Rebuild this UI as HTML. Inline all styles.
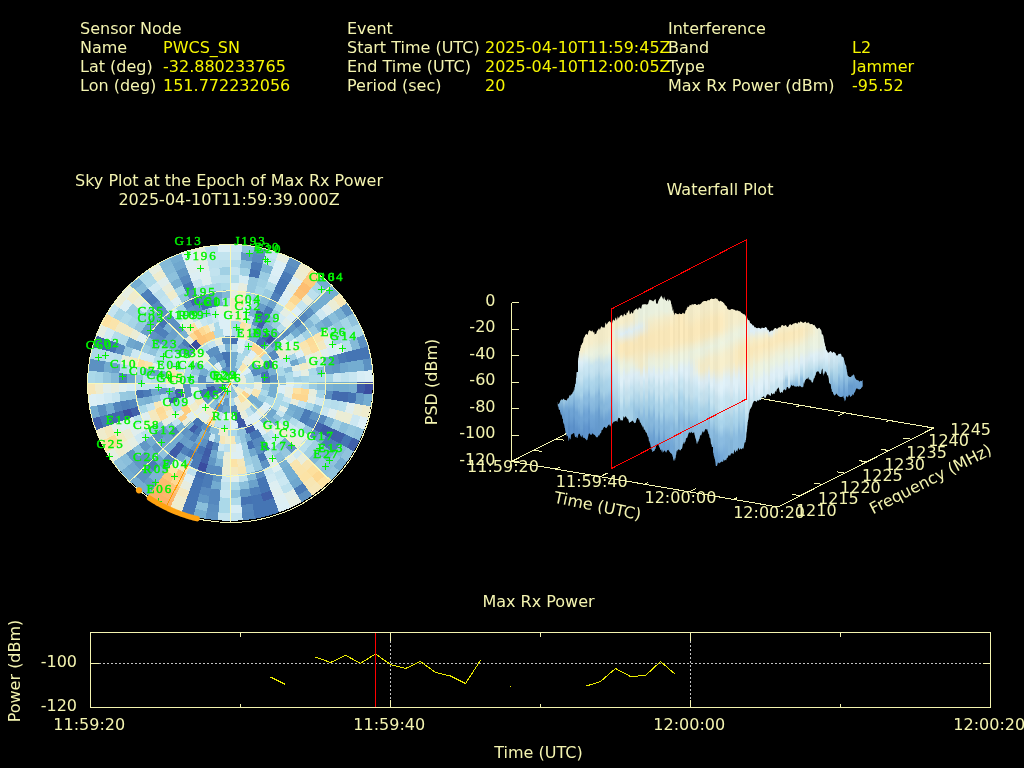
<!DOCTYPE html>
<html lang="en"><head><meta charset="utf-8"><title>Interference Event Report</title>
<style>
html,body{margin:0;padding:0;background:#000;width:1024px;height:768px;overflow:hidden}
svg{display:block;font-family:"DejaVu Sans","Liberation Sans",sans-serif}
</style></head><body>
<svg width="1024" height="768" viewBox="0 0 1024 768">
<rect width="1024" height="768" fill="#000"/>
<g shape-rendering="crispEdges" stroke="none">
<path d="M229.7 244.2L236.2 244.4L242.7 244.8L242.0 253.2L235.8 252.8L229.7 252.7Z" fill="#cde8f2"/>
<path d="M242.1 244.7L248.6 245.4L255.1 246.4L253.5 254.7L247.5 253.8L241.4 253.2Z" fill="#90c3dd"/>
<path d="M254.5 246.3L260.9 247.5L267.2 249.0L265.0 257.2L259.0 255.8L253.0 254.6Z" fill="#5d91c2"/>
<path d="M266.7 248.9L272.9 250.6L279.1 252.7L276.1 260.6L270.3 258.7L264.4 257.1Z" fill="#c4e4f0"/>
<path d="M278.6 252.5L284.6 254.7L290.6 257.3L286.9 265.0L281.3 262.6L275.6 260.5Z" fill="#e6eee2"/>
<path d="M290.1 257.1L295.9 259.8L301.7 262.9L297.2 270.2L291.9 267.4L286.4 264.8Z" fill="#5d91c2"/>
<path d="M301.1 262.6L306.7 265.9L312.1 269.4L307.1 276.3L302.0 273.0L296.8 270.0Z" fill="#efeccd"/>
<path d="M311.7 269.1L316.9 272.8L322.0 276.8L316.4 283.3L311.6 279.5L306.6 276.0Z" fill="#fdcb7d"/>
<path d="M321.6 276.4L326.5 280.6L331.2 284.9L325.0 290.9L320.5 286.8L315.9 282.9Z" fill="#74add1"/>
<path d="M330.8 284.5L335.3 289.1L339.6 293.8L332.8 299.3L328.8 294.8L324.6 290.5Z" fill="#74add1"/>
<path d="M339.2 293.4L343.3 298.3L347.1 303.4L339.9 308.3L336.3 303.5L332.5 298.9Z" fill="#f6e7b8"/>
<path d="M346.8 303.0L350.4 308.2L353.8 313.6L346.2 317.8L343.0 312.8L339.6 307.8Z" fill="#5c91c2"/>
<path d="M353.5 313.1L356.7 318.7L359.5 324.3L351.6 327.9L348.9 322.6L345.9 317.4Z" fill="#90c3dd"/>
<path d="M359.3 323.8L361.9 329.6L364.3 335.5L356.0 338.4L353.8 332.8L351.3 327.4Z" fill="#abd9e9"/>
<path d="M364.1 334.9L366.2 340.9L368.0 347.0L359.5 349.2L357.8 343.5L355.8 337.9Z" fill="#5c91c2"/>
<path d="M367.8 346.4L369.4 352.6L370.7 358.8L362.0 360.2L360.8 354.4L359.4 348.6Z" fill="#4575b4"/>
<path d="M370.6 358.2L371.6 364.5L372.3 370.7L363.5 371.5L362.9 365.6L361.9 359.7Z" fill="#5c91c2"/>
<path d="M372.2 370.2L372.6 376.5L372.8 382.8L364.0 382.8L363.9 376.8L363.5 370.9Z" fill="#dceff6"/>
<path d="M372.8 382.2L372.6 388.5L372.2 394.8L363.5 394.1L363.9 388.2L364.0 382.2Z" fill="#3a4ca0"/>
<path d="M372.3 394.3L371.6 400.5L370.6 406.8L361.9 405.3L362.9 399.4L363.5 393.5Z" fill="#74add1"/>
<path d="M370.7 406.2L369.4 412.4L367.8 418.6L359.4 416.4L360.8 410.6L362.0 404.8Z" fill="#efeccd"/>
<path d="M368.0 418.0L366.2 424.1L364.1 430.1L355.8 427.1L357.8 421.5L359.5 415.8Z" fill="#dceff6"/>
<path d="M364.3 429.5L361.9 435.4L359.3 441.2L351.3 437.6L353.8 432.2L356.0 426.6Z" fill="#90c3dd"/>
<path d="M359.5 440.7L356.7 446.3L353.5 451.9L345.9 447.6L348.9 442.4L351.6 437.1Z" fill="#4060aa"/>
<path d="M353.8 451.4L350.4 456.8L346.8 462.0L339.6 457.2L343.0 452.2L346.2 447.2Z" fill="#90c3dd"/>
<path d="M347.1 461.6L343.3 466.7L339.2 471.6L332.5 466.1L336.3 461.5L339.9 456.7Z" fill="#74add1"/>
<path d="M339.6 471.2L335.3 475.9L330.8 480.5L324.6 474.5L328.8 470.2L332.8 465.7Z" fill="#90c3dd"/>
<path d="M331.2 480.1L326.5 484.4L321.6 488.6L315.9 482.1L320.5 478.2L325.0 474.1Z" fill="#fde2a2"/>
<path d="M322.0 488.2L316.9 492.2L311.7 495.9L306.6 489.0L311.6 485.5L316.4 481.7Z" fill="#f6e7b8"/>
<path d="M312.1 495.6L306.7 499.1L301.1 502.4L296.8 495.0L302.0 492.0L307.1 488.7Z" fill="#5d91c2"/>
<path d="M301.7 502.1L295.9 505.2L290.1 507.9L286.4 500.2L291.9 497.6L297.2 494.8Z" fill="#e6eee2"/>
<path d="M290.6 507.7L284.6 510.3L278.6 512.5L275.6 504.5L281.3 502.4L286.9 500.0Z" fill="#dceff6"/>
<path d="M279.1 512.3L272.9 514.4L266.7 516.1L264.4 507.9L270.3 506.3L276.1 504.4Z" fill="#4575b4"/>
<path d="M267.2 516.0L260.9 517.5L254.5 518.7L253.0 510.4L259.0 509.2L265.0 507.8Z" fill="#4575b4"/>
<path d="M255.1 518.6L248.6 519.6L242.1 520.3L241.4 511.8L247.5 511.2L253.5 510.3Z" fill="#5386bd"/>
<path d="M242.7 520.2L236.2 520.6L229.7 520.8L229.7 512.3L235.8 512.2L242.0 511.8Z" fill="#c4e4f0"/>
<path d="M230.3 520.8L223.8 520.6L217.3 520.2L218.0 511.8L224.2 512.2L230.3 512.3Z" fill="#c4e4f0"/>
<path d="M217.9 520.3L211.4 519.6L204.9 518.6L206.5 510.3L212.5 511.2L218.6 511.8Z" fill="#5d91c2"/>
<path d="M205.5 518.7L199.1 517.5L192.8 516.0L195.0 507.8L201.0 509.2L207.0 510.4Z" fill="#74add1"/>
<path d="M193.3 516.1L187.1 514.4L180.9 512.3L183.9 504.4L189.7 506.3L195.6 507.9Z" fill="#4575b4"/>
<path d="M181.4 512.5L175.4 510.3L169.4 507.7L173.1 500.0L178.7 502.4L184.4 504.5Z" fill="#efeccd"/>
<path d="M169.9 507.9L164.1 505.2L158.3 502.1L162.8 494.8L168.1 497.6L173.6 500.2Z" fill="#fdb268"/>
<path d="M158.9 502.4L153.3 499.1L147.9 495.6L152.9 488.7L158.0 492.0L163.2 495.0Z" fill="#fdb268"/>
<path d="M148.3 495.9L143.1 492.2L138.0 488.2L143.6 481.7L148.4 485.5L153.4 489.0Z" fill="#74add1"/>
<path d="M138.4 488.6L133.5 484.4L128.8 480.1L135.0 474.1L139.5 478.2L144.1 482.1Z" fill="#74add1"/>
<path d="M129.2 480.5L124.7 475.9L120.4 471.2L127.2 465.7L131.2 470.2L135.4 474.5Z" fill="#74add1"/>
<path d="M120.8 471.6L116.7 466.7L112.9 461.6L120.1 456.7L123.7 461.5L127.5 466.1Z" fill="#90c3dd"/>
<path d="M113.2 462.0L109.6 456.8L106.2 451.4L113.8 447.2L117.0 452.2L120.4 457.2Z" fill="#e6eee2"/>
<path d="M106.5 451.9L103.3 446.3L100.5 440.7L108.4 437.1L111.1 442.4L114.1 447.6Z" fill="#fde2a2"/>
<path d="M100.7 441.2L98.1 435.4L95.7 429.5L104.0 426.6L106.2 432.2L108.7 437.6Z" fill="#efeccd"/>
<path d="M95.9 430.1L93.8 424.1L92.0 418.0L100.5 415.8L102.2 421.5L104.2 427.1Z" fill="#4060aa"/>
<path d="M92.2 418.6L90.6 412.4L89.3 406.2L98.0 404.8L99.2 410.6L100.6 416.4Z" fill="#74add1"/>
<path d="M89.4 406.8L88.4 400.5L87.7 394.3L96.5 393.5L97.1 399.4L98.1 405.3Z" fill="#dceff6"/>
<path d="M87.8 394.8L87.4 388.5L87.2 382.2L96.0 382.2L96.1 388.2L96.5 394.1Z" fill="#f6e7b8"/>
<path d="M87.2 382.8L87.4 376.5L87.8 370.2L96.5 370.9L96.1 376.8L96.0 382.8Z" fill="#abd9e9"/>
<path d="M87.7 370.7L88.4 364.5L89.4 358.2L98.1 359.7L97.1 365.6L96.5 371.5Z" fill="#5c91c2"/>
<path d="M89.3 358.8L90.6 352.6L92.2 346.4L100.6 348.6L99.2 354.4L98.0 360.2Z" fill="#abd9e9"/>
<path d="M92.0 347.0L93.8 340.9L95.9 334.9L104.2 337.9L102.2 343.5L100.5 349.2Z" fill="#4060aa"/>
<path d="M95.7 335.5L98.1 329.6L100.7 323.8L108.7 327.4L106.2 332.8L104.0 338.4Z" fill="#e6eee2"/>
<path d="M100.5 324.3L103.3 318.7L106.5 313.1L114.1 317.4L111.1 322.6L108.4 327.9Z" fill="#fde2a2"/>
<path d="M106.2 313.6L109.6 308.2L113.2 303.0L120.4 307.8L117.0 312.8L113.8 317.8Z" fill="#c4e4f0"/>
<path d="M112.9 303.4L116.7 298.3L120.8 293.4L127.5 298.9L123.7 303.5L120.1 308.3Z" fill="#ebedd5"/>
<path d="M120.4 293.8L124.7 289.1L129.2 284.5L135.4 290.5L131.2 294.8L127.2 299.3Z" fill="#e6eee2"/>
<path d="M128.8 284.9L133.5 280.6L138.4 276.4L144.1 282.9L139.5 286.8L135.0 290.9Z" fill="#74add1"/>
<path d="M138.0 276.8L143.1 272.8L148.3 269.1L153.4 276.0L148.4 279.5L143.6 283.3Z" fill="#abd9e9"/>
<path d="M147.9 269.4L153.3 265.9L158.9 262.6L163.2 270.0L158.0 273.0L152.9 276.3Z" fill="#e6eee2"/>
<path d="M158.3 262.9L164.1 259.8L169.9 257.1L173.6 264.8L168.1 267.4L162.8 270.2Z" fill="#84bad8"/>
<path d="M169.4 257.3L175.4 254.7L181.4 252.5L184.4 260.5L178.7 262.6L173.1 265.0Z" fill="#74add1"/>
<path d="M180.9 252.7L187.1 250.6L193.3 248.9L195.6 257.1L189.7 258.7L183.9 260.6Z" fill="#dceff6"/>
<path d="M192.8 249.0L199.1 247.5L205.5 246.3L207.0 254.6L201.0 255.8L195.0 257.2Z" fill="#e6eee2"/>
<path d="M204.9 246.4L211.4 245.4L217.9 244.7L218.6 253.2L212.5 253.8L206.5 254.7Z" fill="#bae0ed"/>
<path d="M217.3 244.8L223.8 244.4L230.3 244.2L230.3 252.7L224.2 252.8L218.0 253.2Z" fill="#dceff6"/>
<path d="M229.7 251.9L235.9 252.0L242.0 252.4L241.3 260.9L235.5 260.5L229.7 260.4Z" fill="#c6e5f0"/>
<path d="M241.5 252.4L247.6 253.0L253.7 253.9L252.2 262.3L246.5 261.4L240.7 260.8Z" fill="#6197c5"/>
<path d="M253.1 253.8L259.2 255.0L265.2 256.4L262.9 264.6L257.3 263.3L251.6 262.2Z" fill="#588bc0"/>
<path d="M264.6 256.3L270.6 257.9L276.4 259.9L273.4 267.8L267.9 266.0L262.4 264.5Z" fill="#bae0ed"/>
<path d="M275.9 259.7L281.6 261.8L287.3 264.2L283.5 271.9L278.3 269.7L272.9 267.7Z" fill="#dceff6"/>
<path d="M286.7 264.0L292.3 266.6L297.7 269.5L293.3 276.9L288.2 274.2L283.1 271.7Z" fill="#588bc0"/>
<path d="M297.2 269.3L302.5 272.3L307.6 275.7L302.5 282.6L297.8 279.5L292.8 276.6Z" fill="#edecd1"/>
<path d="M307.1 275.4L312.1 278.9L316.9 282.6L311.3 289.1L306.8 285.6L302.1 282.3Z" fill="#fdcb7d"/>
<path d="M316.5 282.3L321.1 286.2L325.6 290.3L319.4 296.3L315.2 292.5L310.9 288.8Z" fill="#a9d7e8"/>
<path d="M325.2 290.0L329.4 294.3L333.5 298.8L326.8 304.2L323.0 300.0L319.0 296.0Z" fill="#74add1"/>
<path d="M333.1 298.3L337.0 303.0L340.6 307.8L333.4 312.7L330.0 308.2L326.4 303.8Z" fill="#ebedd5"/>
<path d="M340.3 307.4L343.7 312.3L346.9 317.4L339.3 321.7L336.3 316.9L333.1 312.2Z" fill="#7ab1d3"/>
<path d="M346.7 317.0L349.6 322.2L352.4 327.6L344.4 331.1L341.8 326.1L339.1 321.2Z" fill="#a6d5e7"/>
<path d="M352.1 327.1L354.6 332.5L356.8 338.1L348.6 341.0L346.5 335.8L344.2 330.7Z" fill="#abd9e9"/>
<path d="M356.6 337.6L358.6 343.2L360.3 349.0L351.9 351.1L350.3 345.8L348.4 340.5Z" fill="#84bad8"/>
<path d="M360.2 348.4L361.7 354.2L362.9 360.1L354.2 361.5L353.1 356.1L351.7 350.6Z" fill="#4575b4"/>
<path d="M362.8 359.6L363.7 365.5L364.4 371.4L355.6 372.1L355.0 366.6L354.1 361.0Z" fill="#74add1"/>
<path d="M364.3 370.8L364.7 376.8L364.9 382.8L356.1 382.8L356.0 377.2L355.6 371.6Z" fill="#d7edf5"/>
<path d="M364.9 382.2L364.7 388.2L364.3 394.2L355.6 393.4L356.0 387.8L356.1 382.2Z" fill="#3e5ca8"/>
<path d="M364.4 393.6L363.7 399.5L362.8 405.4L354.1 404.0L355.0 398.4L355.6 392.9Z" fill="#689ec9"/>
<path d="M362.9 404.9L361.7 410.8L360.2 416.6L351.7 414.4L353.1 408.9L354.2 403.5Z" fill="#ebedd5"/>
<path d="M360.3 416.0L358.6 421.8L356.6 427.4L348.4 424.5L350.3 419.2L351.9 413.9Z" fill="#cde8f2"/>
<path d="M356.8 426.9L354.6 432.5L352.1 437.9L344.2 434.3L346.5 429.2L348.6 424.0Z" fill="#95c7df"/>
<path d="M352.4 437.4L349.6 442.8L346.7 448.0L339.1 443.8L341.8 438.9L344.4 433.9Z" fill="#4575b4"/>
<path d="M346.9 447.6L343.7 452.7L340.3 457.6L333.1 452.8L336.3 448.1L339.3 443.3Z" fill="#84bad8"/>
<path d="M340.6 457.2L337.0 462.0L333.1 466.7L326.4 461.2L330.0 456.8L333.4 452.3Z" fill="#90c3dd"/>
<path d="M333.5 466.2L329.4 470.7L325.2 475.0L319.0 469.0L323.0 465.0L326.8 460.8Z" fill="#8abfdb"/>
<path d="M325.6 474.7L321.1 478.8L316.5 482.7L310.9 476.2L315.2 472.5L319.4 468.7Z" fill="#fdd993"/>
<path d="M316.9 482.4L312.1 486.1L307.1 489.6L302.1 482.7L306.8 479.4L311.3 475.9Z" fill="#f7e6b3"/>
<path d="M307.6 489.3L302.5 492.7L297.2 495.7L292.8 488.4L297.8 485.5L302.5 482.4Z" fill="#4a7bb7"/>
<path d="M297.7 495.5L292.3 498.4L286.7 501.0L283.1 493.3L288.2 490.8L293.3 488.1Z" fill="#e2eee8"/>
<path d="M287.3 500.8L281.6 503.2L275.9 505.3L272.9 497.3L278.3 495.3L283.5 493.1Z" fill="#ddeff4"/>
<path d="M276.4 505.1L270.6 507.1L264.6 508.7L262.4 500.5L267.9 499.0L273.4 497.2Z" fill="#4575b4"/>
<path d="M265.2 508.6L259.2 510.0L253.1 511.2L251.6 502.8L257.3 501.7L262.9 500.4Z" fill="#4575b4"/>
<path d="M253.7 511.1L247.6 512.0L241.5 512.6L240.7 504.2L246.5 503.6L252.2 502.7Z" fill="#5588be"/>
<path d="M242.0 512.6L235.9 513.0L229.7 513.1L229.7 504.6L235.5 504.5L241.3 504.1Z" fill="#d7edf5"/>
<path d="M230.3 513.1L224.1 513.0L218.0 512.6L218.7 504.1L224.5 504.5L230.3 504.6Z" fill="#abd9e9"/>
<path d="M218.5 512.6L212.4 512.0L206.3 511.1L207.8 502.7L213.5 503.6L219.3 504.2Z" fill="#5b8fc1"/>
<path d="M206.9 511.2L200.8 510.0L194.8 508.6L197.1 500.4L202.7 501.7L208.4 502.8Z" fill="#8abfdb"/>
<path d="M195.4 508.7L189.4 507.1L183.6 505.1L186.6 497.2L192.1 499.0L197.6 500.5Z" fill="#4575b4"/>
<path d="M184.1 505.3L178.4 503.2L172.7 500.8L176.5 493.1L181.7 495.3L187.1 497.3Z" fill="#eeeccf"/>
<path d="M173.3 501.0L167.7 498.4L162.3 495.5L166.7 488.1L171.8 490.8L176.9 493.3Z" fill="#fdb76c"/>
<path d="M162.8 495.7L157.5 492.7L152.4 489.3L157.5 482.4L162.2 485.5L167.2 488.4Z" fill="#fdb46a"/>
<path d="M152.9 489.6L147.9 486.1L143.1 482.4L148.7 475.9L153.2 479.4L157.9 482.7Z" fill="#649ac7"/>
<path d="M143.5 482.7L138.9 478.8L134.4 474.7L140.6 468.7L144.8 472.5L149.1 476.2Z" fill="#5d91c2"/>
<path d="M134.8 475.0L130.6 470.7L126.5 466.2L133.2 460.8L137.0 465.0L141.0 469.0Z" fill="#6fa7ce"/>
<path d="M126.9 466.7L123.0 462.0L119.4 457.2L126.6 452.3L130.0 456.8L133.6 461.2Z" fill="#8abfdb"/>
<path d="M119.7 457.6L116.3 452.7L113.1 447.6L120.7 443.3L123.7 448.1L126.9 452.8Z" fill="#eeeccf"/>
<path d="M113.3 448.0L110.4 442.8L107.6 437.4L115.6 433.9L118.2 438.9L120.9 443.8Z" fill="#fddb97"/>
<path d="M107.9 437.9L105.4 432.5L103.2 426.9L111.4 424.0L113.5 429.2L115.8 434.3Z" fill="#f4e8be"/>
<path d="M103.4 427.4L101.4 421.8L99.7 416.0L108.1 413.9L109.7 419.2L111.6 424.5Z" fill="#4777b5"/>
<path d="M99.8 416.6L98.3 410.8L97.1 404.9L105.8 403.5L106.9 408.9L108.3 414.4Z" fill="#5c91c2"/>
<path d="M97.2 405.4L96.3 399.5L95.6 393.6L104.4 392.9L105.0 398.4L105.9 404.0Z" fill="#d9eef5"/>
<path d="M95.7 394.2L95.3 388.2L95.1 382.2L103.9 382.2L104.0 387.8L104.4 393.4Z" fill="#eeeccf"/>
<path d="M95.1 382.8L95.3 376.8L95.7 370.8L104.4 371.6L104.0 377.2L103.9 382.8Z" fill="#a6d5e7"/>
<path d="M95.6 371.4L96.3 365.5L97.2 359.6L105.9 361.0L105.0 366.6L104.4 372.1Z" fill="#5c91c2"/>
<path d="M97.1 360.1L98.3 354.2L99.8 348.4L108.3 350.6L106.9 356.1L105.8 361.5Z" fill="#b0dbea"/>
<path d="M99.7 349.0L101.4 343.2L103.4 337.6L111.6 340.5L109.7 345.8L108.1 351.1Z" fill="#4165ac"/>
<path d="M103.2 338.1L105.4 332.5L107.9 327.1L115.8 330.7L113.5 335.8L111.4 341.0Z" fill="#d2ebf3"/>
<path d="M107.6 327.6L110.4 322.2L113.3 317.0L120.9 321.2L118.2 326.1L115.6 331.1Z" fill="#fae4ab"/>
<path d="M113.1 317.4L116.3 312.3L119.7 307.4L126.9 312.2L123.7 316.9L120.7 321.7Z" fill="#a6d5e7"/>
<path d="M119.4 307.8L123.0 303.0L126.9 298.3L133.6 303.8L130.0 308.2L126.6 312.7Z" fill="#ddeff4"/>
<path d="M126.5 298.8L130.6 294.3L134.8 290.0L141.0 296.0L137.0 300.0L133.2 304.2Z" fill="#f0eccb"/>
<path d="M134.4 290.3L138.9 286.2L143.5 282.3L149.1 288.8L144.8 292.5L140.6 296.3Z" fill="#84bad8"/>
<path d="M143.1 282.6L147.9 278.9L152.9 275.4L157.9 282.3L153.2 285.6L148.7 289.1Z" fill="#aedaea"/>
<path d="M152.4 275.7L157.5 272.3L162.8 269.3L167.2 276.6L162.2 279.5L157.5 282.6Z" fill="#eeeccf"/>
<path d="M162.3 269.5L167.7 266.6L173.3 264.0L176.9 271.7L171.8 274.2L166.7 276.9Z" fill="#87bcd9"/>
<path d="M172.7 264.2L178.4 261.8L184.1 259.7L187.1 267.7L181.7 269.7L176.5 271.9Z" fill="#6fa7ce"/>
<path d="M183.6 259.9L189.4 257.9L195.4 256.3L197.6 264.5L192.1 266.0L186.6 267.8Z" fill="#ddeff4"/>
<path d="M194.8 256.4L200.8 255.0L206.9 253.8L208.4 262.2L202.7 263.3L197.1 264.6Z" fill="#e5eee3"/>
<path d="M206.3 253.9L212.4 253.0L218.5 252.4L219.3 260.8L213.5 261.4L207.8 262.3Z" fill="#c1e3ef"/>
<path d="M218.0 252.4L224.1 252.0L230.3 251.9L230.3 260.4L224.5 260.5L218.7 260.9Z" fill="#c2e3ef"/>
<path d="M229.7 259.6L235.5 259.7L241.3 260.0L240.5 268.5L235.2 268.2L229.8 268.1Z" fill="#b2dceb"/>
<path d="M240.8 260.0L246.6 260.6L252.3 261.5L250.8 269.8L245.4 269.0L240.1 268.5Z" fill="#8abfdb"/>
<path d="M251.8 261.4L257.5 262.5L263.1 263.8L260.8 272.0L255.6 270.8L250.3 269.7Z" fill="#4a7bb7"/>
<path d="M262.6 263.7L268.2 265.2L273.7 267.1L270.7 275.0L265.5 273.3L260.3 271.9Z" fill="#7fb6d6"/>
<path d="M273.2 266.9L278.6 268.9L283.9 271.2L280.2 278.9L275.2 276.8L270.2 274.9Z" fill="#dceff6"/>
<path d="M283.4 271.0L288.6 273.4L293.7 276.2L289.3 283.5L284.6 281.0L279.7 278.7Z" fill="#4a7bb7"/>
<path d="M293.2 275.9L298.2 278.8L303.0 281.9L298.0 288.9L293.5 286.0L288.9 283.3Z" fill="#deeff2"/>
<path d="M302.6 281.6L307.3 285.0L311.8 288.5L306.2 295.0L301.9 291.7L297.6 288.6Z" fill="#fdbe72"/>
<path d="M311.4 288.2L315.8 291.9L320.0 295.7L313.7 301.7L309.8 298.1L305.8 294.7Z" fill="#bce0ed"/>
<path d="M319.6 295.4L323.6 299.4L327.4 303.7L320.7 309.1L317.1 305.2L313.4 301.4Z" fill="#74add1"/>
<path d="M327.1 303.3L330.7 307.7L334.1 312.2L326.9 317.1L323.8 312.8L320.4 308.8Z" fill="#e0eeee"/>
<path d="M333.8 311.8L337.1 316.4L340.1 321.3L332.5 325.5L329.7 321.0L326.7 316.7Z" fill="#8abfdb"/>
<path d="M339.8 320.8L342.6 325.7L345.2 330.8L337.2 334.3L334.8 329.7L332.2 325.1Z" fill="#95c7df"/>
<path d="M344.9 330.3L347.3 335.5L349.4 340.7L341.1 343.6L339.2 338.7L337.0 333.9Z" fill="#abd9e9"/>
<path d="M349.2 340.2L351.1 345.5L352.7 350.9L344.2 353.1L342.7 348.1L341.0 343.1Z" fill="#b5ddec"/>
<path d="M352.6 350.4L353.9 355.9L355.1 361.4L346.4 362.9L345.4 357.7L344.1 352.6Z" fill="#4575b4"/>
<path d="M355.0 360.9L355.9 366.5L356.5 372.0L347.8 372.8L347.2 367.6L346.3 362.4Z" fill="#74add1"/>
<path d="M356.4 371.5L356.8 377.1L357.0 382.8L348.2 382.7L348.1 377.5L347.7 372.3Z" fill="#c8e6f1"/>
<path d="M357.0 382.2L356.8 387.9L356.4 393.5L347.7 392.7L348.1 387.5L348.2 382.3Z" fill="#7ab1d3"/>
<path d="M356.5 393.0L355.9 398.5L355.0 404.1L346.3 402.6L347.2 397.4L347.8 392.2Z" fill="#4573b3"/>
<path d="M355.1 403.6L353.9 409.1L352.6 414.6L344.1 412.4L345.4 407.3L346.4 402.1Z" fill="#e0eeee"/>
<path d="M352.7 414.1L351.1 419.5L349.2 424.8L341.0 421.9L342.7 416.9L344.2 411.9Z" fill="#ebedd5"/>
<path d="M349.4 424.3L347.3 429.5L344.9 434.7L337.0 431.1L339.2 426.3L341.1 421.4Z" fill="#8abfdb"/>
<path d="M345.2 434.2L342.6 439.3L339.8 444.2L332.2 439.9L334.8 435.3L337.2 430.7Z" fill="#4060aa"/>
<path d="M340.1 443.7L337.1 448.6L333.8 453.2L326.7 448.3L329.7 444.0L332.5 439.5Z" fill="#4e80ba"/>
<path d="M334.1 452.8L330.7 457.3L327.1 461.7L320.4 456.2L323.8 452.2L326.9 447.9Z" fill="#74add1"/>
<path d="M327.4 461.3L323.6 465.6L319.6 469.6L313.4 463.6L317.1 459.8L320.7 455.9Z" fill="#95c7df"/>
<path d="M320.0 469.3L315.8 473.1L311.4 476.8L305.8 470.3L309.8 466.9L313.7 463.3Z" fill="#fde09e"/>
<path d="M311.8 476.5L307.3 480.0L302.6 483.4L297.6 476.4L301.9 473.3L306.2 470.0Z" fill="#fce3a6"/>
<path d="M303.0 483.1L298.2 486.2L293.2 489.1L288.9 481.7L293.5 479.0L298.0 476.1Z" fill="#6fa7ce"/>
<path d="M293.7 488.8L288.6 491.6L283.4 494.0L279.7 486.3L284.6 484.0L289.3 481.5Z" fill="#bde1ee"/>
<path d="M283.9 493.8L278.6 496.1L273.2 498.1L270.2 490.1L275.2 488.2L280.2 486.1Z" fill="#dfefef"/>
<path d="M273.7 497.9L268.2 499.8L262.6 501.3L260.3 493.1L265.5 491.7L270.7 490.0Z" fill="#4060aa"/>
<path d="M263.1 501.2L257.5 502.5L251.8 503.6L250.3 495.3L255.6 494.2L260.8 493.0Z" fill="#4575b4"/>
<path d="M252.3 503.5L246.6 504.4L240.8 505.0L240.1 496.5L245.4 496.0L250.8 495.2Z" fill="#4573b3"/>
<path d="M241.3 505.0L235.5 505.3L229.7 505.4L229.8 496.9L235.2 496.8L240.5 496.5Z" fill="#b0dbea"/>
<path d="M230.3 505.4L224.5 505.3L218.7 505.0L219.5 496.5L224.8 496.8L230.2 496.9Z" fill="#abd9e9"/>
<path d="M219.2 505.0L213.4 504.4L207.7 503.5L209.2 495.2L214.6 496.0L219.9 496.5Z" fill="#5588be"/>
<path d="M208.2 503.6L202.5 502.5L196.9 501.2L199.2 493.0L204.4 494.2L209.7 495.3Z" fill="#6197c5"/>
<path d="M197.4 501.3L191.8 499.8L186.3 497.9L189.3 490.0L194.5 491.7L199.7 493.1Z" fill="#4575b4"/>
<path d="M186.8 498.1L181.4 496.1L176.1 493.8L179.8 486.1L184.8 488.2L189.8 490.1Z" fill="#f3e9c2"/>
<path d="M176.6 494.0L171.4 491.6L166.3 488.8L170.7 481.5L175.4 484.0L180.3 486.3Z" fill="#fdc679"/>
<path d="M166.8 489.1L161.8 486.2L157.0 483.1L162.0 476.1L166.5 479.0L171.1 481.7Z" fill="#fdbc70"/>
<path d="M157.4 483.4L152.7 480.0L148.2 476.5L153.8 470.0L158.1 473.3L162.4 476.4Z" fill="#7cb3d4"/>
<path d="M148.6 476.8L144.2 473.1L140.0 469.3L146.3 463.3L150.2 466.9L154.2 470.3Z" fill="#5d91c2"/>
<path d="M140.4 469.6L136.4 465.6L132.6 461.3L139.3 455.9L142.9 459.8L146.6 463.6Z" fill="#6197c5"/>
<path d="M132.9 461.7L129.3 457.3L125.9 452.8L133.1 447.9L136.2 452.2L139.6 456.2Z" fill="#6197c5"/>
<path d="M126.2 453.2L122.9 448.6L119.9 443.7L127.5 439.5L130.3 444.0L133.3 448.3Z" fill="#eaedd7"/>
<path d="M120.2 444.2L117.4 439.3L114.8 434.2L122.8 430.7L125.2 435.3L127.8 439.9Z" fill="#f2eac4"/>
<path d="M115.1 434.7L112.7 429.5L110.6 424.3L118.9 421.4L120.8 426.3L123.0 431.1Z" fill="#e4eee4"/>
<path d="M110.8 424.8L108.9 419.5L107.3 414.1L115.8 411.9L117.3 416.9L119.0 421.9Z" fill="#4167ad"/>
<path d="M107.4 414.6L106.1 409.1L104.9 403.6L113.6 402.1L114.6 407.3L115.9 412.4Z" fill="#74add1"/>
<path d="M105.0 404.1L104.1 398.5L103.5 393.0L112.2 392.2L112.8 397.4L113.7 402.6Z" fill="#d0eaf3"/>
<path d="M103.6 393.5L103.2 387.9L103.0 382.2L111.8 382.3L111.9 387.5L112.3 392.7Z" fill="#e1eeeb"/>
<path d="M103.0 382.8L103.2 377.1L103.6 371.5L112.3 372.3L111.9 377.5L111.8 382.7Z" fill="#95c7df"/>
<path d="M103.5 372.0L104.1 366.5L105.0 360.9L113.7 362.4L112.8 367.6L112.2 372.8Z" fill="#74add1"/>
<path d="M104.9 361.4L106.1 355.9L107.4 350.4L115.9 352.6L114.6 357.7L113.6 362.9Z" fill="#bfe2ee"/>
<path d="M107.3 350.9L108.9 345.5L110.8 340.2L119.0 343.1L117.3 348.1L115.8 353.1Z" fill="#4471b2"/>
<path d="M110.6 340.7L112.7 335.5L115.1 330.3L123.0 333.9L120.8 338.7L118.9 343.6Z" fill="#b5ddec"/>
<path d="M114.8 330.8L117.4 325.7L120.2 320.8L127.8 325.1L125.2 329.7L122.8 334.3Z" fill="#f2eac4"/>
<path d="M119.9 321.3L122.9 316.4L126.2 311.8L133.3 316.7L130.3 321.0L127.5 325.5Z" fill="#b0dbea"/>
<path d="M125.9 312.2L129.3 307.7L132.9 303.3L139.6 308.8L136.2 312.8L133.1 317.1Z" fill="#9ecee3"/>
<path d="M132.6 303.7L136.4 299.4L140.4 295.4L146.6 301.4L142.9 305.2L139.3 309.1Z" fill="#e9eddb"/>
<path d="M140.0 295.7L144.2 291.9L148.6 288.2L154.2 294.7L150.2 298.1L146.3 301.7Z" fill="#4e80ba"/>
<path d="M148.2 288.5L152.7 285.0L157.4 281.6L162.4 288.6L158.1 291.7L153.8 295.0Z" fill="#cfe9f3"/>
<path d="M157.0 281.9L161.8 278.8L166.8 275.9L171.1 283.3L166.5 286.0L162.0 288.9Z" fill="#e1eeeb"/>
<path d="M166.3 276.2L171.4 273.4L176.6 271.0L180.3 278.7L175.4 281.0L170.7 283.5Z" fill="#8dc1dc"/>
<path d="M176.1 271.2L181.4 268.9L186.8 266.9L189.8 274.9L184.8 276.8L179.8 278.9Z" fill="#6197c5"/>
<path d="M186.3 267.1L191.8 265.2L197.4 263.7L199.7 271.9L194.5 273.3L189.3 275.0Z" fill="#dfefef"/>
<path d="M196.9 263.8L202.5 262.5L208.2 261.4L209.7 269.7L204.4 270.8L199.2 272.0Z" fill="#e2eee8"/>
<path d="M207.7 261.5L213.4 260.6L219.2 260.0L219.9 268.5L214.6 269.0L209.2 269.8Z" fill="#bde1ee"/>
<path d="M218.7 260.0L224.5 259.7L230.3 259.6L230.2 268.1L224.8 268.2L219.5 268.5Z" fill="#bce0ed"/>
<path d="M229.8 267.2L235.2 267.3L240.6 267.7L239.8 276.1L234.8 275.8L229.8 275.7Z" fill="#c5e5f0"/>
<path d="M240.1 267.6L245.5 268.2L250.9 269.0L249.4 277.4L244.4 276.6L239.4 276.1Z" fill="#a2d2e5"/>
<path d="M250.4 268.9L255.8 270.0L261.0 271.2L258.8 279.4L253.9 278.2L248.9 277.3Z" fill="#4471b2"/>
<path d="M260.6 271.1L265.8 272.6L270.9 274.3L267.9 282.2L263.2 280.7L258.3 279.3Z" fill="#9acce2"/>
<path d="M270.5 274.1L275.6 276.0L280.5 278.1L276.8 285.8L272.2 283.8L267.5 282.1Z" fill="#d7edf5"/>
<path d="M280.1 277.9L285.0 280.2L289.7 282.8L285.3 290.1L280.9 287.8L276.4 285.6Z" fill="#4575b4"/>
<path d="M289.3 282.5L294.0 285.3L298.5 288.2L293.4 295.2L289.2 292.4L284.9 289.9Z" fill="#e4eee6"/>
<path d="M298.1 287.9L302.5 291.0L306.7 294.3L301.1 300.8L297.1 297.8L293.1 294.9Z" fill="#fdc275"/>
<path d="M306.3 294.0L310.4 297.5L314.3 301.2L308.1 307.2L304.5 303.8L300.7 300.6Z" fill="#eaedd8"/>
<path d="M314.0 300.8L317.8 304.6L321.3 308.6L314.6 314.0L311.3 310.4L307.8 306.8Z" fill="#74add1"/>
<path d="M321.0 308.2L324.4 312.3L327.7 316.6L320.5 321.4L317.5 317.5L314.3 313.7Z" fill="#cde8f2"/>
<path d="M327.4 316.2L330.4 320.6L333.2 325.1L325.6 329.3L323.0 325.1L320.2 321.1Z" fill="#6fa7ce"/>
<path d="M333.0 324.7L335.6 329.3L338.0 334.0L330.0 337.6L327.8 333.2L325.4 328.9Z" fill="#abd9e9"/>
<path d="M337.8 333.6L340.0 338.4L341.9 343.3L333.7 346.2L331.9 341.6L329.8 337.2Z" fill="#a0d0e4"/>
<path d="M341.8 342.8L343.5 347.8L345.0 352.9L336.6 355.1L335.2 350.4L333.5 345.8Z" fill="#deeff2"/>
<path d="M344.9 352.4L346.2 357.5L347.3 362.7L338.6 364.2L337.6 359.4L336.4 354.6Z" fill="#4a7bb7"/>
<path d="M347.2 362.2L348.0 367.5L348.6 372.7L339.9 373.4L339.3 368.6L338.5 363.7Z" fill="#6fa7ce"/>
<path d="M348.6 372.2L348.9 377.5L349.0 382.7L340.3 382.7L340.2 377.8L339.8 373.0Z" fill="#bfe2ee"/>
<path d="M349.0 382.3L348.9 387.5L348.6 392.8L339.8 392.0L340.2 387.2L340.3 382.3Z" fill="#74add1"/>
<path d="M348.6 392.3L348.0 397.5L347.2 402.8L338.5 401.3L339.3 396.4L339.9 391.6Z" fill="#426aae"/>
<path d="M347.3 402.3L346.2 407.5L344.9 412.6L336.4 410.4L337.6 405.6L338.6 400.8Z" fill="#bae0ed"/>
<path d="M345.0 412.1L343.5 417.2L341.8 422.2L333.5 419.2L335.2 414.6L336.6 409.9Z" fill="#ebedd5"/>
<path d="M341.9 421.7L340.0 426.6L337.8 431.4L329.8 427.8L331.9 423.4L333.7 418.8Z" fill="#a0d0e4"/>
<path d="M338.0 431.0L335.6 435.7L333.0 440.3L325.4 436.1L327.8 431.8L330.0 427.4Z" fill="#3f5fa9"/>
<path d="M333.2 439.9L330.4 444.4L327.4 448.8L320.2 443.9L323.0 439.9L325.6 435.7Z" fill="#4a7bb7"/>
<path d="M327.7 448.4L324.4 452.7L321.0 456.8L314.3 451.3L317.5 447.5L320.5 443.6Z" fill="#7fb6d6"/>
<path d="M321.3 456.4L317.8 460.4L314.0 464.2L307.8 458.2L311.3 454.6L314.6 451.0Z" fill="#7fb6d6"/>
<path d="M314.3 463.8L310.4 467.5L306.3 471.0L300.7 464.4L304.5 461.2L308.1 457.8Z" fill="#f8e5b1"/>
<path d="M306.7 470.7L302.5 474.0L298.1 477.1L293.1 470.1L297.1 467.2L301.1 464.2Z" fill="#fae4ab"/>
<path d="M298.5 476.8L294.0 479.7L289.3 482.5L284.9 475.1L289.2 472.6L293.4 469.8Z" fill="#74add1"/>
<path d="M289.7 482.2L285.0 484.8L280.1 487.1L276.4 479.4L280.9 477.2L285.3 474.9Z" fill="#cbe8f2"/>
<path d="M280.5 486.9L275.6 489.0L270.5 490.9L267.5 482.9L272.2 481.2L276.8 479.2Z" fill="#deeff2"/>
<path d="M270.9 490.7L265.8 492.4L260.6 493.9L258.3 485.7L263.2 484.3L267.9 482.8Z" fill="#4575b4"/>
<path d="M261.0 493.8L255.8 495.0L250.4 496.1L248.9 487.7L253.9 486.8L258.8 485.6Z" fill="#4e80ba"/>
<path d="M250.9 496.0L245.5 496.8L240.1 497.4L239.4 488.9L244.4 488.4L249.4 487.6Z" fill="#6197c5"/>
<path d="M240.6 497.3L235.2 497.7L229.8 497.8L229.8 489.3L234.8 489.2L239.8 488.9Z" fill="#90c3dd"/>
<path d="M230.2 497.8L224.8 497.7L219.4 497.3L220.2 488.9L225.2 489.2L230.2 489.3Z" fill="#c8e6f1"/>
<path d="M219.9 497.4L214.5 496.8L209.1 496.0L210.6 487.6L215.6 488.4L220.6 488.9Z" fill="#5588be"/>
<path d="M209.6 496.1L204.2 495.0L199.0 493.8L201.2 485.6L206.1 486.8L211.1 487.7Z" fill="#588bc0"/>
<path d="M199.4 493.9L194.2 492.4L189.1 490.7L192.1 482.8L196.8 484.3L201.7 485.7Z" fill="#4575b4"/>
<path d="M189.5 490.9L184.4 489.0L179.5 486.9L183.2 479.2L187.8 481.2L192.5 482.9Z" fill="#e7eddf"/>
<path d="M179.9 487.1L175.0 484.8L170.3 482.2L174.7 474.9L179.1 477.2L183.6 479.4Z" fill="#fdd993"/>
<path d="M170.7 482.5L166.0 479.7L161.5 476.8L166.6 469.8L170.8 472.6L175.1 475.1Z" fill="#fdc87b"/>
<path d="M161.9 477.1L157.5 474.0L153.3 470.7L158.9 464.2L162.9 467.2L166.9 470.1Z" fill="#7cb3d4"/>
<path d="M153.7 471.0L149.6 467.5L145.7 463.8L151.9 457.8L155.5 461.2L159.3 464.4Z" fill="#4a7bb7"/>
<path d="M146.0 464.2L142.2 460.4L138.7 456.4L145.4 451.0L148.7 454.6L152.2 458.2Z" fill="#5d91c2"/>
<path d="M139.0 456.8L135.6 452.7L132.3 448.4L139.5 443.6L142.5 447.5L145.7 451.3Z" fill="#8abfdb"/>
<path d="M132.6 448.8L129.6 444.4L126.8 439.9L134.4 435.7L137.0 439.9L139.8 443.9Z" fill="#e5eee3"/>
<path d="M127.0 440.3L124.4 435.7L122.0 431.0L130.0 427.4L132.2 431.8L134.6 436.1Z" fill="#ebedd5"/>
<path d="M122.2 431.4L120.0 426.6L118.1 421.7L126.3 418.8L128.1 423.4L130.2 427.8Z" fill="#dfeff0"/>
<path d="M118.2 422.2L116.5 417.2L115.0 412.1L123.4 409.9L124.8 414.6L126.5 419.2Z" fill="#4167ad"/>
<path d="M115.1 412.6L113.8 407.5L112.7 402.3L121.4 400.8L122.4 405.6L123.6 410.4Z" fill="#5386bd"/>
<path d="M112.8 402.8L112.0 397.5L111.4 392.3L120.1 391.6L120.7 396.4L121.5 401.3Z" fill="#c6e5f0"/>
<path d="M111.4 392.8L111.1 387.5L111.0 382.3L119.7 382.3L119.8 387.2L120.2 392.0Z" fill="#e7eddf"/>
<path d="M111.0 382.7L111.1 377.5L111.4 372.2L120.2 373.0L119.8 377.8L119.7 382.7Z" fill="#84bad8"/>
<path d="M111.4 372.7L112.0 367.5L112.8 362.2L121.5 363.7L120.7 368.6L120.1 373.4Z" fill="#6ba2cb"/>
<path d="M112.7 362.7L113.8 357.5L115.1 352.4L123.6 354.6L122.4 359.4L121.4 364.2Z" fill="#bae0ed"/>
<path d="M115.0 352.9L116.5 347.8L118.2 342.8L126.5 345.8L124.8 350.4L123.4 355.1Z" fill="#588bc0"/>
<path d="M118.1 343.3L120.0 338.4L122.2 333.6L130.2 337.2L128.1 341.6L126.3 346.2Z" fill="#b0dbea"/>
<path d="M122.0 334.0L124.4 329.3L127.0 324.7L134.6 328.9L132.2 333.2L130.0 337.6Z" fill="#f2eac4"/>
<path d="M126.8 325.1L129.6 320.6L132.6 316.2L139.8 321.1L137.0 325.1L134.4 329.3Z" fill="#a6d5e7"/>
<path d="M132.3 316.6L135.6 312.3L139.0 308.2L145.7 313.7L142.5 317.5L139.5 321.4Z" fill="#a0d0e4"/>
<path d="M138.7 308.6L142.2 304.6L146.0 300.8L152.2 306.8L148.7 310.4L145.4 314.0Z" fill="#cbe8f2"/>
<path d="M145.7 301.2L149.6 297.5L153.7 294.0L159.3 300.6L155.5 303.8L151.9 307.2Z" fill="#4a7bb7"/>
<path d="M153.3 294.3L157.5 291.0L161.9 287.9L166.9 294.9L162.9 297.8L158.9 300.8Z" fill="#bce0ed"/>
<path d="M161.5 288.2L166.0 285.3L170.7 282.5L175.1 289.9L170.8 292.4L166.6 295.2Z" fill="#e9eddb"/>
<path d="M170.3 282.8L175.0 280.2L179.9 277.9L183.6 285.6L179.1 287.8L174.7 290.1Z" fill="#7ab1d3"/>
<path d="M179.5 278.1L184.4 276.0L189.5 274.1L192.5 282.1L187.8 283.8L183.2 285.8Z" fill="#588bc0"/>
<path d="M189.1 274.3L194.2 272.6L199.4 271.1L201.7 279.3L196.8 280.7L192.1 282.2Z" fill="#ddeff4"/>
<path d="M199.0 271.2L204.2 270.0L209.6 268.9L211.1 277.3L206.1 278.2L201.2 279.4Z" fill="#dfeff0"/>
<path d="M209.1 269.0L214.5 268.2L219.9 267.6L220.6 276.1L215.6 276.6L210.6 277.4Z" fill="#c2e3ef"/>
<path d="M219.4 267.7L224.8 267.3L230.2 267.2L230.2 275.7L225.2 275.8L220.2 276.1Z" fill="#a0d0e4"/>
<path d="M229.8 274.9L234.8 275.0L239.9 275.3L239.1 283.8L234.5 283.5L229.8 283.4Z" fill="#b3ddeb"/>
<path d="M239.5 275.3L244.5 275.8L249.5 276.6L248.0 284.9L243.4 284.2L238.7 283.7Z" fill="#d5ecf4"/>
<path d="M249.1 276.5L254.1 277.4L259.0 278.6L256.7 286.8L252.2 285.7L247.6 284.9Z" fill="#95c7df"/>
<path d="M258.5 278.5L263.4 279.9L268.2 281.5L265.2 289.4L260.8 288.0L256.3 286.7Z" fill="#a0d0e4"/>
<path d="M267.8 281.3L272.5 283.1L277.2 285.1L273.4 292.8L269.2 290.9L264.8 289.3Z" fill="#b0dbea"/>
<path d="M276.7 284.9L281.3 287.0L285.8 289.4L281.4 296.8L277.3 294.6L273.1 292.6Z" fill="#4575b4"/>
<path d="M285.4 289.2L289.7 291.7L293.9 294.5L288.9 301.4L285.0 298.9L281.0 296.6Z" fill="#deeff2"/>
<path d="M293.5 294.2L297.6 297.1L301.6 300.2L296.0 306.7L292.3 303.9L288.5 301.2Z" fill="#fdd892"/>
<path d="M301.2 299.9L305.1 303.2L308.7 306.6L302.5 312.6L299.1 309.4L295.6 306.4Z" fill="#c6e5f0"/>
<path d="M308.4 306.2L311.9 309.8L315.3 313.5L308.5 318.9L305.5 315.5L302.2 312.3Z" fill="#5c91c2"/>
<path d="M315.0 313.2L318.2 317.0L321.2 321.0L314.0 325.8L311.2 322.2L308.3 318.6Z" fill="#a0d0e4"/>
<path d="M320.9 320.6L323.7 324.7L326.3 328.9L318.7 333.1L316.3 329.2L313.7 325.5Z" fill="#7ab1d3"/>
<path d="M326.1 328.5L328.6 332.8L330.8 337.2L322.8 340.8L320.8 336.7L318.5 332.8Z" fill="#efeccd"/>
<path d="M330.6 336.8L332.7 341.3L334.5 345.9L326.2 348.8L324.6 344.6L322.7 340.4Z" fill="#e0eeee"/>
<path d="M334.3 345.5L336.0 350.1L337.4 354.9L328.9 357.0L327.6 352.7L326.1 348.4Z" fill="#d7edf5"/>
<path d="M337.3 354.4L338.5 359.2L339.5 364.0L330.8 365.5L329.9 361.0L328.8 356.6Z" fill="#588bc0"/>
<path d="M339.4 363.6L340.2 368.5L340.7 373.3L332.0 374.1L331.5 369.6L330.8 365.1Z" fill="#6197c5"/>
<path d="M340.7 372.9L341.0 377.8L341.1 382.7L332.3 382.7L332.2 378.2L331.9 373.7Z" fill="#c8e6f1"/>
<path d="M341.1 382.3L341.0 387.2L340.7 392.1L331.9 391.3L332.2 386.8L332.3 382.3Z" fill="#74add1"/>
<path d="M340.7 391.7L340.2 396.5L339.4 401.4L330.8 399.9L331.5 395.4L332.0 390.9Z" fill="#436cb0"/>
<path d="M339.5 401.0L338.5 405.8L337.3 410.6L328.8 408.4L329.9 404.0L330.8 399.5Z" fill="#b5ddec"/>
<path d="M337.4 410.1L336.0 414.9L334.3 419.5L326.1 416.6L327.6 412.3L328.9 408.0Z" fill="#e0eeee"/>
<path d="M334.5 419.1L332.7 423.7L330.6 428.2L322.7 424.6L324.6 420.4L326.2 416.2Z" fill="#7fb6d6"/>
<path d="M330.8 427.8L328.6 432.2L326.1 436.5L318.5 432.2L320.8 428.3L322.8 424.2Z" fill="#3e5aa7"/>
<path d="M326.3 436.1L323.7 440.3L320.9 444.4L313.7 439.5L316.3 435.8L318.7 431.9Z" fill="#6fa7ce"/>
<path d="M321.2 444.0L318.2 448.0L315.0 451.8L308.3 446.4L311.2 442.8L314.0 439.2Z" fill="#a0d0e4"/>
<path d="M315.3 451.5L311.9 455.2L308.4 458.8L302.2 452.7L305.5 449.5L308.5 446.1Z" fill="#a0d0e4"/>
<path d="M308.7 458.4L305.1 461.8L301.2 465.1L295.6 458.6L299.1 455.6L302.5 452.4Z" fill="#e8eddc"/>
<path d="M301.6 464.8L297.6 467.9L293.5 470.8L288.5 463.8L292.3 461.1L296.0 458.3Z" fill="#f9e5af"/>
<path d="M293.9 470.5L289.7 473.3L285.4 475.8L281.0 468.4L285.0 466.1L288.9 463.6Z" fill="#74add1"/>
<path d="M285.8 475.6L281.3 478.0L276.7 480.1L273.1 472.4L277.3 470.4L281.4 468.2Z" fill="#c5e5f0"/>
<path d="M277.2 479.9L272.5 481.9L267.8 483.7L264.8 475.7L269.2 474.1L273.4 472.2Z" fill="#d2ebf3"/>
<path d="M268.2 483.5L263.4 485.1L258.5 486.5L256.3 478.3L260.8 477.0L265.2 475.6Z" fill="#4575b4"/>
<path d="M259.0 486.4L254.1 487.6L249.1 488.5L247.6 480.1L252.2 479.3L256.7 478.2Z" fill="#6ba2cb"/>
<path d="M249.5 488.4L244.5 489.2L239.5 489.7L238.7 481.3L243.4 480.8L248.0 480.1Z" fill="#8abfdb"/>
<path d="M239.9 489.7L234.8 490.0L229.8 490.1L229.8 481.6L234.5 481.5L239.1 481.2Z" fill="#abd9e9"/>
<path d="M230.2 490.1L225.2 490.0L220.1 489.7L220.9 481.2L225.5 481.5L230.2 481.6Z" fill="#bfe2ee"/>
<path d="M220.5 489.7L215.5 489.2L210.5 488.4L212.0 480.1L216.6 480.8L221.3 481.3Z" fill="#72abd0"/>
<path d="M210.9 488.5L205.9 487.6L201.0 486.4L203.3 478.2L207.8 479.3L212.4 480.1Z" fill="#4a7bb7"/>
<path d="M201.5 486.5L196.6 485.1L191.8 483.5L194.8 475.6L199.2 477.0L203.7 478.3Z" fill="#4575b4"/>
<path d="M192.2 483.7L187.5 481.9L182.8 479.9L186.6 472.2L190.8 474.1L195.2 475.7Z" fill="#dfeff0"/>
<path d="M183.3 480.1L178.7 478.0L174.2 475.6L178.6 468.2L182.7 470.4L186.9 472.4Z" fill="#fdc87b"/>
<path d="M174.6 475.8L170.3 473.3L166.1 470.5L171.1 463.6L175.0 466.1L179.0 468.4Z" fill="#fce3a6"/>
<path d="M166.5 470.8L162.4 467.9L158.4 464.8L164.0 458.3L167.7 461.1L171.5 463.8Z" fill="#649ac7"/>
<path d="M158.8 465.1L154.9 461.8L151.3 458.4L157.5 452.4L160.9 455.6L164.4 458.6Z" fill="#6fa7ce"/>
<path d="M151.6 458.8L148.1 455.2L144.7 451.5L151.5 446.1L154.5 449.5L157.8 452.7Z" fill="#74add1"/>
<path d="M145.0 451.8L141.8 448.0L138.8 444.0L146.0 439.2L148.8 442.8L151.7 446.4Z" fill="#6197c5"/>
<path d="M139.1 444.4L136.3 440.3L133.7 436.1L141.3 431.9L143.7 435.8L146.3 439.5Z" fill="#cfe9f3"/>
<path d="M133.9 436.5L131.4 432.2L129.2 427.8L137.2 424.2L139.2 428.3L141.5 432.2Z" fill="#e0eeee"/>
<path d="M129.4 428.2L127.3 423.7L125.5 419.1L133.8 416.2L135.4 420.4L137.3 424.6Z" fill="#dfefef"/>
<path d="M125.7 419.5L124.0 414.9L122.6 410.1L131.1 408.0L132.4 412.3L133.9 416.6Z" fill="#3a4ea1"/>
<path d="M122.7 410.6L121.5 405.8L120.5 401.0L129.2 399.5L130.1 404.0L131.2 408.4Z" fill="#4e80ba"/>
<path d="M120.6 401.4L119.8 396.5L119.3 391.7L128.0 390.9L128.5 395.4L129.2 399.9Z" fill="#97c9e0"/>
<path d="M119.3 392.1L119.0 387.2L118.9 382.3L127.7 382.3L127.8 386.8L128.1 391.3Z" fill="#dfeff0"/>
<path d="M118.9 382.7L119.0 377.8L119.3 372.9L128.1 373.7L127.8 378.2L127.7 382.7Z" fill="#4e80ba"/>
<path d="M119.3 373.3L119.8 368.5L120.6 363.6L129.2 365.1L128.5 369.6L128.0 374.1Z" fill="#b5ddec"/>
<path d="M120.5 364.0L121.5 359.2L122.7 354.4L131.2 356.6L130.1 361.0L129.2 365.5Z" fill="#e9edd9"/>
<path d="M122.6 354.9L124.0 350.1L125.7 345.5L133.9 348.4L132.4 352.7L131.1 357.0Z" fill="#95c7df"/>
<path d="M125.5 345.9L127.3 341.3L129.4 336.8L137.3 340.4L135.4 344.6L133.8 348.8Z" fill="#6fa7ce"/>
<path d="M129.2 337.2L131.4 332.8L133.9 328.5L141.5 332.8L139.2 336.7L137.2 340.8Z" fill="#ebedd5"/>
<path d="M133.7 328.9L136.3 324.7L139.1 320.6L146.3 325.5L143.7 329.2L141.3 333.1Z" fill="#95c7df"/>
<path d="M138.8 321.0L141.8 317.0L145.0 313.2L151.7 318.6L148.8 322.2L146.0 325.8Z" fill="#9acce2"/>
<path d="M144.7 313.5L148.1 309.8L151.6 306.2L157.8 312.3L154.5 315.5L151.5 318.9Z" fill="#92c5de"/>
<path d="M151.3 306.6L154.9 303.2L158.8 299.9L164.4 306.4L160.9 309.4L157.5 312.6Z" fill="#588bc0"/>
<path d="M158.4 300.2L162.4 297.1L166.5 294.2L171.5 301.2L167.7 303.9L164.0 306.7Z" fill="#c2e3ef"/>
<path d="M166.1 294.5L170.3 291.7L174.6 289.2L179.0 296.6L175.0 298.9L171.1 301.4Z" fill="#f0eccb"/>
<path d="M174.2 289.4L178.7 287.0L183.3 284.9L186.9 292.6L182.7 294.6L178.6 296.8Z" fill="#a6d5e7"/>
<path d="M182.8 285.1L187.5 283.1L192.2 281.3L195.2 289.3L190.8 290.9L186.6 292.8Z" fill="#4a7bb7"/>
<path d="M191.8 281.5L196.6 279.9L201.5 278.5L203.7 286.7L199.2 288.0L194.8 289.4Z" fill="#cae7f1"/>
<path d="M201.0 278.6L205.9 277.4L210.9 276.5L212.4 284.9L207.8 285.7L203.3 286.8Z" fill="#dfefef"/>
<path d="M210.5 276.6L215.5 275.8L220.5 275.3L221.3 283.7L216.6 284.2L212.0 284.9Z" fill="#bce0ed"/>
<path d="M220.1 275.3L225.2 275.0L230.2 274.9L230.2 283.4L225.5 283.5L220.9 283.8Z" fill="#bae0ed"/>
<path d="M229.8 282.6L234.5 282.7L239.2 283.0L238.4 291.4L234.1 291.1L229.8 291.1Z" fill="#dfefef"/>
<path d="M238.8 282.9L243.5 283.4L248.1 284.1L246.6 292.5L242.3 291.8L238.0 291.4Z" fill="#e7eddf"/>
<path d="M247.7 284.0L252.3 284.9L256.9 286.0L254.6 294.2L250.4 293.2L246.2 292.4Z" fill="#95c7df"/>
<path d="M256.5 285.9L261.0 287.2L265.5 288.7L262.5 296.6L258.4 295.3L254.2 294.1Z" fill="#a6d5e7"/>
<path d="M265.1 288.5L269.5 290.2L273.8 292.0L270.1 299.7L266.1 298.0L262.1 296.5Z" fill="#9acce2"/>
<path d="M273.4 291.8L277.7 293.8L281.8 296.1L277.4 303.4L273.6 301.4L269.7 299.5Z" fill="#4e80ba"/>
<path d="M281.4 295.8L285.5 298.2L289.4 300.8L284.3 307.7L280.7 305.4L277.0 303.2Z" fill="#d7edf5"/>
<path d="M289.0 300.5L292.8 303.2L296.5 306.1L290.8 312.6L287.5 309.9L284.0 307.5Z" fill="#fbe4a9"/>
<path d="M296.2 305.8L299.7 308.8L303.1 312.0L296.9 318.0L293.8 315.1L290.5 312.3Z" fill="#dceff6"/>
<path d="M302.8 311.7L306.1 315.0L309.2 318.4L302.5 323.9L299.6 320.7L296.6 317.7Z" fill="#5386bd"/>
<path d="M308.9 318.1L311.9 321.7L314.7 325.3L307.5 330.2L304.9 326.8L302.2 323.6Z" fill="#84bad8"/>
<path d="M314.4 325.0L317.0 328.8L319.5 332.7L311.9 336.9L309.6 333.4L307.2 329.9Z" fill="#9acce2"/>
<path d="M319.3 332.3L321.5 336.4L323.6 340.5L315.7 344.0L313.8 340.3L311.7 336.6Z" fill="#f9e5af"/>
<path d="M323.4 340.1L325.3 344.3L327.1 348.5L318.8 351.4L317.2 347.5L315.5 343.7Z" fill="#f3e9c0"/>
<path d="M326.9 348.1L328.4 352.4L329.7 356.8L321.3 359.0L320.1 355.0L318.7 351.0Z" fill="#e0eeee"/>
<path d="M329.6 356.4L330.8 360.9L331.7 365.4L323.0 366.8L322.2 362.7L321.2 358.6Z" fill="#74add1"/>
<path d="M331.6 364.9L332.3 369.5L332.8 374.0L324.1 374.7L323.6 370.6L323.0 366.4Z" fill="#669cc8"/>
<path d="M332.8 373.6L333.1 378.1L333.2 382.7L324.4 382.7L324.3 378.5L324.1 374.3Z" fill="#a6d5e7"/>
<path d="M333.2 382.3L333.1 386.9L332.8 391.4L324.1 390.7L324.3 386.5L324.4 382.3Z" fill="#7ab1d3"/>
<path d="M332.8 391.0L332.3 395.5L331.6 400.1L323.0 398.6L323.6 394.4L324.1 390.3Z" fill="#5a8ec1"/>
<path d="M331.7 399.6L330.8 404.1L329.6 408.6L321.2 406.4L322.2 402.3L323.0 398.2Z" fill="#bae0ed"/>
<path d="M329.7 408.2L328.4 412.6L326.9 416.9L318.7 414.0L320.1 410.0L321.3 406.0Z" fill="#c8e6f1"/>
<path d="M327.1 416.5L325.3 420.7L323.4 424.9L315.5 421.3L317.2 417.5L318.8 413.6Z" fill="#588bc0"/>
<path d="M323.6 424.5L321.5 428.6L319.3 432.7L311.7 428.4L313.8 424.7L315.7 421.0Z" fill="#4062ab"/>
<path d="M319.5 432.3L317.0 436.2L314.4 440.0L307.2 435.1L309.6 431.6L311.9 428.1Z" fill="#588bc0"/>
<path d="M314.7 439.7L311.9 443.3L308.9 446.9L302.2 441.4L304.9 438.2L307.5 434.8Z" fill="#b5ddec"/>
<path d="M309.2 446.6L306.1 450.0L302.8 453.3L296.6 447.3L299.6 444.3L302.5 441.1Z" fill="#bae0ed"/>
<path d="M303.1 453.0L299.7 456.2L296.2 459.2L290.5 452.7L293.8 449.9L296.9 447.0Z" fill="#cfe9f3"/>
<path d="M296.5 458.9L292.8 461.8L289.0 464.5L284.0 457.5L287.5 455.1L290.8 452.4Z" fill="#e4eee6"/>
<path d="M289.4 464.2L285.5 466.8L281.4 469.2L277.0 461.8L280.7 459.6L284.3 457.3Z" fill="#7ab1d3"/>
<path d="M281.8 468.9L277.7 471.2L273.4 473.2L269.7 465.5L273.6 463.6L277.4 461.6Z" fill="#deeff2"/>
<path d="M273.8 473.0L269.5 474.8L265.1 476.5L262.1 468.5L266.1 467.0L270.1 465.3Z" fill="#cbe8f2"/>
<path d="M265.5 476.3L261.0 477.8L256.5 479.1L254.2 470.9L258.4 469.7L262.5 468.4Z" fill="#588bc0"/>
<path d="M256.9 479.0L252.3 480.1L247.7 481.0L246.2 472.6L250.4 471.8L254.6 470.8Z" fill="#84bad8"/>
<path d="M248.1 480.9L243.5 481.6L238.8 482.1L238.0 473.6L242.3 473.2L246.6 472.5Z" fill="#bfe2ee"/>
<path d="M239.2 482.0L234.5 482.3L229.8 482.4L229.8 473.9L234.1 473.9L238.4 473.6Z" fill="#e0eeee"/>
<path d="M230.2 482.4L225.5 482.3L220.8 482.0L221.6 473.6L225.9 473.9L230.2 473.9Z" fill="#cde8f2"/>
<path d="M221.2 482.1L216.5 481.6L211.9 480.9L213.4 472.5L217.7 473.2L222.0 473.6Z" fill="#6197c5"/>
<path d="M212.3 481.0L207.7 480.1L203.1 479.0L205.4 470.8L209.6 471.8L213.8 472.6Z" fill="#4a7bb7"/>
<path d="M203.5 479.1L199.0 477.8L194.5 476.3L197.5 468.4L201.6 469.7L205.8 470.9Z" fill="#436fb1"/>
<path d="M194.9 476.5L190.5 474.8L186.2 473.0L189.9 465.3L193.9 467.0L197.9 468.5Z" fill="#bfe2ee"/>
<path d="M186.6 473.2L182.3 471.2L178.2 468.9L182.6 461.6L186.4 463.6L190.3 465.5Z" fill="#f6e7b8"/>
<path d="M178.6 469.2L174.5 466.8L170.6 464.2L175.7 457.3L179.3 459.6L183.0 461.8Z" fill="#deeff2"/>
<path d="M171.0 464.5L167.2 461.8L163.5 458.9L169.2 452.4L172.5 455.1L176.0 457.5Z" fill="#5588be"/>
<path d="M163.8 459.2L160.3 456.2L156.9 453.0L163.1 447.0L166.2 449.9L169.5 452.7Z" fill="#90c3dd"/>
<path d="M157.2 453.3L153.9 450.0L150.8 446.6L157.5 441.1L160.4 444.3L163.4 447.3Z" fill="#6197c5"/>
<path d="M151.1 446.9L148.1 443.3L145.3 439.7L152.5 434.8L155.1 438.2L157.8 441.4Z" fill="#74add1"/>
<path d="M145.6 440.0L143.0 436.2L140.5 432.3L148.1 428.1L150.4 431.6L152.8 435.1Z" fill="#bae0ed"/>
<path d="M140.7 432.7L138.5 428.6L136.4 424.5L144.3 421.0L146.2 424.7L148.3 428.4Z" fill="#e0eeee"/>
<path d="M136.6 424.9L134.7 420.7L132.9 416.5L141.2 413.6L142.8 417.5L144.5 421.3Z" fill="#bae0ed"/>
<path d="M133.1 416.9L131.6 412.6L130.3 408.2L138.7 406.0L139.9 410.0L141.3 414.0Z" fill="#4060aa"/>
<path d="M130.4 408.6L129.2 404.1L128.3 399.6L137.0 398.2L137.8 402.3L138.8 406.4Z" fill="#5386bd"/>
<path d="M128.4 400.1L127.7 395.5L127.2 391.0L135.9 390.3L136.4 394.4L137.0 398.6Z" fill="#95c7df"/>
<path d="M127.2 391.4L126.9 386.9L126.8 382.3L135.6 382.3L135.7 386.5L135.9 390.7Z" fill="#d7edf5"/>
<path d="M126.8 382.7L126.9 378.1L127.2 373.6L135.9 374.3L135.7 378.5L135.6 382.7Z" fill="#6fa7ce"/>
<path d="M127.2 374.0L127.7 369.5L128.4 364.9L137.0 366.4L136.4 370.6L135.9 374.7Z" fill="#bfe2ee"/>
<path d="M128.3 365.4L129.2 360.9L130.4 356.4L138.8 358.6L137.8 362.7L137.0 366.8Z" fill="#f3e9c0"/>
<path d="M130.3 356.8L131.6 352.4L133.1 348.1L141.3 351.0L139.9 355.0L138.7 359.0Z" fill="#cde8f2"/>
<path d="M132.9 348.5L134.7 344.3L136.6 340.1L144.5 343.7L142.8 347.5L141.2 351.4Z" fill="#6ba2cb"/>
<path d="M136.4 340.5L138.5 336.4L140.7 332.3L148.3 336.6L146.2 340.3L144.3 344.0Z" fill="#deeff2"/>
<path d="M140.5 332.7L143.0 328.8L145.6 325.0L152.8 329.9L150.4 333.4L148.1 336.9Z" fill="#69a0ca"/>
<path d="M145.3 325.3L148.1 321.7L151.1 318.1L157.8 323.6L155.1 326.8L152.5 330.2Z" fill="#6ba2cb"/>
<path d="M150.8 318.4L153.9 315.0L157.2 311.7L163.4 317.7L160.4 320.7L157.5 323.9Z" fill="#6da5cd"/>
<path d="M156.9 312.0L160.3 308.8L163.8 305.8L169.5 312.3L166.2 315.1L163.1 318.0Z" fill="#5d91c2"/>
<path d="M163.5 306.1L167.2 303.2L171.0 300.5L176.0 307.5L172.5 309.9L169.2 312.6Z" fill="#c8e6f1"/>
<path d="M170.6 300.8L174.5 298.2L178.6 295.8L183.0 303.2L179.3 305.4L175.7 307.7Z" fill="#deeff2"/>
<path d="M178.2 296.1L182.3 293.8L186.6 291.8L190.3 299.5L186.4 301.4L182.6 303.4Z" fill="#95c7df"/>
<path d="M186.2 292.0L190.5 290.2L194.9 288.5L197.9 296.5L193.9 298.0L189.9 299.7Z" fill="#588bc0"/>
<path d="M194.5 288.7L199.0 287.2L203.5 285.9L205.8 294.1L201.6 295.3L197.5 296.6Z" fill="#a8d6e8"/>
<path d="M203.1 286.0L207.7 284.9L212.3 284.0L213.8 292.4L209.6 293.2L205.4 294.2Z" fill="#abd9e9"/>
<path d="M211.9 284.1L216.5 283.4L221.2 282.9L222.0 291.4L217.7 291.8L213.4 292.5Z" fill="#a8d6e8"/>
<path d="M220.8 283.0L225.5 282.7L230.2 282.6L230.2 291.1L225.9 291.1L221.6 291.4Z" fill="#addaea"/>
<path d="M229.8 290.2L234.2 290.3L238.5 290.6L237.7 299.1L233.8 298.8L229.8 298.7Z" fill="#e6ede0"/>
<path d="M238.1 290.6L242.4 291.0L246.7 291.7L245.2 300.0L241.3 299.4L237.4 299.0Z" fill="#f1ebc7"/>
<path d="M246.3 291.6L250.6 292.4L254.9 293.4L252.6 301.6L248.7 300.7L244.8 300.0Z" fill="#a6d5e7"/>
<path d="M254.5 293.3L258.7 294.5L262.8 295.9L259.8 303.8L256.0 302.6L252.2 301.5Z" fill="#95c7df"/>
<path d="M262.4 295.7L266.5 297.2L270.4 299.0L266.7 306.6L263.1 305.1L259.4 303.7Z" fill="#84bad8"/>
<path d="M270.1 298.8L274.0 300.7L277.8 302.7L273.4 310.0L269.9 308.2L266.4 306.5Z" fill="#6ba2cb"/>
<path d="M277.5 302.5L281.2 304.7L284.8 307.0L279.8 314.0L276.5 311.8L273.1 309.9Z" fill="#b0dbea"/>
<path d="M284.5 306.8L288.0 309.3L291.4 311.9L285.7 318.4L282.7 316.0L279.5 313.8Z" fill="#e5eee3"/>
<path d="M291.1 311.7L294.4 314.5L297.5 317.4L291.3 323.4L288.4 320.7L285.5 318.2Z" fill="#dceff6"/>
<path d="M297.2 317.1L300.3 320.2L303.1 323.3L296.4 328.8L293.8 325.9L291.0 323.1Z" fill="#4e80ba"/>
<path d="M302.9 323.0L305.6 326.3L308.2 329.7L301.0 334.6L298.6 331.5L296.2 328.5Z" fill="#669cc8"/>
<path d="M307.9 329.4L310.4 332.9L312.6 336.5L305.0 340.8L303.0 337.5L300.8 334.3Z" fill="#a0d0e4"/>
<path d="M312.4 336.2L314.5 339.9L316.4 343.7L308.5 347.3L306.7 343.8L304.8 340.5Z" fill="#fddb97"/>
<path d="M316.3 343.3L318.0 347.2L319.6 351.1L311.4 354.0L309.9 350.4L308.3 346.9Z" fill="#fddd9b"/>
<path d="M319.5 350.8L320.9 354.8L322.1 358.8L313.6 361.0L312.5 357.3L311.2 353.7Z" fill="#ebedd5"/>
<path d="M322.0 358.4L323.0 362.5L323.9 366.7L315.2 368.1L314.5 364.4L313.5 360.6Z" fill="#c4e4f0"/>
<path d="M323.8 366.3L324.5 370.5L324.9 374.7L316.2 375.4L315.8 371.6L315.2 367.8Z" fill="#84bad8"/>
<path d="M324.9 374.3L325.2 378.5L325.3 382.7L316.5 382.7L316.4 378.8L316.2 375.0Z" fill="#b0dbea"/>
<path d="M325.3 382.3L325.2 386.5L324.9 390.7L316.2 390.0L316.4 386.2L316.5 382.3Z" fill="#8abfdb"/>
<path d="M324.9 390.3L324.5 394.5L323.8 398.7L315.2 397.2L315.8 393.4L316.2 389.6Z" fill="#a3d3e6"/>
<path d="M323.9 398.3L323.0 402.5L322.0 406.6L313.5 404.4L314.5 400.6L315.2 396.9Z" fill="#cde8f2"/>
<path d="M322.1 406.2L320.9 410.2L319.5 414.2L311.2 411.3L312.5 407.7L313.6 404.0Z" fill="#8abfdb"/>
<path d="M319.6 413.9L318.0 417.8L316.3 421.7L308.3 418.1L309.9 414.6L311.4 411.0Z" fill="#6197c5"/>
<path d="M316.4 421.3L314.5 425.1L312.4 428.8L304.8 424.5L306.7 421.2L308.5 417.7Z" fill="#5184bc"/>
<path d="M312.6 428.5L310.4 432.1L307.9 435.6L300.8 430.7L303.0 427.5L305.0 424.2Z" fill="#95c7df"/>
<path d="M308.2 435.3L305.6 438.7L302.9 442.0L296.2 436.5L298.6 433.5L301.0 430.4Z" fill="#e2eeea"/>
<path d="M303.1 441.7L300.3 444.8L297.2 447.9L291.0 441.9L293.8 439.1L296.4 436.2Z" fill="#e9edd9"/>
<path d="M297.5 447.6L294.4 450.5L291.1 453.3L285.5 446.8L288.4 444.3L291.3 441.6Z" fill="#5f94c4"/>
<path d="M291.4 453.1L288.0 455.7L284.5 458.2L279.5 451.2L282.7 449.0L285.7 446.6Z" fill="#95c7df"/>
<path d="M284.8 458.0L281.2 460.3L277.5 462.5L273.1 455.1L276.5 453.2L279.8 451.0Z" fill="#8abfdb"/>
<path d="M277.8 462.3L274.0 464.3L270.1 466.2L266.4 458.5L269.9 456.8L273.4 455.0Z" fill="#e4eee6"/>
<path d="M270.4 466.0L266.5 467.8L262.4 469.3L259.4 461.3L263.1 459.9L266.7 458.4Z" fill="#5e93c4"/>
<path d="M262.8 469.1L258.7 470.5L254.5 471.7L252.2 463.5L256.0 462.4L259.8 461.2Z" fill="#95c7df"/>
<path d="M254.9 471.6L250.6 472.6L246.3 473.4L244.8 465.0L248.7 464.3L252.6 463.4Z" fill="#b5ddec"/>
<path d="M246.7 473.3L242.4 474.0L238.1 474.4L237.4 466.0L241.3 465.6L245.2 465.0Z" fill="#f7e6b3"/>
<path d="M238.5 474.4L234.2 474.7L229.8 474.8L229.8 466.3L233.8 466.2L237.7 465.9Z" fill="#f3e9c0"/>
<path d="M230.2 474.8L225.8 474.7L221.5 474.4L222.3 465.9L226.2 466.2L230.2 466.3Z" fill="#ebedd5"/>
<path d="M221.9 474.4L217.6 474.0L213.3 473.3L214.8 465.0L218.7 465.6L222.6 466.0Z" fill="#588bc0"/>
<path d="M213.7 473.4L209.4 472.6L205.1 471.6L207.4 463.4L211.3 464.3L215.2 465.0Z" fill="#588bc0"/>
<path d="M205.5 471.7L201.3 470.5L197.2 469.1L200.2 461.2L204.0 462.4L207.8 463.5Z" fill="#3a4ca0"/>
<path d="M197.6 469.3L193.5 467.8L189.6 466.0L193.3 458.4L196.9 459.9L200.6 461.3Z" fill="#4a7bb7"/>
<path d="M189.9 466.2L186.0 464.3L182.2 462.3L186.6 455.0L190.1 456.8L193.6 458.5Z" fill="#90c3dd"/>
<path d="M182.5 462.5L178.8 460.3L175.2 458.0L180.2 451.0L183.5 453.2L186.9 455.1Z" fill="#6fa7ce"/>
<path d="M175.5 458.2L172.0 455.7L168.6 453.1L174.3 446.6L177.3 449.0L180.5 451.2Z" fill="#3e5ba7"/>
<path d="M168.9 453.3L165.6 450.5L162.5 447.6L168.7 441.6L171.6 444.3L174.5 446.8Z" fill="#74add1"/>
<path d="M162.8 447.9L159.7 444.8L156.9 441.7L163.6 436.2L166.2 439.1L169.0 441.9Z" fill="#6fa7ce"/>
<path d="M157.1 442.0L154.4 438.7L151.8 435.3L159.0 430.4L161.4 433.5L163.8 436.5Z" fill="#5d91c2"/>
<path d="M152.1 435.6L149.6 432.1L147.4 428.5L155.0 424.2L157.0 427.5L159.2 430.7Z" fill="#9acce2"/>
<path d="M147.6 428.8L145.5 425.1L143.6 421.3L151.5 417.7L153.3 421.2L155.2 424.5Z" fill="#ebedd5"/>
<path d="M143.7 421.7L142.0 417.8L140.4 413.9L148.6 411.0L150.1 414.6L151.7 418.1Z" fill="#e0eeee"/>
<path d="M140.5 414.2L139.1 410.2L137.9 406.2L146.4 404.0L147.5 407.7L148.8 411.3Z" fill="#abd9e9"/>
<path d="M138.0 406.6L137.0 402.5L136.1 398.3L144.8 396.9L145.5 400.6L146.5 404.4Z" fill="#7fb6d6"/>
<path d="M136.2 398.7L135.5 394.5L135.1 390.3L143.8 389.6L144.2 393.4L144.8 397.2Z" fill="#4471b2"/>
<path d="M135.1 390.7L134.8 386.5L134.7 382.3L143.5 382.3L143.6 386.2L143.8 390.0Z" fill="#c8e6f1"/>
<path d="M134.7 382.7L134.8 378.5L135.1 374.3L143.8 375.0L143.6 378.8L143.5 382.7Z" fill="#95c7df"/>
<path d="M135.1 374.7L135.5 370.5L136.2 366.3L144.8 367.8L144.2 371.6L143.8 375.4Z" fill="#b0dbea"/>
<path d="M136.1 366.7L137.0 362.5L138.0 358.4L146.5 360.6L145.5 364.4L144.8 368.1Z" fill="#fddd9b"/>
<path d="M137.9 358.8L139.1 354.8L140.5 350.8L148.8 353.7L147.5 357.3L146.4 361.0Z" fill="#d2ebf3"/>
<path d="M140.4 351.1L142.0 347.2L143.7 343.3L151.7 346.9L150.1 350.4L148.6 354.0Z" fill="#9acce2"/>
<path d="M143.6 343.7L145.5 339.9L147.6 336.2L155.2 340.5L153.3 343.8L151.5 347.3Z" fill="#8abfdb"/>
<path d="M147.4 336.5L149.6 332.9L152.1 329.4L159.2 334.3L157.0 337.5L155.0 340.8Z" fill="#5e93c4"/>
<path d="M151.8 329.7L154.4 326.3L157.1 323.0L163.8 328.5L161.4 331.5L159.0 334.6Z" fill="#4e80ba"/>
<path d="M156.9 323.3L159.7 320.2L162.8 317.1L169.0 323.1L166.2 325.9L163.6 328.8Z" fill="#4473b3"/>
<path d="M162.5 317.4L165.6 314.5L168.9 311.7L174.5 318.2L171.6 320.7L168.7 323.4Z" fill="#5d91c2"/>
<path d="M168.6 311.9L172.0 309.3L175.5 306.8L180.5 313.8L177.3 316.0L174.3 318.4Z" fill="#d7edf5"/>
<path d="M175.2 307.0L178.8 304.7L182.5 302.5L186.9 309.9L183.5 311.8L180.2 314.0Z" fill="#a6d5e7"/>
<path d="M182.2 302.7L186.0 300.7L189.9 298.8L193.6 306.5L190.1 308.2L186.6 310.0Z" fill="#588bc0"/>
<path d="M189.6 299.0L193.5 297.2L197.6 295.7L200.6 303.7L196.9 305.1L193.3 306.6Z" fill="#4165ac"/>
<path d="M197.2 295.9L201.3 294.5L205.5 293.3L207.8 301.5L204.0 302.6L200.2 303.8Z" fill="#5184bc"/>
<path d="M205.1 293.4L209.4 292.4L213.7 291.6L215.2 300.0L211.3 300.7L207.4 301.6Z" fill="#5c91c2"/>
<path d="M213.3 291.7L217.6 291.0L221.9 290.6L222.6 299.0L218.7 299.4L214.8 300.0Z" fill="#6da5cd"/>
<path d="M221.5 290.6L225.8 290.3L230.2 290.2L230.2 298.7L226.2 298.8L222.3 299.1Z" fill="#82b8d7"/>
<path d="M229.8 297.9L233.8 298.0L237.8 298.2L237.0 306.7L233.4 306.5L229.8 306.4Z" fill="#f3e9c0"/>
<path d="M237.4 298.2L241.4 298.6L245.4 299.2L243.8 307.6L240.3 307.0L236.7 306.7Z" fill="#f9e5af"/>
<path d="M245.0 299.1L248.9 299.9L252.8 300.8L250.5 309.0L247.0 308.2L243.5 307.5Z" fill="#deeff2"/>
<path d="M252.4 300.7L256.3 301.8L260.1 303.1L257.0 311.0L253.6 309.9L250.2 308.9Z" fill="#a6d5e7"/>
<path d="M259.7 302.9L263.4 304.3L267.1 305.9L263.4 313.6L260.1 312.2L256.7 310.9Z" fill="#669cc8"/>
<path d="M266.8 305.7L270.3 307.5L273.8 309.3L269.4 316.7L266.3 315.0L263.1 313.4Z" fill="#4a7bb7"/>
<path d="M273.5 309.1L276.9 311.1L280.3 313.3L275.2 320.2L272.2 318.3L269.2 316.5Z" fill="#9acce2"/>
<path d="M280.0 313.1L283.2 315.4L286.3 317.8L280.6 324.3L277.8 322.1L274.9 320.1Z" fill="#d2ebf3"/>
<path d="M286.0 317.6L289.0 320.1L291.9 322.8L285.7 328.8L283.1 326.4L280.4 324.1Z" fill="#e2eeea"/>
<path d="M291.6 322.5L294.4 325.3L297.0 328.3L290.3 333.7L287.9 331.1L285.5 328.6Z" fill="#6197c5"/>
<path d="M296.8 328.0L299.3 331.0L301.7 334.1L294.5 339.0L292.4 336.2L290.1 333.5Z" fill="#74add1"/>
<path d="M301.5 333.8L303.7 337.0L305.8 340.3L298.1 344.6L296.3 341.6L294.3 338.7Z" fill="#bfe2ee"/>
<path d="M305.6 340.0L307.5 343.4L309.3 346.9L301.3 350.5L299.7 347.4L298.0 344.3Z" fill="#f9e5af"/>
<path d="M309.1 346.6L310.7 350.1L312.2 353.7L303.9 356.6L302.6 353.4L301.2 350.2Z" fill="#f6e7b7"/>
<path d="M312.0 353.4L313.3 357.1L314.4 360.8L306.0 363.0L305.0 359.6L303.8 356.3Z" fill="#e4eee6"/>
<path d="M314.3 360.4L315.3 364.2L316.1 368.0L307.4 369.4L306.7 366.0L305.9 362.6Z" fill="#ebedd5"/>
<path d="M316.0 367.6L316.6 371.5L317.1 375.3L308.3 376.0L307.9 372.6L307.4 369.1Z" fill="#abd9e9"/>
<path d="M317.0 374.9L317.3 378.8L317.4 382.7L308.6 382.7L308.5 379.2L308.3 375.7Z" fill="#b0dbea"/>
<path d="M317.4 382.3L317.3 386.2L317.0 390.1L308.3 389.3L308.5 385.8L308.6 382.3Z" fill="#9acce2"/>
<path d="M317.1 389.7L316.6 393.5L316.0 397.4L307.4 395.9L307.9 392.4L308.3 389.0Z" fill="#e7eddd"/>
<path d="M316.1 397.0L315.3 400.8L314.3 404.6L305.9 402.4L306.7 399.0L307.4 395.6Z" fill="#e6eee2"/>
<path d="M314.4 404.2L313.3 407.9L312.0 411.6L303.8 408.7L305.0 405.4L306.0 402.0Z" fill="#abd9e9"/>
<path d="M312.2 411.3L310.7 414.9L309.1 418.4L301.2 414.8L302.6 411.6L303.9 408.4Z" fill="#4a7bb7"/>
<path d="M309.3 418.1L307.5 421.6L305.6 425.0L298.0 420.7L299.7 417.6L301.3 414.5Z" fill="#4a7bb7"/>
<path d="M305.8 424.7L303.7 428.0L301.5 431.2L294.3 426.3L296.3 423.4L298.1 420.4Z" fill="#bfe2ee"/>
<path d="M301.7 430.9L299.3 434.0L296.8 437.0L290.1 431.5L292.4 428.8L294.5 426.0Z" fill="#d2ebf3"/>
<path d="M297.0 436.7L294.4 439.7L291.6 442.5L285.5 436.4L287.9 433.9L290.3 431.3Z" fill="#e7eddd"/>
<path d="M291.9 442.2L289.0 444.9L286.0 447.4L280.4 440.9L283.1 438.6L285.7 436.2Z" fill="#74add1"/>
<path d="M286.3 447.2L283.2 449.6L280.0 451.9L274.9 444.9L277.8 442.9L280.6 440.7Z" fill="#8abfdb"/>
<path d="M280.3 451.7L276.9 453.9L273.5 455.9L269.2 448.5L272.2 446.7L275.2 444.8Z" fill="#a0d0e4"/>
<path d="M273.8 455.7L270.3 457.5L266.8 459.3L263.1 451.6L266.3 450.0L269.4 448.3Z" fill="#bfe2ee"/>
<path d="M267.1 459.1L263.4 460.7L259.7 462.1L256.7 454.1L260.1 452.8L263.4 451.4Z" fill="#4575b4"/>
<path d="M260.1 461.9L256.3 463.2L252.4 464.3L250.2 456.1L253.6 455.1L257.0 454.0Z" fill="#95c7df"/>
<path d="M252.8 464.2L248.9 465.1L245.0 465.9L243.5 457.5L247.0 456.8L250.5 456.0Z" fill="#a0d0e4"/>
<path d="M245.4 465.8L241.4 466.4L237.4 466.8L236.7 458.3L240.3 458.0L243.8 457.4Z" fill="#f5e8bc"/>
<path d="M237.8 466.8L233.8 467.0L229.8 467.1L229.8 458.6L233.4 458.5L237.0 458.3Z" fill="#fce3a6"/>
<path d="M230.2 467.1L226.2 467.0L222.2 466.8L223.0 458.3L226.6 458.5L230.2 458.6Z" fill="#ebedd5"/>
<path d="M222.6 466.8L218.6 466.4L214.6 465.8L216.2 457.4L219.7 458.0L223.3 458.3Z" fill="#7fb6d6"/>
<path d="M215.0 465.9L211.1 465.1L207.2 464.2L209.5 456.0L213.0 456.8L216.5 457.5Z" fill="#6197c5"/>
<path d="M207.6 464.3L203.7 463.2L199.9 461.9L203.0 454.0L206.4 455.1L209.8 456.1Z" fill="#3f5ea9"/>
<path d="M200.3 462.1L196.6 460.7L192.9 459.1L196.6 451.4L199.9 452.8L203.3 454.1Z" fill="#4a7bb7"/>
<path d="M193.2 459.3L189.7 457.5L186.2 455.7L190.6 448.3L193.7 450.0L196.9 451.6Z" fill="#4575b4"/>
<path d="M186.5 455.9L183.1 453.9L179.7 451.7L184.8 444.8L187.8 446.7L190.8 448.5Z" fill="#4e80ba"/>
<path d="M180.0 451.9L176.8 449.6L173.7 447.2L179.4 440.7L182.2 442.9L185.1 444.9Z" fill="#3f5fa9"/>
<path d="M174.0 447.4L171.0 444.9L168.1 442.2L174.3 436.2L176.9 438.6L179.6 440.9Z" fill="#74add1"/>
<path d="M168.4 442.5L165.6 439.7L163.0 436.7L169.7 431.3L172.1 433.9L174.5 436.4Z" fill="#6ba2cb"/>
<path d="M163.2 437.0L160.7 434.0L158.3 430.9L165.5 426.0L167.6 428.8L169.9 431.5Z" fill="#669cc8"/>
<path d="M158.5 431.2L156.3 428.0L154.2 424.7L161.9 420.4L163.7 423.4L165.7 426.3Z" fill="#90c3dd"/>
<path d="M154.4 425.0L152.5 421.6L150.7 418.1L158.7 414.5L160.3 417.6L162.0 420.7Z" fill="#f3e9c0"/>
<path d="M150.9 418.4L149.3 414.9L147.8 411.3L156.1 408.4L157.4 411.6L158.8 414.8Z" fill="#f4e9be"/>
<path d="M148.0 411.6L146.7 407.9L145.6 404.2L154.0 402.0L155.0 405.4L156.2 408.7Z" fill="#c4e4f0"/>
<path d="M145.7 404.6L144.7 400.8L143.9 397.0L152.6 395.6L153.3 399.0L154.1 402.4Z" fill="#7ab1d3"/>
<path d="M144.0 397.4L143.4 393.5L142.9 389.7L151.7 389.0L152.1 392.4L152.6 395.9Z" fill="#4a7bb7"/>
<path d="M143.0 390.1L142.7 386.2L142.6 382.3L151.4 382.3L151.5 385.8L151.7 389.3Z" fill="#c4e4f0"/>
<path d="M142.6 382.7L142.7 378.8L143.0 374.9L151.7 375.7L151.5 379.2L151.4 382.7Z" fill="#bfe2ee"/>
<path d="M142.9 375.3L143.4 371.5L144.0 367.6L152.6 369.1L152.1 372.6L151.7 376.0Z" fill="#7fb6d6"/>
<path d="M143.9 368.0L144.7 364.2L145.7 360.4L154.1 362.6L153.3 366.0L152.6 369.4Z" fill="#fae4ab"/>
<path d="M145.6 360.8L146.7 357.1L148.0 353.4L156.2 356.3L155.0 359.6L154.0 363.0Z" fill="#d2ebf3"/>
<path d="M147.8 353.7L149.3 350.1L150.9 346.6L158.8 350.2L157.4 353.4L156.1 356.6Z" fill="#90c3dd"/>
<path d="M150.7 346.9L152.5 343.4L154.4 340.0L162.0 344.3L160.3 347.4L158.7 350.5Z" fill="#7fb6d6"/>
<path d="M154.2 340.3L156.3 337.0L158.5 333.8L165.7 338.7L163.7 341.6L161.9 344.6Z" fill="#5a8ec1"/>
<path d="M158.3 334.1L160.7 331.0L163.2 328.0L169.9 333.5L167.6 336.2L165.5 339.0Z" fill="#4e80ba"/>
<path d="M163.0 328.3L165.6 325.3L168.4 322.5L174.5 328.6L172.1 331.1L169.7 333.7Z" fill="#76afd2"/>
<path d="M168.1 322.8L171.0 320.1L174.0 317.6L179.6 324.1L176.9 326.4L174.3 328.8Z" fill="#5d91c2"/>
<path d="M173.7 317.8L176.8 315.4L180.0 313.1L185.1 320.1L182.2 322.1L179.4 324.3Z" fill="#c8e6f1"/>
<path d="M179.7 313.3L183.1 311.1L186.5 309.1L190.8 316.5L187.8 318.3L184.8 320.2Z" fill="#abd9e9"/>
<path d="M186.2 309.3L189.7 307.5L193.2 305.7L196.9 313.4L193.7 315.0L190.6 316.7Z" fill="#6197c5"/>
<path d="M192.9 305.9L196.6 304.3L200.3 302.9L203.3 310.9L199.9 312.2L196.6 313.6Z" fill="#5c91c2"/>
<path d="M199.9 303.1L203.7 301.8L207.6 300.7L209.8 308.9L206.4 309.9L203.0 311.0Z" fill="#426baf"/>
<path d="M207.2 300.8L211.1 299.9L215.0 299.1L216.5 307.5L213.0 308.2L209.5 309.0Z" fill="#4a7bb7"/>
<path d="M214.6 299.2L218.6 298.6L222.6 298.2L223.3 306.7L219.7 307.0L216.2 307.6Z" fill="#7ab1d3"/>
<path d="M222.2 298.2L226.2 298.0L230.2 297.9L230.2 306.4L226.6 306.5L223.0 306.7Z" fill="#abd9e9"/>
<path d="M229.8 305.6L233.5 305.6L237.1 305.9L236.3 314.3L233.1 314.1L229.9 314.1Z" fill="#f2eac4"/>
<path d="M236.8 305.8L240.4 306.2L244.0 306.8L242.4 315.1L239.2 314.6L236.0 314.3Z" fill="#ebedd5"/>
<path d="M243.6 306.7L247.2 307.4L250.7 308.2L248.4 316.4L245.3 315.7L242.1 315.1Z" fill="#d7edf5"/>
<path d="M250.4 308.1L253.9 309.1L257.3 310.3L254.3 318.2L251.3 317.2L248.2 316.3Z" fill="#7ab1d3"/>
<path d="M257.0 310.1L260.4 311.4L263.7 312.8L260.0 320.5L257.0 319.3L254.0 318.1Z" fill="#3d58a6"/>
<path d="M263.4 312.7L266.7 314.3L269.9 315.9L265.5 323.3L262.6 321.8L259.7 320.4Z" fill="#4471b2"/>
<path d="M269.6 315.8L272.7 317.6L275.7 319.6L270.7 326.5L268.0 324.8L265.2 323.2Z" fill="#84bad8"/>
<path d="M275.4 319.4L278.4 321.5L281.2 323.7L275.5 330.2L273.0 328.2L270.4 326.3Z" fill="#9acce2"/>
<path d="M280.9 323.5L283.7 325.8L286.3 328.2L280.1 334.2L277.8 332.0L275.3 330.0Z" fill="#b5ddec"/>
<path d="M286.1 328.0L288.6 330.5L291.0 333.2L284.2 338.6L282.1 336.3L279.9 334.0Z" fill="#588bc0"/>
<path d="M290.8 332.9L293.0 335.7L295.2 338.5L288.0 343.4L286.1 340.8L284.0 338.4Z" fill="#abd9e9"/>
<path d="M295.0 338.2L297.0 341.2L298.9 344.2L291.3 348.4L289.6 345.7L287.8 343.1Z" fill="#deeff2"/>
<path d="M298.7 343.9L300.5 347.0L302.1 350.1L294.1 353.7L292.7 350.9L291.1 348.2Z" fill="#ebedd5"/>
<path d="M301.9 349.8L303.4 353.1L304.7 356.3L296.5 359.2L295.3 356.3L294.0 353.4Z" fill="#dceff6"/>
<path d="M304.6 356.0L305.8 359.4L306.8 362.7L298.3 364.9L297.4 361.9L296.4 359.0Z" fill="#95c7df"/>
<path d="M306.7 362.4L307.6 365.8L308.3 369.3L299.6 370.8L299.0 367.7L298.2 364.6Z" fill="#f2eac4"/>
<path d="M308.2 369.0L308.8 372.5L309.2 376.0L300.4 376.7L300.1 373.6L299.6 370.5Z" fill="#e6eee2"/>
<path d="M309.1 375.6L309.4 379.1L309.5 382.7L300.7 382.6L300.6 379.5L300.4 376.4Z" fill="#a6d5e7"/>
<path d="M309.5 382.3L309.4 385.9L309.1 389.4L300.4 388.6L300.6 385.5L300.7 382.4Z" fill="#bae0ed"/>
<path d="M309.2 389.0L308.8 392.5L308.2 396.0L299.6 394.5L300.1 391.4L300.4 388.3Z" fill="#fdd993"/>
<path d="M308.3 395.7L307.6 399.2L306.7 402.6L298.2 400.4L299.0 397.3L299.6 394.2Z" fill="#fdd68f"/>
<path d="M306.8 402.3L305.8 405.6L304.6 409.0L296.4 406.0L297.4 403.1L298.3 400.1Z" fill="#c4e4f0"/>
<path d="M304.7 408.7L303.4 411.9L301.9 415.2L294.0 411.6L295.3 408.7L296.5 405.8Z" fill="#6fa7ce"/>
<path d="M302.1 414.9L300.5 418.0L298.7 421.1L291.1 416.8L292.7 414.1L294.1 411.3Z" fill="#6fa7ce"/>
<path d="M298.9 420.8L297.0 423.8L295.0 426.8L287.8 421.9L289.6 419.3L291.3 416.6Z" fill="#b0dbea"/>
<path d="M295.2 426.5L293.0 429.3L290.8 432.1L284.0 426.6L286.1 424.2L288.0 421.6Z" fill="#cde8f2"/>
<path d="M291.0 431.8L288.6 434.5L286.1 437.0L279.9 431.0L282.1 428.7L284.2 426.4Z" fill="#edecd1"/>
<path d="M286.3 436.8L283.7 439.2L280.9 441.5L275.3 435.0L277.8 433.0L280.1 430.8Z" fill="#c4e4f0"/>
<path d="M281.2 441.3L278.4 443.5L275.4 445.6L270.4 438.7L273.0 436.8L275.5 434.8Z" fill="#c8e6f1"/>
<path d="M275.7 445.4L272.7 447.4L269.6 449.2L265.2 441.8L268.0 440.2L270.7 438.5Z" fill="#cde8f2"/>
<path d="M269.9 449.1L266.7 450.7L263.4 452.3L259.7 444.6L262.6 443.2L265.5 441.7Z" fill="#4a7bb7"/>
<path d="M263.7 452.2L260.4 453.6L257.0 454.9L254.0 446.9L257.0 445.7L260.0 444.5Z" fill="#5c91c2"/>
<path d="M257.3 454.7L253.9 455.9L250.4 456.9L248.2 448.7L251.3 447.8L254.3 446.8Z" fill="#6fa7ce"/>
<path d="M250.7 456.8L247.2 457.6L243.6 458.3L242.1 449.9L245.3 449.3L248.4 448.6Z" fill="#9acce2"/>
<path d="M244.0 458.2L240.4 458.8L236.8 459.2L236.0 450.7L239.2 450.4L242.4 449.9Z" fill="#deeff2"/>
<path d="M237.1 459.1L233.5 459.4L229.8 459.4L229.9 450.9L233.1 450.9L236.3 450.7Z" fill="#deeff2"/>
<path d="M230.2 459.4L226.5 459.4L222.9 459.1L223.7 450.7L226.9 450.9L230.1 450.9Z" fill="#e9edd9"/>
<path d="M223.2 459.2L219.6 458.8L216.0 458.2L217.6 449.9L220.8 450.4L224.0 450.7Z" fill="#a0d0e4"/>
<path d="M216.4 458.3L212.8 457.6L209.3 456.8L211.6 448.6L214.7 449.3L217.9 449.9Z" fill="#6fa7ce"/>
<path d="M209.6 456.9L206.1 455.9L202.7 454.7L205.7 446.8L208.7 447.8L211.8 448.7Z" fill="#3e5ba7"/>
<path d="M203.0 454.9L199.6 453.6L196.3 452.2L200.0 444.5L203.0 445.7L206.0 446.9Z" fill="#4471b2"/>
<path d="M196.6 452.3L193.3 450.7L190.1 449.1L194.5 441.7L197.4 443.2L200.3 444.6Z" fill="#5d91c2"/>
<path d="M190.4 449.2L187.3 447.4L184.3 445.4L189.3 438.5L192.0 440.2L194.8 441.8Z" fill="#6ba2cb"/>
<path d="M184.6 445.6L181.6 443.5L178.8 441.3L184.5 434.8L187.0 436.8L189.6 438.7Z" fill="#689ec9"/>
<path d="M179.1 441.5L176.3 439.2L173.7 436.8L179.9 430.8L182.2 433.0L184.7 435.0Z" fill="#74add1"/>
<path d="M173.9 437.0L171.4 434.5L169.0 431.8L175.8 426.4L177.9 428.7L180.1 431.0Z" fill="#4e80ba"/>
<path d="M169.2 432.1L167.0 429.3L164.8 426.5L172.0 421.6L173.9 424.2L176.0 426.6Z" fill="#84bad8"/>
<path d="M165.0 426.8L163.0 423.8L161.1 420.8L168.7 416.6L170.4 419.3L172.2 421.9Z" fill="#e6eee2"/>
<path d="M161.3 421.1L159.5 418.0L157.9 414.9L165.9 411.3L167.3 414.1L168.9 416.8Z" fill="#fddd9b"/>
<path d="M158.1 415.2L156.6 411.9L155.3 408.7L163.5 405.8L164.7 408.7L166.0 411.6Z" fill="#fdda95"/>
<path d="M155.4 409.0L154.2 405.6L153.2 402.3L161.7 400.1L162.6 403.1L163.6 406.0Z" fill="#f6e7b8"/>
<path d="M153.3 402.6L152.4 399.2L151.7 395.7L160.4 394.2L161.0 397.3L161.8 400.4Z" fill="#8abfdb"/>
<path d="M151.8 396.0L151.2 392.5L150.8 389.0L159.6 388.3L159.9 391.4L160.4 394.5Z" fill="#6fa7ce"/>
<path d="M150.9 389.4L150.6 385.9L150.5 382.3L159.3 382.4L159.4 385.5L159.6 388.6Z" fill="#c4e4f0"/>
<path d="M150.5 382.7L150.6 379.1L150.9 375.6L159.6 376.4L159.4 379.5L159.3 382.6Z" fill="#b0dbea"/>
<path d="M150.8 376.0L151.2 372.5L151.8 369.0L160.4 370.5L159.9 373.6L159.6 376.7Z" fill="#6ba2cb"/>
<path d="M151.7 369.3L152.4 365.8L153.3 362.4L161.8 364.6L161.0 367.7L160.4 370.8Z" fill="#e0eeee"/>
<path d="M153.2 362.7L154.2 359.4L155.4 356.0L163.6 359.0L162.6 361.9L161.7 364.9Z" fill="#b5ddec"/>
<path d="M155.3 356.3L156.6 353.1L158.1 349.8L166.0 353.4L164.7 356.3L163.5 359.2Z" fill="#abd9e9"/>
<path d="M157.9 350.1L159.5 347.0L161.3 343.9L168.9 348.2L167.3 350.9L165.9 353.7Z" fill="#a0d0e4"/>
<path d="M161.1 344.2L163.0 341.2L165.0 338.2L172.2 343.1L170.4 345.7L168.7 348.4Z" fill="#6da5cd"/>
<path d="M164.8 338.5L167.0 335.7L169.2 332.9L176.0 338.4L173.9 340.8L172.0 343.4Z" fill="#6ba2cb"/>
<path d="M169.0 333.2L171.4 330.5L173.9 328.0L180.1 334.0L177.9 336.3L175.8 338.6Z" fill="#69a0ca"/>
<path d="M173.7 328.2L176.3 325.8L179.1 323.5L184.7 330.0L182.2 332.0L179.9 334.2Z" fill="#5d91c2"/>
<path d="M178.8 323.7L181.6 321.5L184.6 319.4L189.6 326.3L187.0 328.2L184.5 330.2Z" fill="#e4eee6"/>
<path d="M184.3 319.6L187.3 317.6L190.4 315.8L194.8 323.2L192.0 324.8L189.3 326.5Z" fill="#e6eee2"/>
<path d="M190.1 315.9L193.3 314.3L196.6 312.7L200.3 320.4L197.4 321.8L194.5 323.3Z" fill="#bfe2ee"/>
<path d="M196.3 312.8L199.6 311.4L203.0 310.1L206.0 318.1L203.0 319.3L200.0 320.5Z" fill="#90c3dd"/>
<path d="M202.7 310.3L206.1 309.1L209.6 308.1L211.8 316.3L208.7 317.2L205.7 318.2Z" fill="#8cc0dc"/>
<path d="M209.3 308.2L212.8 307.4L216.4 306.7L217.9 315.1L214.7 315.7L211.6 316.4Z" fill="#bfe2ee"/>
<path d="M216.0 306.8L219.6 306.2L223.2 305.8L224.0 314.3L220.8 314.6L217.6 315.1Z" fill="#e4eee6"/>
<path d="M222.9 305.9L226.5 305.6L230.2 305.6L230.1 314.1L226.9 314.1L223.7 314.3Z" fill="#e6eee2"/>
<path d="M229.9 313.2L233.1 313.3L236.4 313.5L235.6 322.0L232.7 321.8L229.9 321.7Z" fill="#e7eddf"/>
<path d="M236.1 313.5L239.3 313.8L242.6 314.3L241.0 322.7L238.2 322.2L235.3 321.9Z" fill="#f4e8bd"/>
<path d="M242.3 314.3L245.5 314.9L248.7 315.6L246.4 323.8L243.6 323.2L240.8 322.6Z" fill="#e8eddc"/>
<path d="M248.4 315.5L251.5 316.4L254.6 317.5L251.6 325.4L248.9 324.5L246.1 323.8Z" fill="#bde1ee"/>
<path d="M254.3 317.4L257.4 318.5L260.4 319.8L256.6 327.5L254.0 326.3L251.3 325.3Z" fill="#5c91c2"/>
<path d="M260.1 319.7L263.0 321.1L265.9 322.6L261.5 329.9L259.0 328.6L256.4 327.4Z" fill="#4060aa"/>
<path d="M265.6 322.4L268.4 324.1L271.2 325.8L266.1 332.8L263.7 331.2L261.3 329.8Z" fill="#74add1"/>
<path d="M270.9 325.7L273.5 327.5L276.1 329.5L270.4 336.0L268.2 334.3L265.9 332.6Z" fill="#74add1"/>
<path d="M275.9 329.3L278.3 331.4L280.7 333.6L274.5 339.6L272.4 337.7L270.2 335.9Z" fill="#6fa7ce"/>
<path d="M280.5 333.4L282.7 335.7L284.9 338.1L278.2 343.5L276.3 341.4L274.3 339.4Z" fill="#6297c6"/>
<path d="M284.7 337.9L286.8 340.3L288.7 342.9L281.5 347.7L279.8 345.5L278.0 343.3Z" fill="#e1eeec"/>
<path d="M288.5 342.6L290.3 345.3L292.0 348.0L284.4 352.2L282.9 349.8L281.3 347.5Z" fill="#eaedd7"/>
<path d="M291.9 347.7L293.5 350.5L294.9 353.4L286.9 356.9L285.7 354.4L284.3 352.0Z" fill="#e6eee2"/>
<path d="M294.8 353.1L296.1 356.0L297.3 358.9L289.0 361.8L288.0 359.2L286.8 356.7Z" fill="#a5d4e6"/>
<path d="M297.2 358.7L298.2 361.7L299.1 364.7L290.7 366.9L289.9 364.2L288.9 361.6Z" fill="#6ea6cd"/>
<path d="M299.1 364.4L299.8 367.5L300.5 370.6L291.8 372.1L291.3 369.3L290.6 366.6Z" fill="#e6eee2"/>
<path d="M300.4 370.3L300.9 373.5L301.3 376.6L292.5 377.3L292.2 374.6L291.8 371.8Z" fill="#d0eaf3"/>
<path d="M301.2 376.3L301.5 379.5L301.5 382.6L292.8 382.6L292.7 379.8L292.5 377.1Z" fill="#9ecee3"/>
<path d="M301.5 382.4L301.5 385.5L301.2 388.7L292.5 387.9L292.7 385.2L292.8 382.4Z" fill="#cae7f1"/>
<path d="M301.3 388.4L300.9 391.5L300.4 394.7L291.8 393.2L292.2 390.4L292.5 387.7Z" fill="#fde2a2"/>
<path d="M300.5 394.4L299.8 397.5L299.1 400.6L290.6 398.4L291.3 395.7L291.8 392.9Z" fill="#fdd690"/>
<path d="M299.1 400.3L298.2 403.3L297.2 406.3L288.9 403.4L289.9 400.8L290.7 398.1Z" fill="#e8eddc"/>
<path d="M297.3 406.1L296.1 409.0L294.8 411.9L286.8 408.3L288.0 405.8L289.0 403.2Z" fill="#74add1"/>
<path d="M294.9 411.6L293.5 414.5L291.9 417.3L284.3 413.0L285.7 410.6L286.9 408.1Z" fill="#7bb3d4"/>
<path d="M292.0 417.0L290.3 419.7L288.5 422.4L281.3 417.5L282.9 415.2L284.4 412.8Z" fill="#89beda"/>
<path d="M288.7 422.1L286.8 424.7L284.7 427.1L278.0 421.7L279.8 419.5L281.5 417.3Z" fill="#b8dfec"/>
<path d="M284.9 426.9L282.7 429.3L280.5 431.6L274.3 425.6L276.3 423.6L278.2 421.5Z" fill="#e8eddc"/>
<path d="M280.7 431.4L278.3 433.6L275.9 435.7L270.2 429.1L272.4 427.3L274.5 425.4Z" fill="#e3eee7"/>
<path d="M276.1 435.5L273.5 437.5L270.9 439.3L265.9 432.4L268.2 430.7L270.4 429.0Z" fill="#c4e4f0"/>
<path d="M271.2 439.2L268.4 440.9L265.6 442.6L261.3 435.2L263.7 433.8L266.1 432.2Z" fill="#b8dfec"/>
<path d="M265.9 442.4L263.0 443.9L260.1 445.3L256.4 437.6L259.0 436.4L261.5 435.1Z" fill="#578abf"/>
<path d="M260.4 445.2L257.4 446.5L254.3 447.6L251.3 439.7L254.0 438.7L256.6 437.5Z" fill="#578abf"/>
<path d="M254.6 447.5L251.5 448.6L248.4 449.5L246.1 441.2L248.9 440.5L251.6 439.6Z" fill="#4470b2"/>
<path d="M248.7 449.4L245.5 450.1L242.3 450.7L240.8 442.4L243.6 441.8L246.4 441.2Z" fill="#9dcee3"/>
<path d="M242.6 450.7L239.3 451.2L236.1 451.5L235.3 443.1L238.2 442.8L241.0 442.3Z" fill="#dceff6"/>
<path d="M236.4 451.5L233.1 451.7L229.9 451.8L229.9 443.3L232.7 443.2L235.6 443.0Z" fill="#e3eee7"/>
<path d="M230.1 451.8L226.9 451.7L223.6 451.5L224.4 443.0L227.3 443.2L230.1 443.3Z" fill="#bee1ee"/>
<path d="M223.9 451.5L220.7 451.2L217.4 450.7L219.0 442.3L221.8 442.8L224.7 443.1Z" fill="#cae7f1"/>
<path d="M217.7 450.7L214.5 450.1L211.3 449.4L213.6 441.2L216.4 441.8L219.2 442.4Z" fill="#5183bb"/>
<path d="M211.6 449.5L208.5 448.6L205.4 447.5L208.4 439.6L211.1 440.5L213.9 441.2Z" fill="#4165ac"/>
<path d="M205.7 447.6L202.6 446.5L199.6 445.2L203.4 437.5L206.0 438.7L208.7 439.7Z" fill="#5c91c2"/>
<path d="M199.9 445.3L197.0 443.9L194.1 442.4L198.5 435.1L201.0 436.4L203.6 437.6Z" fill="#6ea5cd"/>
<path d="M194.4 442.6L191.6 440.9L188.8 439.2L193.9 432.2L196.3 433.8L198.7 435.2Z" fill="#5184bc"/>
<path d="M189.1 439.3L186.5 437.5L183.9 435.5L189.6 429.0L191.8 430.7L194.1 432.4Z" fill="#6298c6"/>
<path d="M184.1 435.7L181.7 433.6L179.3 431.4L185.5 425.4L187.6 427.3L189.8 429.1Z" fill="#5f94c4"/>
<path d="M179.5 431.6L177.3 429.3L175.1 426.9L181.8 421.5L183.7 423.6L185.7 425.6Z" fill="#7ab2d4"/>
<path d="M175.3 427.1L173.2 424.7L171.3 422.1L178.5 417.3L180.2 419.5L182.0 421.7Z" fill="#c4e4f0"/>
<path d="M171.5 422.4L169.7 419.7L168.0 417.0L175.6 412.8L177.1 415.2L178.7 417.5Z" fill="#e3eee7"/>
<path d="M168.1 417.3L166.5 414.5L165.1 411.6L173.1 408.1L174.3 410.6L175.7 413.0Z" fill="#efeccd"/>
<path d="M165.2 411.9L163.9 409.0L162.7 406.1L171.0 403.2L172.0 405.8L173.2 408.3Z" fill="#f9e5ae"/>
<path d="M162.8 406.3L161.8 403.3L160.9 400.3L169.3 398.1L170.1 400.8L171.1 403.4Z" fill="#e1eeec"/>
<path d="M160.9 400.6L160.2 397.5L159.5 394.4L168.2 392.9L168.7 395.7L169.4 398.4Z" fill="#b1dceb"/>
<path d="M159.6 394.7L159.1 391.5L158.7 388.4L167.5 387.7L167.8 390.4L168.2 393.2Z" fill="#6298c6"/>
<path d="M158.8 388.7L158.5 385.5L158.5 382.4L167.2 382.4L167.3 385.2L167.5 387.9Z" fill="#c4e4f0"/>
<path d="M158.5 382.6L158.5 379.5L158.8 376.3L167.5 377.1L167.3 379.8L167.2 382.6Z" fill="#b1dceb"/>
<path d="M158.7 376.6L159.1 373.5L159.6 370.3L168.2 371.8L167.8 374.6L167.5 377.3Z" fill="#74add1"/>
<path d="M159.5 370.6L160.2 367.5L160.9 364.4L169.4 366.6L168.7 369.3L168.2 372.1Z" fill="#c6e5f0"/>
<path d="M160.9 364.7L161.8 361.7L162.8 358.7L171.1 361.6L170.1 364.2L169.3 366.9Z" fill="#b2dceb"/>
<path d="M162.7 358.9L163.9 356.0L165.2 353.1L173.2 356.7L172.0 359.2L171.0 361.8Z" fill="#b7deec"/>
<path d="M165.1 353.4L166.5 350.5L168.1 347.7L175.7 352.0L174.3 354.4L173.1 356.9Z" fill="#aad9e9"/>
<path d="M168.0 348.0L169.7 345.3L171.5 342.6L178.7 347.5L177.1 349.8L175.6 352.2Z" fill="#7ab2d4"/>
<path d="M171.3 342.9L173.2 340.3L175.3 337.9L182.0 343.3L180.2 345.5L178.5 347.7Z" fill="#7bb2d4"/>
<path d="M175.1 338.1L177.3 335.7L179.5 333.4L185.7 339.4L183.7 341.4L181.8 343.5Z" fill="#7bb2d4"/>
<path d="M179.3 333.6L181.7 331.4L184.1 329.3L189.8 335.9L187.6 337.7L185.5 339.6Z" fill="#77b0d2"/>
<path d="M183.9 329.5L186.5 327.5L189.1 325.7L194.1 332.6L191.8 334.3L189.6 336.0Z" fill="#f0ebca"/>
<path d="M188.8 325.8L191.6 324.1L194.4 322.4L198.7 329.8L196.3 331.2L193.9 332.8Z" fill="#fde2a2"/>
<path d="M194.1 322.6L197.0 321.1L199.9 319.7L203.6 327.4L201.0 328.6L198.5 329.9Z" fill="#e2eee9"/>
<path d="M199.6 319.8L202.6 318.5L205.7 317.4L208.7 325.3L206.0 326.3L203.4 327.5Z" fill="#c7e6f0"/>
<path d="M205.4 317.5L208.5 316.4L211.6 315.5L213.9 323.8L211.1 324.5L208.4 325.4Z" fill="#bde1ee"/>
<path d="M211.3 315.6L214.5 314.9L217.7 314.3L219.2 322.6L216.4 323.2L213.6 323.8Z" fill="#cae7f1"/>
<path d="M217.4 314.3L220.7 313.8L223.9 313.5L224.7 321.9L221.8 322.2L219.0 322.7Z" fill="#dceff6"/>
<path d="M223.6 313.5L226.9 313.3L230.1 313.2L230.1 321.7L227.3 321.8L224.4 322.0Z" fill="#dceff6"/>
<path d="M229.9 320.9L232.8 320.9L235.7 321.1L234.9 329.6L232.4 329.4L229.9 329.4Z" fill="#abd9e9"/>
<path d="M235.4 321.1L238.3 321.4L241.2 321.8L239.6 330.2L237.2 329.8L234.7 329.6Z" fill="#abd9e9"/>
<path d="M240.9 321.8L243.8 322.4L246.6 323.0L244.3 331.2L241.9 330.6L239.4 330.2Z" fill="#fde2a2"/>
<path d="M246.3 323.0L249.1 323.7L251.9 324.7L248.9 332.6L246.5 331.8L244.1 331.2Z" fill="#f5e8bc"/>
<path d="M251.6 324.6L254.3 325.6L257.0 326.7L253.3 334.4L251.0 333.4L248.7 332.6Z" fill="#90c3dd"/>
<path d="M256.8 326.6L259.4 327.9L261.9 329.2L257.5 336.6L255.3 335.4L253.1 334.3Z" fill="#588bc0"/>
<path d="M261.7 329.1L264.2 330.5L266.6 332.1L261.6 339.1L259.5 337.7L257.3 336.4Z" fill="#5c91c2"/>
<path d="M266.4 332.0L268.7 333.6L271.0 335.4L265.3 341.9L263.4 340.4L261.4 338.9Z" fill="#4060aa"/>
<path d="M270.8 335.2L273.0 337.1L275.1 339.0L268.9 345.0L267.1 343.3L265.2 341.7Z" fill="#3a4ca0"/>
<path d="M274.9 338.8L276.9 340.9L278.8 343.0L272.1 348.4L270.4 346.6L268.7 344.9Z" fill="#5c91c2"/>
<path d="M278.6 342.8L280.5 345.0L282.2 347.3L275.0 352.1L273.5 350.2L271.9 348.3Z" fill="#74add1"/>
<path d="M282.0 347.1L283.7 349.4L285.2 351.8L277.6 356.0L276.3 354.0L274.9 351.9Z" fill="#efeccd"/>
<path d="M285.0 351.6L286.4 354.1L287.7 356.6L279.8 360.2L278.6 358.0L277.4 355.8Z" fill="#edecd1"/>
<path d="M287.6 356.3L288.8 358.9L289.8 361.5L281.6 364.4L280.7 362.2L279.7 360.0Z" fill="#c4e4f0"/>
<path d="M289.7 361.3L290.7 364.0L291.5 366.7L283.0 368.9L282.3 366.5L281.5 364.2Z" fill="#c8e6f1"/>
<path d="M291.4 366.4L292.1 369.2L292.7 371.9L284.0 373.4L283.5 371.0L282.9 368.6Z" fill="#8abfdb"/>
<path d="M292.6 371.7L293.1 374.5L293.4 377.3L284.6 378.0L284.4 375.6L284.0 373.2Z" fill="#abd9e9"/>
<path d="M293.4 377.0L293.6 379.8L293.6 382.6L284.8 382.6L284.8 380.2L284.6 377.8Z" fill="#abd9e9"/>
<path d="M293.6 382.4L293.6 385.2L293.4 388.0L284.6 387.2L284.8 384.8L284.8 382.4Z" fill="#dceff6"/>
<path d="M293.4 387.7L293.1 390.5L292.6 393.3L284.0 391.8L284.4 389.4L284.6 387.0Z" fill="#e6eee2"/>
<path d="M292.7 393.1L292.1 395.8L291.4 398.6L282.9 396.4L283.5 394.0L284.0 391.6Z" fill="#e6eee2"/>
<path d="M291.5 398.3L290.7 401.0L289.7 403.7L281.5 400.8L282.3 398.5L283.0 396.1Z" fill="#c8e6f1"/>
<path d="M289.8 403.5L288.8 406.1L287.6 408.7L279.7 405.0L280.7 402.8L281.6 400.6Z" fill="#abd9e9"/>
<path d="M287.7 408.4L286.4 410.9L285.0 413.4L277.4 409.2L278.6 407.0L279.8 404.8Z" fill="#e4eee6"/>
<path d="M285.2 413.2L283.7 415.6L282.0 417.9L274.9 413.1L276.3 411.0L277.6 409.0Z" fill="#c8e6f1"/>
<path d="M282.2 417.7L280.5 420.0L278.6 422.2L271.9 416.7L273.5 414.8L275.0 412.9Z" fill="#90c3dd"/>
<path d="M278.8 422.0L276.9 424.1L274.9 426.2L268.7 420.1L270.4 418.4L272.1 416.6Z" fill="#74add1"/>
<path d="M275.1 426.0L273.0 427.9L270.8 429.8L265.2 423.3L267.1 421.7L268.9 420.0Z" fill="#bfe2ee"/>
<path d="M271.0 429.6L268.7 431.4L266.4 433.0L261.4 426.1L263.4 424.6L265.3 423.1Z" fill="#f0ebc9"/>
<path d="M266.6 432.9L264.2 434.5L261.7 435.9L257.3 428.6L259.5 427.3L261.6 425.9Z" fill="#dceff6"/>
<path d="M261.9 435.8L259.4 437.1L256.8 438.4L253.1 430.7L255.3 429.6L257.5 428.4Z" fill="#4575b4"/>
<path d="M257.0 438.3L254.3 439.4L251.6 440.4L248.7 432.4L251.0 431.6L253.3 430.6Z" fill="#4575b4"/>
<path d="M251.9 440.3L249.1 441.3L246.3 442.0L244.1 433.8L246.5 433.2L248.9 432.4Z" fill="#6fa7ce"/>
<path d="M246.6 442.0L243.8 442.6L240.9 443.2L239.4 434.8L241.9 434.4L244.3 433.8Z" fill="#90c3dd"/>
<path d="M241.2 443.2L238.3 443.6L235.4 443.9L234.7 435.4L237.2 435.2L239.6 434.8Z" fill="#abd9e9"/>
<path d="M235.7 443.9L232.8 444.1L229.9 444.1L229.9 435.6L232.4 435.6L234.9 435.4Z" fill="#f6e7b8"/>
<path d="M230.1 444.1L227.2 444.1L224.3 443.9L225.1 435.4L227.6 435.6L230.1 435.6Z" fill="#efeccd"/>
<path d="M224.6 443.9L221.7 443.6L218.8 443.2L220.4 434.8L222.8 435.2L225.3 435.4Z" fill="#f6e7b8"/>
<path d="M219.1 443.2L216.2 442.6L213.4 442.0L215.7 433.8L218.1 434.4L220.6 434.8Z" fill="#8abfdb"/>
<path d="M213.7 442.0L210.9 441.3L208.1 440.3L211.1 432.4L213.5 433.2L215.9 433.8Z" fill="#c8e6f1"/>
<path d="M208.4 440.4L205.7 439.4L203.0 438.3L206.7 430.6L209.0 431.6L211.3 432.4Z" fill="#669cc8"/>
<path d="M203.2 438.4L200.6 437.1L198.1 435.8L202.5 428.4L204.7 429.6L206.9 430.7Z" fill="#7ab1d3"/>
<path d="M198.3 435.9L195.8 434.5L193.4 432.9L198.4 425.9L200.5 427.3L202.7 428.6Z" fill="#4575b4"/>
<path d="M193.6 433.0L191.3 431.4L189.0 429.6L194.7 423.1L196.6 424.6L198.6 426.1Z" fill="#3e5ca8"/>
<path d="M189.2 429.8L187.0 427.9L184.9 426.0L191.1 420.0L192.9 421.7L194.8 423.3Z" fill="#74add1"/>
<path d="M185.1 426.2L183.1 424.1L181.2 422.0L187.9 416.6L189.6 418.4L191.3 420.1Z" fill="#e9edd9"/>
<path d="M181.4 422.2L179.5 420.0L177.8 417.7L185.0 412.9L186.5 414.8L188.1 416.7Z" fill="#fdcd81"/>
<path d="M178.0 417.9L176.3 415.6L174.8 413.2L182.4 409.0L183.7 411.0L185.1 413.1Z" fill="#e6eee2"/>
<path d="M175.0 413.4L173.6 410.9L172.3 408.4L180.2 404.8L181.4 407.0L182.6 409.2Z" fill="#abd9e9"/>
<path d="M172.4 408.7L171.2 406.1L170.2 403.5L178.4 400.6L179.3 402.8L180.3 405.0Z" fill="#abd9e9"/>
<path d="M170.3 403.7L169.3 401.0L168.5 398.3L177.0 396.1L177.7 398.5L178.5 400.8Z" fill="#4060aa"/>
<path d="M168.6 398.6L167.9 395.8L167.3 393.1L176.0 391.6L176.5 394.0L177.1 396.4Z" fill="#6197c5"/>
<path d="M167.4 393.3L166.9 390.5L166.6 387.7L175.4 387.0L175.6 389.4L176.0 391.8Z" fill="#7ab1d3"/>
<path d="M166.6 388.0L166.4 385.2L166.4 382.4L175.2 382.4L175.2 384.8L175.4 387.2Z" fill="#d7edf5"/>
<path d="M166.4 382.6L166.4 379.8L166.6 377.0L175.4 377.8L175.2 380.2L175.2 382.6Z" fill="#f6e7b8"/>
<path d="M166.6 377.3L166.9 374.5L167.4 371.7L176.0 373.2L175.6 375.6L175.4 378.0Z" fill="#fde09e"/>
<path d="M167.3 371.9L167.9 369.2L168.6 366.4L177.1 368.6L176.5 371.0L176.0 373.4Z" fill="#f6e7b8"/>
<path d="M168.5 366.7L169.3 364.0L170.3 361.3L178.5 364.2L177.7 366.5L177.0 368.9Z" fill="#a6d5e7"/>
<path d="M170.2 361.5L171.2 358.9L172.4 356.3L180.3 360.0L179.3 362.2L178.4 364.4Z" fill="#c4e4f0"/>
<path d="M172.3 356.6L173.6 354.1L175.0 351.6L182.6 355.8L181.4 358.0L180.2 360.2Z" fill="#c4e4f0"/>
<path d="M174.8 351.8L176.3 349.4L178.0 347.1L185.1 351.9L183.7 354.0L182.4 356.0Z" fill="#74add1"/>
<path d="M177.8 347.3L179.5 345.0L181.4 342.8L188.1 348.3L186.5 350.2L185.0 352.1Z" fill="#5c91c2"/>
<path d="M181.2 343.0L183.1 340.9L185.1 338.8L191.3 344.9L189.6 346.6L187.9 348.4Z" fill="#4a7bb7"/>
<path d="M184.9 339.0L187.0 337.1L189.2 335.2L194.8 341.7L192.9 343.3L191.1 345.0Z" fill="#e6eee2"/>
<path d="M189.0 335.4L191.3 333.6L193.6 332.0L198.6 338.9L196.6 340.4L194.7 341.9Z" fill="#fdd993"/>
<path d="M193.4 332.1L195.8 330.5L198.3 329.1L202.7 336.4L200.5 337.7L198.4 339.1Z" fill="#fdc477"/>
<path d="M198.1 329.2L200.6 327.9L203.2 326.6L206.9 334.3L204.7 335.4L202.5 336.6Z" fill="#fdd993"/>
<path d="M203.0 326.7L205.7 325.6L208.4 324.6L211.3 332.6L209.0 333.4L206.7 334.4Z" fill="#fce3a6"/>
<path d="M208.1 324.7L210.9 323.7L213.7 323.0L215.9 331.2L213.5 331.8L211.1 332.6Z" fill="#e6eee2"/>
<path d="M213.4 323.0L216.2 322.4L219.1 321.8L220.6 330.2L218.1 330.6L215.7 331.2Z" fill="#abd9e9"/>
<path d="M218.8 321.8L221.7 321.4L224.6 321.1L225.3 329.6L222.8 329.8L220.4 330.2Z" fill="#dceff6"/>
<path d="M224.3 321.1L227.2 320.9L230.1 320.9L230.1 329.4L227.6 329.4L225.1 329.6Z" fill="#dceff6"/>
<path d="M232.3 328.6L234.8 328.8L237.3 329.0L239.7 329.4L242.2 329.9L240.3 338.1L238.2 337.8L236.1 337.4L234.0 337.2L231.9 337.1Z" fill="#abd9e9"/>
<path d="M241.9 329.8L244.4 330.4L246.7 331.1L249.1 331.8L251.4 332.7L248.1 340.5L246.1 339.8L244.1 339.2L242.1 338.6L240.1 338.1Z" fill="#f5e8bc"/>
<path d="M251.2 332.6L253.5 333.6L255.7 334.7L257.9 335.8L260.0 337.1L255.3 344.2L253.5 343.2L251.7 342.2L249.8 341.3L247.9 340.5Z" fill="#74add1"/>
<path d="M259.8 336.9L261.9 338.3L263.9 339.7L265.8 341.2L267.7 342.8L261.8 349.1L260.2 347.7L258.6 346.4L256.9 345.2L255.1 344.1Z" fill="#4471b2"/>
<path d="M267.5 342.7L269.3 344.3L271.1 346.1L272.7 347.9L274.3 349.8L267.3 354.9L266.0 353.3L264.6 351.8L263.1 350.3L261.6 348.9Z" fill="#7ab1d3"/>
<path d="M274.1 349.6L275.6 351.5L277.0 353.5L278.3 355.6L279.5 357.7L271.7 361.6L270.7 359.8L269.6 358.1L268.4 356.4L267.2 354.8Z" fill="#588bc0"/>
<path d="M279.4 357.5L280.5 359.7L281.5 361.9L282.4 364.1L283.2 366.4L274.8 368.9L274.1 367.0L273.4 365.1L272.5 363.2L271.6 361.4Z" fill="#c4e4f0"/>
<path d="M283.1 366.2L283.8 368.5L284.4 370.8L284.9 373.2L285.2 375.6L276.5 376.7L276.2 374.7L275.8 372.7L275.3 370.7L274.7 368.7Z" fill="#abd9e9"/>
<path d="M285.2 375.3L285.5 377.7L285.6 380.1L285.7 382.6L285.6 385.0L276.9 384.6L276.9 382.5L276.9 380.5L276.7 378.5L276.5 376.5Z" fill="#8abfdb"/>
<path d="M285.7 384.7L285.5 387.1L285.2 389.5L284.8 391.9L284.4 394.3L275.8 392.4L276.2 390.4L276.5 388.4L276.8 386.4L276.9 384.4Z" fill="#dceff6"/>
<path d="M284.4 394.1L283.8 396.4L283.1 398.7L282.3 401.0L281.4 403.2L273.3 400.0L274.1 398.1L274.8 396.2L275.3 394.2L275.8 392.2Z" fill="#abd9e9"/>
<path d="M281.5 403.0L280.5 405.2L279.4 407.4L278.2 409.5L276.9 411.6L269.5 407.0L270.6 405.3L271.6 403.5L272.6 401.7L273.4 399.8Z" fill="#abd9e9"/>
<path d="M277.0 411.4L275.7 413.4L274.2 415.3L272.6 417.2L271.0 419.0L264.5 413.3L265.9 411.7L267.2 410.2L268.5 408.5L269.6 406.8Z" fill="#6fa7ce"/>
<path d="M271.1 418.9L269.4 420.6L267.6 422.3L265.8 423.9L263.8 425.4L258.5 418.6L260.1 417.3L261.7 416.0L263.2 414.6L264.7 413.1Z" fill="#74add1"/>
<path d="M264.0 425.2L262.0 426.7L259.9 428.0L257.8 429.2L255.6 430.4L251.6 422.9L253.4 421.9L255.2 420.8L257.0 419.7L258.6 418.5Z" fill="#dceff6"/>
<path d="M255.8 430.3L253.6 431.4L251.3 432.3L249.0 433.2L246.6 434.0L244.0 425.9L246.0 425.2L248.0 424.5L249.9 423.7L251.8 422.8Z" fill="#3e5ca8"/>
<path d="M246.9 433.9L244.5 434.6L242.1 435.2L239.6 435.6L237.2 436.0L236.0 427.6L238.1 427.3L240.2 426.9L242.2 426.4L244.2 425.8Z" fill="#90c3dd"/>
<path d="M237.4 436.0L234.9 436.2L232.4 436.4L229.9 436.4L227.5 436.4L227.9 427.9L230.0 427.9L232.0 427.9L234.1 427.8L236.2 427.5Z" fill="#abd9e9"/>
<path d="M227.7 436.4L225.2 436.2L222.7 436.0L220.3 435.6L217.8 435.1L219.7 426.9L221.8 427.2L223.9 427.6L226.0 427.8L228.1 427.9Z" fill="#edecd1"/>
<path d="M218.1 435.2L215.6 434.6L213.3 433.9L210.9 433.2L208.6 432.3L211.9 424.5L213.9 425.2L215.9 425.8L217.9 426.4L219.9 426.9Z" fill="#8abfdb"/>
<path d="M208.8 432.4L206.5 431.4L204.3 430.3L202.1 429.2L200.0 427.9L204.7 420.8L206.5 421.8L208.3 422.8L210.2 423.7L212.1 424.5Z" fill="#5c91c2"/>
<path d="M200.2 428.1L198.1 426.7L196.1 425.3L194.2 423.8L192.3 422.2L198.2 415.9L199.8 417.3L201.4 418.6L203.1 419.8L204.9 420.9Z" fill="#4575b4"/>
<path d="M192.5 422.3L190.7 420.7L188.9 418.9L187.3 417.1L185.7 415.2L192.7 410.1L194.0 411.7L195.4 413.2L196.9 414.7L198.4 416.1Z" fill="#deeff2"/>
<path d="M185.9 415.4L184.4 413.5L183.0 411.5L181.7 409.4L180.5 407.3L188.3 403.4L189.3 405.2L190.4 406.9L191.6 408.6L192.8 410.2Z" fill="#fdcd81"/>
<path d="M180.6 407.5L179.5 405.3L178.5 403.1L177.6 400.9L176.8 398.6L185.2 396.1L185.9 398.0L186.6 399.9L187.5 401.8L188.4 403.6Z" fill="#abd9e9"/>
<path d="M176.9 398.8L176.2 396.5L175.6 394.2L175.1 391.8L174.8 389.4L183.5 388.3L183.8 390.3L184.2 392.3L184.7 394.3L185.3 396.3Z" fill="#4060aa"/>
<path d="M174.8 389.7L174.5 387.3L174.4 384.9L174.3 382.4L174.4 380.0L183.1 380.4L183.1 382.5L183.1 384.5L183.3 386.5L183.5 388.5Z" fill="#e6eee2"/>
<path d="M174.3 380.3L174.5 377.9L174.8 375.5L175.2 373.1L175.6 370.7L184.2 372.6L183.8 374.6L183.5 376.6L183.2 378.6L183.1 380.6Z" fill="#f6e7b8"/>
<path d="M175.6 370.9L176.2 368.6L176.9 366.3L177.7 364.0L178.6 361.8L186.7 365.0L185.9 366.9L185.2 368.8L184.7 370.8L184.2 372.8Z" fill="#c4e4f0"/>
<path d="M178.5 362.0L179.5 359.8L180.6 357.6L181.8 355.5L183.1 353.4L190.5 358.0L189.4 359.7L188.4 361.5L187.4 363.3L186.6 365.2Z" fill="#deeff2"/>
<path d="M183.0 353.6L184.3 351.6L185.8 349.7L187.4 347.8L189.0 346.0L195.5 351.7L194.1 353.3L192.8 354.8L191.5 356.5L190.4 358.2Z" fill="#5c91c2"/>
<path d="M188.9 346.1L190.6 344.4L192.4 342.7L194.2 341.1L196.2 339.6L201.5 346.4L199.9 347.7L198.3 349.0L196.8 350.4L195.3 351.9Z" fill="#3a4ca0"/>
<path d="M196.0 339.8L198.0 338.3L200.1 337.0L202.2 335.8L204.4 334.6L208.4 342.1L206.6 343.1L204.8 344.2L203.0 345.3L201.4 346.5Z" fill="#fdc477"/>
<path d="M204.2 334.7L206.4 333.6L208.7 332.7L211.0 331.8L213.4 331.0L216.0 339.1L214.0 339.8L212.0 340.5L210.1 341.3L208.2 342.2Z" fill="#fdcb7d"/>
<path d="M213.1 331.1L215.5 330.4L217.9 329.8L220.4 329.4L222.8 329.0L224.0 337.4L221.9 337.7L219.8 338.1L217.8 338.6L215.8 339.2Z" fill="#abd9e9"/>
<path d="M222.6 329.0L225.1 328.8L227.6 328.6L230.1 328.6L232.5 328.6L232.1 337.1L230.0 337.1L228.0 337.1L225.9 337.2L223.8 337.5Z" fill="#dceff6"/>
<path d="M229.9 336.2L232.0 336.3L234.2 336.4L236.3 336.6L238.4 336.9L236.9 345.3L235.1 345.0L233.4 344.9L231.7 344.8L229.9 344.7Z" fill="#4471b2"/>
<path d="M238.2 336.9L240.3 337.3L242.4 337.8L244.4 338.4L246.4 339.0L243.4 347.0L241.8 346.5L240.1 346.0L238.4 345.6L236.7 345.3Z" fill="#dceff6"/>
<path d="M246.2 339.0L248.2 339.7L250.2 340.6L252.1 341.5L254.0 342.5L249.6 349.8L248.1 349.0L246.5 348.3L244.9 347.6L243.3 347.0Z" fill="#bfe2ee"/>
<path d="M253.8 342.4L255.6 343.4L257.4 344.6L259.1 345.8L260.8 347.1L255.1 353.6L253.8 352.6L252.4 351.6L250.9 350.6L249.4 349.7Z" fill="#fdd690"/>
<path d="M260.6 347.0L262.2 348.3L263.8 349.8L265.3 351.3L266.7 352.8L259.9 358.3L258.8 357.0L257.6 355.8L256.3 354.6L255.0 353.5Z" fill="#fdd690"/>
<path d="M266.5 352.7L267.9 354.3L269.1 356.0L270.3 357.7L271.4 359.4L263.8 363.7L262.9 362.2L262.0 360.8L260.9 359.5L259.8 358.2Z" fill="#abd9e9"/>
<path d="M271.3 359.3L272.4 361.1L273.3 362.9L274.2 364.8L274.9 366.8L266.7 369.7L266.1 368.1L265.4 366.5L264.6 365.0L263.7 363.5Z" fill="#4471b2"/>
<path d="M274.9 366.6L275.6 368.5L276.2 370.5L276.7 372.5L277.1 374.6L268.4 376.0L268.1 374.4L267.7 372.7L267.2 371.1L266.6 369.5Z" fill="#7ab1d3"/>
<path d="M277.0 374.4L277.4 376.4L277.6 378.5L277.7 380.5L277.8 382.6L269.0 382.6L269.0 380.9L268.9 379.2L268.7 377.5L268.4 375.9Z" fill="#5c91c2"/>
<path d="M277.8 382.4L277.7 384.5L277.6 386.5L277.4 388.6L277.0 390.6L268.4 389.1L268.7 387.5L268.9 385.8L269.0 384.1L269.0 382.4Z" fill="#74add1"/>
<path d="M277.1 390.4L276.7 392.5L276.2 394.5L275.6 396.5L274.9 398.4L266.6 395.5L267.2 393.9L267.7 392.3L268.1 390.6L268.4 389.0Z" fill="#74add1"/>
<path d="M274.9 398.2L274.2 400.2L273.3 402.1L272.4 403.9L271.3 405.7L263.7 401.5L264.6 400.0L265.4 398.5L266.1 396.9L266.7 395.3Z" fill="#abd9e9"/>
<path d="M271.4 405.6L270.3 407.3L269.1 409.0L267.9 410.7L266.5 412.3L259.8 406.8L260.9 405.5L262.0 404.2L262.9 402.8L263.8 401.3Z" fill="#dceff6"/>
<path d="M266.7 412.2L265.3 413.7L263.8 415.2L262.2 416.7L260.6 418.0L255.0 411.5L256.3 410.4L257.6 409.2L258.8 408.0L259.9 406.7Z" fill="#e6eee2"/>
<path d="M260.8 417.9L259.1 419.2L257.4 420.4L255.6 421.6L253.8 422.6L249.4 415.3L250.9 414.4L252.4 413.4L253.8 412.4L255.1 411.4Z" fill="#dceff6"/>
<path d="M254.0 422.5L252.1 423.5L250.2 424.4L248.2 425.3L246.2 426.0L243.3 418.0L244.9 417.4L246.5 416.7L248.1 416.0L249.6 415.2Z" fill="#deeff2"/>
<path d="M246.4 426.0L244.4 426.6L242.4 427.2L240.3 427.7L238.2 428.1L236.7 419.7L238.4 419.4L240.1 419.0L241.8 418.5L243.4 418.0Z" fill="#3d58a6"/>
<path d="M238.4 428.1L236.3 428.4L234.2 428.6L232.0 428.7L229.9 428.8L229.9 420.3L231.7 420.2L233.4 420.1L235.1 420.0L236.9 419.7Z" fill="#dceff6"/>
<path d="M230.1 428.8L228.0 428.7L225.8 428.6L223.7 428.4L221.6 428.1L223.1 419.7L224.9 420.0L226.6 420.1L228.3 420.2L230.1 420.3Z" fill="#bfe2ee"/>
<path d="M221.8 428.1L219.7 427.7L217.6 427.2L215.6 426.6L213.6 426.0L216.6 418.0L218.2 418.5L219.9 419.0L221.6 419.4L223.3 419.7Z" fill="#bfe2ee"/>
<path d="M213.8 426.0L211.8 425.3L209.8 424.4L207.9 423.5L206.0 422.5L210.4 415.2L211.9 416.0L213.5 416.7L215.1 417.4L216.7 418.0Z" fill="#f7e6b3"/>
<path d="M206.2 422.6L204.4 421.6L202.6 420.4L200.9 419.2L199.2 417.9L204.9 411.4L206.2 412.4L207.6 413.4L209.1 414.4L210.6 415.3Z" fill="#e2eeea"/>
<path d="M199.4 418.0L197.8 416.7L196.2 415.2L194.7 413.7L193.3 412.2L200.1 406.7L201.2 408.0L202.4 409.2L203.7 410.4L205.0 411.5Z" fill="#e2eeea"/>
<path d="M193.5 412.3L192.1 410.7L190.9 409.0L189.7 407.3L188.6 405.6L196.2 401.3L197.1 402.8L198.0 404.2L199.1 405.5L200.2 406.8Z" fill="#efeccd"/>
<path d="M188.7 405.7L187.6 403.9L186.7 402.1L185.8 400.2L185.1 398.2L193.3 395.3L193.9 396.9L194.6 398.5L195.4 400.0L196.3 401.5Z" fill="#deeff2"/>
<path d="M185.1 398.4L184.4 396.5L183.8 394.5L183.3 392.5L182.9 390.4L191.6 389.0L191.9 390.6L192.3 392.3L192.8 393.9L193.4 395.5Z" fill="#5c91c2"/>
<path d="M183.0 390.6L182.6 388.6L182.4 386.5L182.3 384.5L182.2 382.4L191.0 382.4L191.0 384.1L191.1 385.8L191.3 387.5L191.6 389.1Z" fill="#5c91c2"/>
<path d="M182.2 382.6L182.3 380.5L182.4 378.5L182.6 376.4L183.0 374.4L191.6 375.9L191.3 377.5L191.1 379.2L191.0 380.9L191.0 382.6Z" fill="#a6d5e7"/>
<path d="M182.9 374.6L183.3 372.5L183.8 370.5L184.4 368.5L185.1 366.6L193.4 369.5L192.8 371.1L192.3 372.7L191.9 374.4L191.6 376.0Z" fill="#abd9e9"/>
<path d="M185.1 366.8L185.8 364.8L186.7 362.9L187.6 361.1L188.7 359.3L196.3 363.5L195.4 365.0L194.6 366.5L193.9 368.1L193.3 369.7Z" fill="#bfe2ee"/>
<path d="M188.6 359.4L189.7 357.7L190.9 356.0L192.1 354.3L193.5 352.7L200.2 358.2L199.1 359.5L198.0 360.8L197.1 362.2L196.2 363.7Z" fill="#e7eddd"/>
<path d="M193.3 352.8L194.7 351.3L196.2 349.8L197.8 348.3L199.4 347.0L205.0 353.5L203.7 354.6L202.4 355.8L201.2 357.0L200.1 358.3Z" fill="#e6eee2"/>
<path d="M199.2 347.1L200.9 345.8L202.6 344.6L204.4 343.4L206.2 342.4L210.6 349.7L209.1 350.6L207.6 351.6L206.2 352.6L204.9 353.6Z" fill="#b0dbea"/>
<path d="M206.0 342.5L207.9 341.5L209.8 340.6L211.8 339.7L213.8 339.0L216.7 347.0L215.1 347.6L213.5 348.3L211.9 349.0L210.4 349.8Z" fill="#c4e4f0"/>
<path d="M213.6 339.0L215.6 338.4L217.6 337.8L219.7 337.3L221.8 336.9L223.3 345.3L221.6 345.6L219.9 346.0L218.2 346.5L216.6 347.0Z" fill="#e7eddd"/>
<path d="M221.6 336.9L223.7 336.6L225.8 336.4L228.0 336.3L230.1 336.2L230.1 344.7L228.3 344.8L226.6 344.9L224.9 345.0L223.1 345.3Z" fill="#5c91c2"/>
<path d="M231.7 343.9L233.4 344.0L235.2 344.2L237.0 344.5L238.7 344.8L236.8 353.1L235.4 352.8L234.1 352.6L232.7 352.5L231.3 352.4Z" fill="#bae0ed"/>
<path d="M238.5 344.8L240.3 345.2L242.0 345.7L243.7 346.2L245.3 346.9L242.0 354.7L240.7 354.2L239.4 353.8L238.0 353.4L236.7 353.1Z" fill="#deeff2"/>
<path d="M245.2 346.8L246.8 347.5L248.4 348.3L250.0 349.1L251.5 350.0L246.8 357.1L245.6 356.4L244.4 355.8L243.1 355.2L241.8 354.7Z" fill="#a6d5e7"/>
<path d="M251.4 349.9L252.8 350.8L254.3 351.9L255.7 352.9L257.0 354.1L251.1 360.3L250.0 359.5L248.9 358.6L247.8 357.8L246.7 357.1Z" fill="#dceff6"/>
<path d="M256.9 354.0L258.2 355.2L259.4 356.4L260.6 357.7L261.7 359.1L254.7 364.2L253.8 363.2L252.9 362.2L252.0 361.2L251.0 360.3Z" fill="#efeccd"/>
<path d="M261.6 358.9L262.6 360.3L263.6 361.8L264.5 363.2L265.4 364.7L257.6 368.7L256.9 367.5L256.2 366.3L255.5 365.2L254.6 364.1Z" fill="#f0ebc9"/>
<path d="M265.3 364.6L266.1 366.1L266.8 367.7L267.5 369.3L268.0 371.0L259.7 373.5L259.2 372.2L258.7 371.0L258.2 369.7L257.6 368.5Z" fill="#5c91c2"/>
<path d="M268.0 370.8L268.5 372.5L268.9 374.1L269.3 375.8L269.5 377.5L260.8 378.6L260.6 377.3L260.4 376.0L260.0 374.7L259.6 373.4Z" fill="#4471b2"/>
<path d="M269.5 377.4L269.7 379.1L269.8 380.8L269.9 382.5L269.8 384.3L261.1 383.9L261.1 382.5L261.1 381.2L261.0 379.8L260.8 378.5Z" fill="#4575b4"/>
<path d="M269.8 384.1L269.7 385.8L269.5 387.5L269.3 389.2L268.9 390.9L260.3 389.1L260.6 387.8L260.8 386.4L261.0 385.1L261.1 383.8Z" fill="#90c3dd"/>
<path d="M268.9 390.8L268.5 392.5L268.0 394.1L267.4 395.7L266.8 397.3L258.7 394.1L259.2 392.8L259.7 391.6L260.0 390.3L260.4 389.0Z" fill="#abd9e9"/>
<path d="M266.9 397.2L266.2 398.8L265.4 400.3L264.5 401.8L263.6 403.3L256.2 398.7L256.9 397.6L257.6 396.4L258.2 395.2L258.8 394.0Z" fill="#9acce2"/>
<path d="M263.7 403.2L262.7 404.6L261.6 406.0L260.5 407.3L259.3 408.6L252.9 402.9L253.8 401.9L254.7 400.8L255.5 399.7L256.3 398.6Z" fill="#74add1"/>
<path d="M259.5 408.5L258.2 409.8L256.9 411.0L255.6 412.1L254.2 413.2L248.9 406.4L250.0 405.6L251.0 404.7L252.0 403.8L253.0 402.8Z" fill="#95c7df"/>
<path d="M254.3 413.1L252.9 414.1L251.4 415.1L249.9 416.0L248.3 416.8L244.3 409.2L245.5 408.6L246.7 407.9L247.9 407.2L249.0 406.4Z" fill="#bfe2ee"/>
<path d="M248.5 416.7L246.9 417.5L245.3 418.2L243.6 418.8L241.9 419.3L239.3 411.2L240.6 410.8L241.9 410.3L243.2 409.8L244.4 409.2Z" fill="#e7eddd"/>
<path d="M242.1 419.3L240.4 419.8L238.6 420.2L236.9 420.5L235.1 420.8L234.0 412.4L235.4 412.2L236.7 411.9L238.1 411.6L239.4 411.2Z" fill="#4060aa"/>
<path d="M235.3 420.8L233.5 421.0L231.7 421.1L230.0 421.1L228.2 421.1L228.6 412.6L230.0 412.6L231.4 412.6L232.7 412.5L234.1 412.3Z" fill="#dceff6"/>
<path d="M228.3 421.1L226.6 421.0L224.8 420.8L223.0 420.5L221.3 420.2L223.2 411.9L224.6 412.2L225.9 412.4L227.3 412.5L228.7 412.6Z" fill="#dceff6"/>
<path d="M221.5 420.2L219.7 419.8L218.0 419.3L216.3 418.8L214.7 418.1L218.0 410.3L219.3 410.8L220.6 411.2L222.0 411.6L223.3 411.9Z" fill="#bfe2ee"/>
<path d="M214.8 418.2L213.2 417.5L211.6 416.7L210.0 415.9L208.5 415.0L213.2 407.9L214.4 408.6L215.6 409.2L216.9 409.8L218.2 410.3Z" fill="#efeccd"/>
<path d="M208.6 415.1L207.2 414.2L205.7 413.1L204.3 412.1L203.0 410.9L208.9 404.7L210.0 405.5L211.1 406.4L212.2 407.2L213.3 407.9Z" fill="#efeccd"/>
<path d="M203.1 411.0L201.8 409.8L200.6 408.6L199.4 407.3L198.3 405.9L205.3 400.8L206.2 401.8L207.1 402.8L208.0 403.8L209.0 404.7Z" fill="#e2eeea"/>
<path d="M198.4 406.1L197.4 404.7L196.4 403.2L195.5 401.8L194.6 400.3L202.4 396.3L203.1 397.5L203.8 398.7L204.5 399.8L205.4 400.9Z" fill="#f6e7b8"/>
<path d="M194.7 400.4L193.9 398.9L193.2 397.3L192.5 395.7L192.0 394.0L200.3 391.5L200.8 392.8L201.3 394.0L201.8 395.3L202.4 396.5Z" fill="#bfe2ee"/>
<path d="M192.0 394.2L191.5 392.5L191.1 390.9L190.7 389.2L190.5 387.5L199.2 386.4L199.4 387.7L199.6 389.0L200.0 390.3L200.4 391.6Z" fill="#deeff2"/>
<path d="M190.5 387.6L190.3 385.9L190.2 384.2L190.1 382.5L190.2 380.7L198.9 381.1L198.9 382.5L198.9 383.8L199.0 385.2L199.2 386.5Z" fill="#95c7df"/>
<path d="M190.2 380.9L190.3 379.2L190.5 377.5L190.7 375.8L191.1 374.1L199.7 375.9L199.4 377.2L199.2 378.6L199.0 379.9L198.9 381.2Z" fill="#abd9e9"/>
<path d="M191.1 374.2L191.5 372.5L192.0 370.9L192.6 369.3L193.2 367.7L201.3 370.9L200.8 372.2L200.3 373.4L200.0 374.7L199.6 376.0Z" fill="#95c7df"/>
<path d="M193.1 367.8L193.8 366.2L194.6 364.7L195.5 363.2L196.4 361.7L203.8 366.3L203.1 367.4L202.4 368.6L201.8 369.8L201.2 371.0Z" fill="#7ab1d3"/>
<path d="M196.3 361.8L197.3 360.4L198.4 359.0L199.5 357.7L200.7 356.4L207.1 362.1L206.2 363.1L205.3 364.2L204.5 365.3L203.7 366.4Z" fill="#e6eee2"/>
<path d="M200.5 356.5L201.8 355.2L203.1 354.0L204.4 352.9L205.8 351.8L211.1 358.6L210.0 359.4L209.0 360.3L208.0 361.2L207.0 362.2Z" fill="#e6eee2"/>
<path d="M205.7 351.9L207.1 350.9L208.6 349.9L210.1 349.0L211.7 348.2L215.7 355.8L214.5 356.4L213.3 357.1L212.1 357.8L211.0 358.6Z" fill="#5c91c2"/>
<path d="M211.5 348.3L213.1 347.5L214.7 346.8L216.4 346.2L218.1 345.7L220.7 353.8L219.4 354.2L218.1 354.7L216.8 355.2L215.6 355.8Z" fill="#5c91c2"/>
<path d="M217.9 345.7L219.6 345.2L221.4 344.8L223.1 344.5L224.9 344.2L226.0 352.6L224.6 352.8L223.3 353.1L221.9 353.4L220.6 353.8Z" fill="#c4e4f0"/>
<path d="M224.7 344.2L226.5 344.0L228.3 343.9L230.0 343.9L231.8 343.9L231.4 352.4L230.0 352.4L228.6 352.4L227.3 352.5L225.9 352.7Z" fill="#7ab1d3"/>
<path d="M229.9 351.6L231.3 351.6L232.8 351.7L234.2 351.8L235.6 352.0L237.0 352.3L238.3 352.6L236.0 360.8L235.0 360.6L234.0 360.4L233.0 360.2L232.0 360.1L231.0 360.1L230.0 360.1Z" fill="#74add1"/>
<path d="M238.2 352.6L239.6 353.0L240.9 353.4L242.2 353.9L243.5 354.5L244.8 355.1L246.0 355.7L241.6 363.1L240.7 362.6L239.8 362.2L238.9 361.8L237.9 361.4L236.9 361.1L236.0 360.8Z" fill="#abd9e9"/>
<path d="M245.9 355.7L247.1 356.4L248.3 357.1L249.5 358.0L250.6 358.8L251.6 359.7L252.6 360.7L246.4 366.7L245.7 366.0L244.9 365.3L244.1 364.7L243.3 364.1L242.4 363.6L241.5 363.0Z" fill="#e6eee2"/>
<path d="M252.5 360.6L253.5 361.6L254.5 362.6L255.3 363.7L256.2 364.8L257.0 365.9L257.7 367.1L250.1 371.3L249.6 370.5L249.0 369.6L248.4 368.8L247.7 368.1L247.1 367.3L246.4 366.6Z" fill="#74add1"/>
<path d="M257.6 367.0L258.3 368.2L258.9 369.4L259.5 370.7L260.0 371.9L260.5 373.2L260.9 374.6L252.4 376.7L252.1 375.8L251.8 374.8L251.4 373.9L251.0 373.0L250.5 372.1L250.1 371.2Z" fill="#588bc0"/>
<path d="M260.8 374.4L261.2 375.8L261.5 377.1L261.7 378.5L261.8 379.8L261.9 381.2L262.0 382.6L253.2 382.5L253.2 381.6L253.1 380.6L253.0 379.6L252.8 378.6L252.6 377.6L252.4 376.6Z" fill="#90c3dd"/>
<path d="M262.0 382.4L261.9 383.8L261.8 385.2L261.7 386.5L261.5 387.9L261.2 389.2L260.8 390.6L252.4 388.4L252.6 387.4L252.8 386.4L253.0 385.4L253.1 384.4L253.2 383.4L253.2 382.5Z" fill="#e6eee2"/>
<path d="M260.9 390.4L260.5 391.8L260.0 393.1L259.5 394.3L258.9 395.6L258.3 396.8L257.6 398.0L250.1 393.8L250.5 392.9L251.0 392.0L251.4 391.1L251.8 390.2L252.1 389.2L252.4 388.3Z" fill="#f7e6b3"/>
<path d="M257.7 397.9L257.0 399.1L256.2 400.2L255.3 401.3L254.5 402.4L253.5 403.4L252.5 404.4L246.4 398.4L247.1 397.7L247.7 396.9L248.4 396.2L249.0 395.4L249.6 394.5L250.1 393.7Z" fill="#74add1"/>
<path d="M252.6 404.3L251.6 405.3L250.6 406.2L249.5 407.0L248.3 407.9L247.1 408.6L245.9 409.3L241.5 402.0L242.4 401.4L243.3 400.9L244.1 400.3L244.9 399.7L245.7 399.0L246.4 398.3Z" fill="#efeccd"/>
<path d="M246.0 409.3L244.8 409.9L243.5 410.5L242.2 411.1L240.9 411.6L239.6 412.0L238.2 412.4L236.0 404.2L236.9 403.9L237.9 403.6L238.9 403.2L239.8 402.8L240.7 402.4L241.6 401.9Z" fill="#efeccd"/>
<path d="M238.3 412.4L237.0 412.7L235.6 413.0L234.2 413.2L232.8 413.3L231.3 413.4L229.9 413.4L230.0 404.9L231.0 404.9L232.0 404.9L233.0 404.8L234.0 404.6L235.0 404.4L236.0 404.2Z" fill="#588bc0"/>
<path d="M230.1 413.4L228.7 413.4L227.2 413.3L225.8 413.2L224.4 413.0L223.0 412.7L221.7 412.4L224.0 404.2L225.0 404.4L226.0 404.6L227.0 404.8L228.0 404.9L229.0 404.9L230.0 404.9Z" fill="#6fa7ce"/>
<path d="M221.8 412.4L220.4 412.0L219.1 411.6L217.8 411.1L216.5 410.5L215.2 409.9L214.0 409.3L218.4 401.9L219.3 402.4L220.2 402.8L221.1 403.2L222.1 403.6L223.1 403.9L224.0 404.2Z" fill="#5c91c2"/>
<path d="M214.1 409.3L212.9 408.6L211.7 407.9L210.5 407.0L209.4 406.2L208.4 405.3L207.4 404.3L213.6 398.3L214.3 399.0L215.1 399.7L215.9 400.3L216.7 400.9L217.6 401.4L218.5 402.0Z" fill="#8abfdb"/>
<path d="M207.5 404.4L206.5 403.4L205.5 402.4L204.7 401.3L203.8 400.2L203.0 399.1L202.3 397.9L209.9 393.7L210.4 394.5L211.0 395.4L211.6 396.2L212.3 396.9L212.9 397.7L213.6 398.4Z" fill="#6197c5"/>
<path d="M202.4 398.0L201.7 396.8L201.1 395.6L200.5 394.3L200.0 393.1L199.5 391.8L199.1 390.4L207.6 388.3L207.9 389.2L208.2 390.2L208.6 391.1L209.0 392.0L209.5 392.9L209.9 393.8Z" fill="#4471b2"/>
<path d="M199.2 390.6L198.8 389.2L198.5 387.9L198.3 386.5L198.2 385.2L198.1 383.8L198.0 382.4L206.8 382.5L206.8 383.4L206.9 384.4L207.0 385.4L207.2 386.4L207.4 387.4L207.6 388.4Z" fill="#95c7df"/>
<path d="M198.0 382.6L198.1 381.2L198.2 379.8L198.3 378.5L198.5 377.1L198.8 375.8L199.2 374.4L207.6 376.6L207.4 377.6L207.2 378.6L207.0 379.6L206.9 380.6L206.8 381.6L206.8 382.5Z" fill="#588bc0"/>
<path d="M199.1 374.6L199.5 373.2L200.0 371.9L200.5 370.7L201.1 369.4L201.7 368.2L202.4 367.0L209.9 371.2L209.5 372.1L209.0 373.0L208.6 373.9L208.2 374.8L207.9 375.8L207.6 376.7Z" fill="#74add1"/>
<path d="M202.3 367.1L203.0 365.9L203.8 364.8L204.7 363.7L205.5 362.6L206.5 361.6L207.5 360.6L213.6 366.6L212.9 367.3L212.3 368.1L211.6 368.8L211.0 369.6L210.4 370.5L209.9 371.3Z" fill="#c4e4f0"/>
<path d="M207.4 360.7L208.4 359.7L209.4 358.8L210.5 358.0L211.7 357.1L212.9 356.4L214.1 355.7L218.5 363.0L217.6 363.6L216.7 364.1L215.9 364.7L215.1 365.3L214.3 366.0L213.6 366.7Z" fill="#74add1"/>
<path d="M214.0 355.7L215.2 355.1L216.5 354.5L217.8 353.9L219.1 353.4L220.4 353.0L221.8 352.6L224.0 360.8L223.1 361.1L222.1 361.4L221.1 361.8L220.2 362.2L219.3 362.6L218.4 363.1Z" fill="#588bc0"/>
<path d="M221.7 352.6L223.0 352.3L224.4 352.0L225.8 351.8L227.2 351.7L228.7 351.6L230.1 351.6L230.0 360.1L229.0 360.1L228.0 360.1L227.0 360.2L226.0 360.4L225.0 360.6L224.0 360.8Z" fill="#4575b4"/>
<path d="M231.0 359.2L232.1 359.3L233.1 359.4L234.2 359.6L235.2 359.8L236.3 360.0L237.3 360.3L234.6 368.4L234.0 368.2L233.3 368.1L232.7 367.9L232.0 367.8L231.3 367.8L230.6 367.7Z" fill="#74add1"/>
<path d="M237.2 360.3L238.2 360.6L239.2 361.0L240.2 361.4L241.1 361.9L242.0 362.4L243.0 362.9L238.2 370.1L237.7 369.7L237.1 369.4L236.5 369.1L235.8 368.8L235.2 368.6L234.6 368.4Z" fill="#a6d5e7"/>
<path d="M242.9 362.8L243.8 363.4L244.6 364.0L245.4 364.7L246.3 365.4L247.0 366.1L247.8 366.8L241.3 372.5L240.8 372.1L240.3 371.6L239.8 371.2L239.3 370.8L238.7 370.4L238.2 370.0Z" fill="#f7e6b3"/>
<path d="M247.7 366.7L248.4 367.5L249.1 368.3L249.7 369.1L250.3 370.0L250.8 370.9L251.3 371.8L243.6 375.7L243.2 375.1L242.9 374.6L242.5 374.0L242.1 373.5L241.7 373.0L241.2 372.5Z" fill="#dceff6"/>
<path d="M251.3 371.7L251.8 372.6L252.2 373.6L252.6 374.5L252.9 375.5L253.2 376.5L253.5 377.5L244.9 379.3L244.7 378.7L244.6 378.1L244.3 377.4L244.1 376.8L243.8 376.2L243.5 375.6Z" fill="#b0dbea"/>
<path d="M253.5 377.4L253.7 378.4L253.8 379.4L253.9 380.5L254.0 381.5L254.0 382.5L254.0 383.6L245.2 383.2L245.3 382.5L245.2 381.9L245.2 381.2L245.1 380.6L245.0 379.9L244.9 379.3Z" fill="#abd9e9"/>
<path d="M254.0 383.5L253.9 384.5L253.8 385.5L253.7 386.5L253.5 387.6L253.2 388.6L252.9 389.5L244.5 387.0L244.7 386.3L244.9 385.7L245.0 385.1L245.1 384.4L245.2 383.8L245.3 383.1Z" fill="#bfe2ee"/>
<path d="M252.9 389.5L252.6 390.4L252.2 391.4L251.8 392.3L251.3 393.3L250.8 394.2L250.2 395.0L242.9 390.5L243.2 389.9L243.5 389.3L243.8 388.7L244.1 388.1L244.4 387.5L244.6 386.9Z" fill="#e6eee2"/>
<path d="M250.3 395.0L249.7 395.8L249.1 396.7L248.4 397.5L247.7 398.2L247.0 399.0L246.2 399.7L240.3 393.4L240.8 393.0L241.2 392.5L241.7 392.0L242.1 391.5L242.5 391.0L242.9 390.4Z" fill="#fdd48c"/>
<path d="M246.3 399.6L245.5 400.3L244.6 401.0L243.8 401.6L242.9 402.1L242.0 402.7L241.1 403.2L237.0 395.6L237.6 395.3L238.2 395.0L238.8 394.6L239.3 394.2L239.8 393.8L240.3 393.4Z" fill="#fde2a2"/>
<path d="M241.1 403.1L240.2 403.6L239.2 404.0L238.2 404.4L237.2 404.7L236.2 405.0L235.2 405.2L233.3 396.9L233.9 396.8L234.6 396.6L235.2 396.4L235.9 396.2L236.5 395.9L237.1 395.6Z" fill="#e7eddd"/>
<path d="M235.3 405.2L234.2 405.4L233.2 405.6L232.1 405.7L231.0 405.8L230.0 405.8L228.9 405.8L229.3 397.3L230.0 397.3L230.7 397.3L231.3 397.2L232.0 397.2L232.7 397.1L233.3 396.9Z" fill="#b0dbea"/>
<path d="M229.0 405.8L227.9 405.7L226.9 405.6L225.8 405.4L224.8 405.2L223.7 405.0L222.7 404.7L225.4 396.6L226.0 396.8L226.7 396.9L227.3 397.1L228.0 397.2L228.7 397.2L229.4 397.3Z" fill="#6197c5"/>
<path d="M222.8 404.7L221.8 404.4L220.8 404.0L219.8 403.6L218.9 403.1L218.0 402.6L217.0 402.1L221.8 394.9L222.3 395.3L222.9 395.6L223.5 395.9L224.2 396.2L224.8 396.4L225.4 396.6Z" fill="#abd9e9"/>
<path d="M217.1 402.2L216.2 401.6L215.4 401.0L214.6 400.3L213.7 399.6L213.0 398.9L212.2 398.2L218.7 392.5L219.2 392.9L219.7 393.4L220.2 393.8L220.7 394.2L221.3 394.6L221.8 395.0Z" fill="#7ab1d3"/>
<path d="M212.3 398.3L211.6 397.5L210.9 396.7L210.3 395.9L209.7 395.0L209.2 394.1L208.7 393.2L216.4 389.3L216.8 389.9L217.1 390.4L217.5 391.0L217.9 391.5L218.3 392.0L218.8 392.5Z" fill="#4269ae"/>
<path d="M208.7 393.3L208.2 392.4L207.8 391.4L207.4 390.5L207.1 389.5L206.8 388.5L206.5 387.5L215.1 385.7L215.3 386.3L215.4 386.9L215.7 387.6L215.9 388.2L216.2 388.8L216.5 389.4Z" fill="#3e5ca8"/>
<path d="M206.5 387.6L206.3 386.6L206.2 385.6L206.1 384.5L206.0 383.5L206.0 382.5L206.0 381.4L214.8 381.8L214.7 382.5L214.8 383.1L214.8 383.8L214.9 384.4L215.0 385.1L215.1 385.7Z" fill="#588bc0"/>
<path d="M206.0 381.5L206.1 380.5L206.2 379.5L206.3 378.5L206.5 377.4L206.8 376.4L207.1 375.5L215.5 378.0L215.3 378.7L215.1 379.3L215.0 379.9L214.9 380.6L214.8 381.2L214.7 381.9Z" fill="#abd9e9"/>
<path d="M207.1 375.5L207.4 374.6L207.8 373.6L208.2 372.7L208.7 371.7L209.2 370.8L209.8 370.0L217.1 374.5L216.8 375.1L216.5 375.7L216.2 376.3L215.9 376.9L215.6 377.5L215.4 378.1Z" fill="#90c3dd"/>
<path d="M209.7 370.0L210.3 369.2L210.9 368.3L211.6 367.5L212.3 366.8L213.0 366.0L213.8 365.3L219.7 371.6L219.2 372.0L218.8 372.5L218.3 373.0L217.9 373.5L217.5 374.0L217.1 374.6Z" fill="#a6d5e7"/>
<path d="M213.7 365.4L214.5 364.7L215.4 364.0L216.2 363.4L217.1 362.9L218.0 362.3L218.9 361.8L223.0 369.4L222.4 369.7L221.8 370.0L221.2 370.4L220.7 370.8L220.2 371.2L219.7 371.6Z" fill="#deeff2"/>
<path d="M218.9 361.9L219.8 361.4L220.8 361.0L221.8 360.6L222.8 360.3L223.8 360.0L224.8 359.8L226.7 368.1L226.1 368.2L225.4 368.4L224.8 368.6L224.1 368.8L223.5 369.1L222.9 369.4Z" fill="#74add1"/>
<path d="M224.7 359.8L225.8 359.6L226.8 359.4L227.9 359.3L229.0 359.2L230.0 359.2L231.1 359.2L230.7 367.7L230.0 367.7L229.3 367.7L228.7 367.8L228.0 367.8L227.3 367.9L226.7 368.1Z" fill="#4575b4"/>
<path d="M230.0 366.9L230.7 366.9L231.4 366.9L232.1 367.0L232.8 367.1L233.5 367.3L234.2 367.4L234.9 367.6L235.5 367.8L236.2 368.1L236.8 368.4L237.5 368.7L238.1 369.0L233.7 376.3L233.4 376.2L233.1 376.1L232.8 375.9L232.5 375.8L232.2 375.7L231.9 375.6L231.6 375.6L231.3 375.5L231.0 375.4L230.6 375.4L230.3 375.4L230.0 375.4Z" fill="#74add1"/>
<path d="M238.0 369.0L238.6 369.3L239.2 369.7L239.8 370.1L240.4 370.5L240.9 371.0L241.4 371.5L241.9 372.0L242.4 372.5L242.8 373.0L243.2 373.6L243.6 374.1L244.0 374.7L236.4 379.0L236.2 378.7L236.0 378.4L235.8 378.2L235.6 377.9L235.4 377.7L235.2 377.5L235.0 377.3L234.7 377.0L234.5 376.9L234.2 376.7L233.9 376.5L233.7 376.3Z" fill="#dceff6"/>
<path d="M243.9 374.7L244.3 375.3L244.6 375.9L244.9 376.5L245.1 377.2L245.4 377.8L245.6 378.5L245.7 379.1L245.9 379.8L246.0 380.5L246.1 381.2L246.1 381.8L246.1 382.5L237.3 382.5L237.3 382.2L237.3 381.9L237.3 381.6L237.2 381.3L237.2 381.0L237.1 380.7L237.0 380.4L236.9 380.1L236.8 379.8L236.7 379.5L236.5 379.2L236.4 378.9Z" fill="#e7eddd"/>
<path d="M246.1 382.5L246.1 383.2L246.1 383.8L246.0 384.5L245.9 385.2L245.7 385.9L245.6 386.5L245.4 387.2L245.1 387.8L244.9 388.5L244.6 389.1L244.3 389.7L243.9 390.3L236.4 386.1L236.5 385.8L236.7 385.5L236.8 385.2L236.9 384.9L237.0 384.6L237.1 384.3L237.2 384.0L237.2 383.7L237.3 383.4L237.3 383.1L237.3 382.8L237.3 382.5Z" fill="#c4e4f0"/>
<path d="M244.0 390.3L243.6 390.9L243.2 391.4L242.8 392.0L242.4 392.5L241.9 393.0L241.4 393.5L240.9 394.0L240.4 394.5L239.8 394.9L239.2 395.3L238.6 395.7L238.0 396.0L233.7 388.7L233.9 388.5L234.2 388.3L234.5 388.1L234.7 388.0L235.0 387.7L235.2 387.5L235.4 387.3L235.6 387.1L235.8 386.8L236.0 386.6L236.2 386.3L236.4 386.0Z" fill="#f0ebc9"/>
<path d="M238.1 396.0L237.5 396.3L236.8 396.6L236.2 396.9L235.5 397.2L234.9 397.4L234.2 397.6L233.5 397.7L232.8 397.9L232.1 398.0L231.4 398.1L230.7 398.1L230.0 398.1L230.0 389.6L230.3 389.6L230.6 389.6L231.0 389.6L231.3 389.5L231.6 389.4L231.9 389.4L232.2 389.3L232.5 389.2L232.8 389.1L233.1 388.9L233.4 388.8L233.7 388.7Z" fill="#90c3dd"/>
<path d="M230.0 398.1L229.3 398.1L228.6 398.1L227.9 398.0L227.2 397.9L226.5 397.7L225.8 397.6L225.1 397.4L224.5 397.2L223.8 396.9L223.2 396.6L222.5 396.3L221.9 396.0L226.3 388.7L226.6 388.8L226.9 388.9L227.2 389.1L227.5 389.2L227.8 389.3L228.1 389.4L228.4 389.4L228.7 389.5L229.0 389.6L229.4 389.6L229.7 389.6L230.0 389.6Z" fill="#8abfdb"/>
<path d="M222.0 396.0L221.4 395.7L220.8 395.3L220.2 394.9L219.6 394.5L219.1 394.0L218.6 393.5L218.1 393.0L217.6 392.5L217.2 392.0L216.8 391.4L216.4 390.9L216.0 390.3L223.6 386.0L223.8 386.3L224.0 386.6L224.2 386.8L224.4 387.1L224.6 387.3L224.8 387.5L225.0 387.7L225.3 388.0L225.5 388.1L225.8 388.3L226.1 388.5L226.3 388.7Z" fill="#4471b2"/>
<path d="M216.1 390.3L215.7 389.7L215.4 389.1L215.1 388.5L214.9 387.8L214.6 387.2L214.4 386.5L214.3 385.9L214.1 385.2L214.0 384.5L213.9 383.8L213.9 383.2L213.9 382.5L222.7 382.5L222.7 382.8L222.7 383.1L222.7 383.4L222.8 383.7L222.8 384.0L222.9 384.3L223.0 384.6L223.1 384.9L223.2 385.2L223.3 385.5L223.5 385.8L223.6 386.1Z" fill="#588bc0"/>
<path d="M213.9 382.5L213.9 381.8L213.9 381.2L214.0 380.5L214.1 379.8L214.3 379.1L214.4 378.5L214.6 377.8L214.9 377.2L215.1 376.5L215.4 375.9L215.7 375.3L216.1 374.7L223.6 378.9L223.5 379.2L223.3 379.5L223.2 379.8L223.1 380.1L223.0 380.4L222.9 380.7L222.8 381.0L222.8 381.3L222.7 381.6L222.7 381.9L222.7 382.2L222.7 382.5Z" fill="#edecd1"/>
<path d="M216.0 374.7L216.4 374.1L216.8 373.6L217.2 373.0L217.6 372.5L218.1 372.0L218.6 371.5L219.1 371.0L219.6 370.5L220.2 370.1L220.8 369.7L221.4 369.3L222.0 369.0L226.3 376.3L226.1 376.5L225.8 376.7L225.5 376.9L225.3 377.0L225.0 377.3L224.8 377.5L224.6 377.7L224.4 377.9L224.2 378.2L224.0 378.4L223.8 378.7L223.6 379.0Z" fill="#abd9e9"/>
<path d="M221.9 369.0L222.5 368.7L223.2 368.4L223.8 368.1L224.5 367.8L225.1 367.6L225.8 367.4L226.5 367.3L227.2 367.1L227.9 367.0L228.6 366.9L229.3 366.9L230.0 366.9L230.0 375.4L229.7 375.4L229.4 375.4L229.0 375.4L228.7 375.5L228.4 375.6L228.1 375.6L227.8 375.7L227.5 375.8L227.2 375.9L226.9 376.1L226.6 376.2L226.3 376.3Z" fill="#588bc0"/>
<path d="M230.3 374.6L230.7 374.6L231.1 374.6L231.4 374.7L231.8 374.7L232.1 374.8L232.5 374.9L232.8 375.0L233.1 375.2L233.5 375.3L233.8 375.5L234.1 375.6L234.4 375.8L230.0 382.5L230.0 382.5L230.0 382.5L230.0 382.5L230.0 382.5L230.0 382.5L230.0 382.5L230.0 382.5L230.0 382.5L230.0 382.5L230.0 382.5L230.0 382.5L230.0 382.5Z" fill="#c8e6f1"/>
<path d="M234.4 375.8L234.7 376.0L235.0 376.2L235.3 376.4L235.5 376.6L235.8 376.9L236.0 377.1L236.3 377.4L236.5 377.7L236.7 378.0L236.9 378.2L237.1 378.5L237.3 378.8L230.0 382.5L230.0 382.5L230.0 382.5L230.0 382.5L230.0 382.5L230.0 382.5L230.0 382.5L230.0 382.5L230.0 382.5L230.0 382.5L230.0 382.5L230.0 382.5L230.0 382.5Z" fill="#e7eddd"/>
<path d="M237.3 378.8L237.4 379.1L237.6 379.5L237.7 379.8L237.8 380.1L237.9 380.4L238.0 380.8L238.1 381.1L238.1 381.5L238.2 381.8L238.2 382.2L238.2 382.5L238.2 382.9L230.0 382.5L230.0 382.5L230.0 382.5L230.0 382.5L230.0 382.5L230.0 382.5L230.0 382.5L230.0 382.5L230.0 382.5L230.0 382.5L230.0 382.5L230.0 382.5L230.0 382.5Z" fill="#abd9e9"/>
<path d="M238.2 382.8L238.2 383.2L238.1 383.5L238.1 383.9L238.0 384.2L237.9 384.6L237.8 384.9L237.7 385.2L237.6 385.5L237.4 385.9L237.3 386.2L237.1 386.5L236.9 386.8L230.0 382.5L230.0 382.5L230.0 382.5L230.0 382.5L230.0 382.5L230.0 382.5L230.0 382.5L230.0 382.5L230.0 382.5L230.0 382.5L230.0 382.5L230.0 382.5L230.0 382.5Z" fill="#6197c5"/>
<path d="M236.9 386.8L236.7 387.0L236.5 387.3L236.3 387.6L236.1 387.9L235.8 388.1L235.5 388.4L235.3 388.6L235.0 388.8L234.7 389.0L234.4 389.2L234.1 389.4L233.8 389.6L230.0 382.5L230.0 382.5L230.0 382.5L230.0 382.5L230.0 382.5L230.0 382.5L230.0 382.5L230.0 382.5L230.0 382.5L230.0 382.5L230.0 382.5L230.0 382.5L230.0 382.5Z" fill="#bfe2ee"/>
<path d="M233.8 389.5L233.5 389.7L233.1 389.8L232.8 390.0L232.5 390.1L232.1 390.2L231.8 390.3L231.4 390.3L231.1 390.4L230.7 390.4L230.3 390.4L230.0 390.4L229.6 390.4L230.0 382.5L230.0 382.5L230.0 382.5L230.0 382.5L230.0 382.5L230.0 382.5L230.0 382.5L230.0 382.5L230.0 382.5L230.0 382.5L230.0 382.5L230.0 382.5L230.0 382.5Z" fill="#8abfdb"/>
<path d="M229.7 390.4L229.3 390.4L228.9 390.4L228.6 390.3L228.2 390.3L227.9 390.2L227.5 390.1L227.2 390.0L226.9 389.8L226.5 389.7L226.2 389.5L225.9 389.4L225.6 389.2L230.0 382.5L230.0 382.5L230.0 382.5L230.0 382.5L230.0 382.5L230.0 382.5L230.0 382.5L230.0 382.5L230.0 382.5L230.0 382.5L230.0 382.5L230.0 382.5L230.0 382.5Z" fill="#c4e4f0"/>
<path d="M225.6 389.2L225.3 389.0L225.0 388.8L224.7 388.6L224.5 388.4L224.2 388.1L224.0 387.9L223.7 387.6L223.5 387.3L223.3 387.0L223.1 386.8L222.9 386.5L222.7 386.2L230.0 382.5L230.0 382.5L230.0 382.5L230.0 382.5L230.0 382.5L230.0 382.5L230.0 382.5L230.0 382.5L230.0 382.5L230.0 382.5L230.0 382.5L230.0 382.5L230.0 382.5Z" fill="#8abfdb"/>
<path d="M222.7 386.2L222.6 385.9L222.4 385.5L222.3 385.2L222.2 384.9L222.1 384.6L222.0 384.2L221.9 383.9L221.9 383.5L221.8 383.2L221.8 382.8L221.8 382.5L221.8 382.1L230.0 382.5L230.0 382.5L230.0 382.5L230.0 382.5L230.0 382.5L230.0 382.5L230.0 382.5L230.0 382.5L230.0 382.5L230.0 382.5L230.0 382.5L230.0 382.5L230.0 382.5Z" fill="#4471b2"/>
<path d="M221.8 382.2L221.8 381.8L221.9 381.5L221.9 381.1L222.0 380.8L222.1 380.4L222.2 380.1L222.3 379.8L222.4 379.5L222.6 379.1L222.7 378.8L222.9 378.5L223.1 378.2L230.0 382.5L230.0 382.5L230.0 382.5L230.0 382.5L230.0 382.5L230.0 382.5L230.0 382.5L230.0 382.5L230.0 382.5L230.0 382.5L230.0 382.5L230.0 382.5L230.0 382.5Z" fill="#f7e6b3"/>
<path d="M223.1 378.2L223.3 378.0L223.5 377.7L223.7 377.4L223.9 377.1L224.2 376.9L224.5 376.6L224.7 376.4L225.0 376.2L225.3 376.0L225.6 375.8L225.9 375.6L226.2 375.4L230.0 382.5L230.0 382.5L230.0 382.5L230.0 382.5L230.0 382.5L230.0 382.5L230.0 382.5L230.0 382.5L230.0 382.5L230.0 382.5L230.0 382.5L230.0 382.5L230.0 382.5Z" fill="#abd9e9"/>
<path d="M226.2 375.5L226.5 375.3L226.9 375.2L227.2 375.0L227.5 374.9L227.9 374.8L228.2 374.7L228.6 374.7L228.9 374.6L229.3 374.6L229.7 374.6L230.0 374.6L230.4 374.6L230.0 382.5L230.0 382.5L230.0 382.5L230.0 382.5L230.0 382.5L230.0 382.5L230.0 382.5L230.0 382.5L230.0 382.5L230.0 382.5L230.0 382.5L230.0 382.5L230.0 382.5Z" fill="#95c7df"/>
</g>
<g fill="none" stroke="#f8f8b8" stroke-width="1" shape-rendering="crispEdges">
<ellipse cx="230.5" cy="383.5" rx="47.7" ry="46.3"/>
<ellipse cx="230.5" cy="383.5" rx="95.3" ry="92.7"/>
<ellipse cx="230.5" cy="383.5" rx="143.0" ry="139.0"/>
<path d="M230.5 244.5L230.5 522.5M331.6 285.2L129.4 481.8M373.5 383.5L87.5 383.5M331.6 481.8L129.4 285.2"/>
</g>
<path d="M230.5 383.5L165.6 507.4" stroke="#ff9a00" stroke-width="1" fill="none" shape-rendering="crispEdges"/>
<path d="M184.0 254.5h7M187.5 251.0v7M197.0 268.5h7M200.5 265.0v7M246.0 253.5h7M249.5 250.0v7M262.0 259.5h7M265.5 256.0v7M264.0 261.5h7M267.5 258.0v7M318.0 289.5h7M321.5 286.0v7M326.0 290.5h7M329.5 287.0v7M196.0 304.5h7M199.5 301.0v7M203.0 313.5h7M206.5 310.0v7M212.0 314.5h7M215.5 311.0v7M243.0 312.5h7M246.5 309.0v7M243.0 319.5h7M246.5 316.0v7M233.0 327.5h7M236.5 324.0v7M263.0 331.5h7M266.5 328.0v7M147.0 324.5h7M150.5 321.0v7M147.0 330.5h7M150.5 327.0v7M179.0 327.5h7M182.5 324.0v7M187.0 327.5h7M190.5 324.0v7M245.0 346.5h7M248.5 343.0v7M261.0 345.5h7M264.5 342.0v7M329.0 344.5h7M332.5 341.0v7M339.0 348.5h7M342.5 345.0v7M283.0 358.5h7M286.5 355.0v7M318.0 373.5h7M321.5 370.0v7M261.0 377.5h7M264.5 374.0v7M95.0 357.5h7M98.5 354.0v7M102.0 355.5h7M105.5 352.0v7M160.0 356.5h7M163.5 353.0v7M173.0 366.5h7M176.5 363.0v7M188.0 366.5h7M191.5 363.0v7M119.0 376.5h7M122.5 373.0v7M165.0 377.5h7M168.5 374.0v7M187.0 377.5h7M190.5 374.0v7M138.0 383.5h7M141.5 380.0v7M155.0 387.5h7M158.5 384.0v7M166.0 391.5h7M169.5 388.0v7M178.0 392.5h7M181.5 389.0v7M219.0 387.5h7M222.5 384.0v7M221.0 388.5h7M224.5 385.0v7M224.0 391.5h7M227.5 388.0v7M172.0 414.5h7M175.5 411.0v7M202.0 407.5h7M205.5 404.0v7M221.0 428.5h7M224.5 425.0v7M114.0 432.5h7M117.5 429.0v7M142.0 437.5h7M145.5 434.0v7M158.0 442.5h7M161.5 439.0v7M106.0 456.5h7M109.5 453.0v7M142.0 469.5h7M145.5 466.0v7M152.0 482.5h7M155.5 479.0v7M171.0 476.5h7M174.5 473.0v7M155.0 501.5h7M158.5 498.0v7M272.0 437.5h7M275.5 434.0v7M288.0 445.5h7M291.5 442.0v7M269.0 458.5h7M272.5 455.0v7M316.0 448.5h7M319.5 445.0v7M326.0 460.5h7M329.5 457.0v7M322.0 466.5h7M325.5 463.0v7" stroke="#00f400" stroke-width="1" fill="none" shape-rendering="crispEdges"/>
<path d="M197.1 518.7L195.9 518.4L194.7 518.1L193.5 517.8L192.3 517.4L191.1 517.1L189.9 516.8L188.7 516.4L187.5 516.1L186.3 515.7L185.1 515.3L183.9 514.9L182.8 514.5L181.6 514.1L180.4 513.7L179.3 513.3L178.1 512.8L176.9 512.4L175.8 511.9L174.6 511.5L173.5 511.0L172.3 510.5L171.2 510.0L170.1 509.5L168.9 509.0L167.8 508.4L166.7 507.9L165.6 507.3L164.5 506.8L163.4 506.2L162.3 505.7L161.2 505.1L160.1 504.5L159.0 503.9L157.9 503.3L156.8 502.6L155.8 502.0L154.7 501.4L153.7 500.7L152.6 500.1L151.6 499.4L150.5 498.7L149.5 498.1" stroke="#ffa210" stroke-width="5.4" stroke-linecap="round" fill="none"/>
<circle cx="139.0" cy="490.3" r="3.1" fill="#ffa210"/>
<g font-family="'Liberation Serif','DejaVu Serif',serif" font-size="13" letter-spacing="1.9" fill="#00f400" stroke="#00f400" stroke-width="0.45" text-anchor="middle">
<text x="188.6" y="245.3">G13</text>
<text x="201.6" y="259.9">J196</text>
<text x="250.5" y="244.9">J193</text>
<text x="267.0" y="250.6">E30</text>
<text x="269.1" y="252.8">E20</text>
<text x="322.7" y="281.2">C16</text>
<text x="330.8" y="281.4">R04</text>
<text x="200.6" y="296.2">J195</text>
<text x="207.6" y="304.9">C61</text>
<text x="216.9" y="305.6">C01</text>
<text x="248.2" y="303.3">C04</text>
<text x="248.2" y="310.3">C32</text>
<text x="237.3" y="319.2">G11</text>
<text x="267.8" y="322.3">E29</text>
<text x="151.3" y="315.4">C35</text>
<text x="151.3" y="322.1">C03</text>
<text x="183.6" y="319.2">J199</text>
<text x="191.7" y="318.8">R09</text>
<text x="249.8" y="337.3">E19</text>
<text x="265.9" y="337.0">E36</text>
<text x="333.9" y="335.8">E26</text>
<text x="343.9" y="339.8">G14</text>
<text x="287.8" y="349.8">R15</text>
<text x="322.7" y="364.9">G22</text>
<text x="265.9" y="368.6">G06</text>
<text x="99.4" y="348.6">C60</text>
<text x="106.9" y="346.7">C02</text>
<text x="165.1" y="347.6">E23</text>
<text x="177.9" y="357.9">C38</text>
<text x="192.3" y="357.3">C39</text>
<text x="123.8" y="367.9">C10</text>
<text x="170.1" y="368.5">E01</text>
<text x="191.7" y="368.6">C46</text>
<text x="142.8" y="374.8">C07</text>
<text x="160.1" y="378.8">C40</text>
<text x="170.4" y="382.3">G15</text>
<text x="182.6" y="383.6">C06</text>
<text x="223.6" y="379.2">G29</text>
<text x="225.8" y="379.8">E24</text>
<text x="228.6" y="382.3">R16</text>
<text x="176.3" y="406.0">C09</text>
<text x="206.9" y="399.1">C45</text>
<text x="225.8" y="419.7">R18</text>
<text x="119.0" y="423.8">E18</text>
<text x="146.8" y="428.8">C58</text>
<text x="162.8" y="433.8">G12</text>
<text x="110.5" y="447.8">G25</text>
<text x="146.8" y="461.2">C26</text>
<text x="156.8" y="473.4">R05</text>
<text x="175.8" y="467.8">E04</text>
<text x="159.8" y="493.1">E06</text>
<text x="277.1" y="428.8">G19</text>
<text x="292.8" y="436.6">C30</text>
<text x="273.9" y="449.7">R17</text>
<text x="320.7" y="439.7">G17</text>
<text x="331.1" y="451.8">E13</text>
<text x="326.7" y="457.8">E27</text>
</g>
<g fill="none" stroke-width="1" shape-rendering="crispEdges">
<path d="M511.5 461.5L667.0 382.5L933.5 428.0L778.0 507.0ZM511.5 302.5V461.5M511.5 302.5h7M511.5 329.0h7M511.5 355.5h7M511.5 382.0h7M511.5 408.5h7M511.5 435.0h7M511.5 461.5h7M511.5 461.5l7.1 -3.6M667.0 382.5l-7.1 3.6M555.9 469.1l3.6 -1.8M711.4 390.1l-3.6 1.8M600.3 476.7l7.1 -3.6M755.8 397.7l-7.1 3.6M644.8 484.2l3.6 -1.8M800.2 405.2l-3.6 1.8M689.2 491.8l7.1 -3.6M844.7 412.8l-7.1 3.6M733.6 499.4l3.6 -1.8M889.1 420.4l-3.6 1.8M778.0 507.0l7.1 -3.6M933.5 428.0l-7.1 3.6M778.0 507.0l-7.9 -1.3M511.5 461.5l7.9 1.3M800.2 495.7l-7.9 -1.3M533.7 450.2l7.9 1.3M822.4 484.4l-7.9 -1.3M555.9 438.9l7.9 1.3M844.6 473.1l-7.9 -1.3M578.1 427.6l7.9 1.3M866.9 461.9l-7.9 -1.3M600.4 416.4l7.9 1.3M889.1 450.6l-7.9 -1.3M622.6 405.1l7.9 1.3M911.3 439.3l-7.9 -1.3M644.8 393.8l7.9 1.3M933.5 428.0l-7.9 -1.3M667.0 382.5l7.9 1.3" stroke="#f4f4b0"/>
</g>
<defs><clipPath id="wfc"><path d="M557.2 402.5L558.2 404.2L559.3 403.2L560.3 401.3L561.4 399.2L562.5 399.9L563.6 398.6L564.7 400.1L565.8 400.2L566.7 400.5L567.7 398.3L568.6 398.2L569.6 395.0L570.5 396.3L571.1 394.0L571.7 394.7L572.4 393.2L573.0 391.8L573.6 391.6L573.9 389.2L574.2 390.7L574.5 387.9L574.7 386.2L575.0 384.7L575.3 383.7L575.6 383.8L575.7 384.4L575.8 382.9L575.9 381.3L576.0 377.5L576.1 377.8L576.2 378.2L576.3 377.5L576.4 376.1L576.5 373.1L576.6 373.0L576.7 371.3L576.8 370.6L577.0 370.0L577.1 366.0L577.2 367.5L577.4 366.8L577.5 364.6L577.6 361.0L577.8 363.5L577.9 360.4L578.0 361.0L578.2 359.1L578.3 357.2L578.5 358.0L578.8 355.2L579.0 354.7L579.2 351.5L579.5 349.8L579.7 348.7L580.0 350.2L580.2 348.5L580.4 348.0L580.7 347.8L580.9 344.7L581.4 345.5L581.9 344.1L582.4 342.9L583.0 342.4L583.5 338.8L584.0 337.4L584.5 336.9L585.1 335.8L585.8 334.3L586.5 333.7L587.1 334.7L587.8 334.4L588.4 331.4L589.7 329.9L591.0 331.7L592.3 330.3L592.9 331.8L593.5 332.7L594.1 331.3L594.7 334.5L595.5 334.0L596.2 333.8L597.0 331.1L597.8 330.3L599.0 328.3L600.1 330.3L601.3 326.3L602.5 327.5L603.3 327.2L604.2 328.0L605.0 326.3L605.8 322.5L606.6 324.7L607.5 323.2L608.3 322.0L609.7 321.1L611.1 323.6L611.9 324.0L612.7 320.8L613.4 319.2L614.2 321.0L615.0 319.7L615.9 317.4L616.9 320.6L617.8 316.2L618.8 318.5L619.7 316.6L620.8 315.4L621.9 314.7L623.0 317.1L624.1 313.5L625.2 315.0L626.0 315.7L626.8 312.5L627.5 313.0L628.3 311.1L629.1 310.0L629.8 314.3L630.6 314.2L631.4 311.6L632.2 313.3L633.0 313.4L633.8 310.3L634.8 310.3L635.9 308.9L636.9 308.3L637.9 310.2L639.0 307.2L640.0 308.0L641.0 309.2L642.0 305.0L643.0 304.3L644.0 304.6L645.0 304.1L646.0 305.0L647.0 304.1L647.9 304.4L648.9 300.9L649.8 299.6L650.8 300.5L651.7 300.2L653.2 301.6L654.8 299.4L655.4 299.2L656.0 303.3L656.6 303.4L657.2 304.1L657.8 302.9L658.3 300.9L658.9 300.1L659.4 298.3L660.0 299.0L660.5 297.5L661.1 295.5L661.6 296.3L662.5 297.8L663.3 299.7L664.1 296.6L665.0 299.4L666.5 301.0L668.1 298.6L668.7 301.6L669.4 299.5L670.0 300.0L670.6 301.6L671.2 304.1L671.6 304.6L671.9 307.7L672.2 306.1L672.5 310.0L672.8 311.3L673.1 308.7L673.5 311.0L673.8 313.1L674.1 312.7L674.4 315.0L675.7 313.0L677.0 313.9L678.3 314.2L679.5 313.2L680.6 314.3L681.8 314.1L683.0 312.4L684.1 313.9L685.3 312.7L685.7 310.8L686.1 310.1L686.5 310.1L686.9 307.8L687.3 307.7L687.7 306.4L688.8 306.9L689.9 304.8L690.9 305.8L692.0 304.1L693.1 304.8L694.3 304.0L695.5 304.3L696.6 305.1L697.8 304.8L698.9 303.9L700.0 304.7L701.1 303.6L702.3 302.1L703.4 301.2L704.5 301.0L705.6 300.9L706.8 301.2L708.0 299.8L709.1 300.6L710.3 299.5L711.5 298.5L712.6 298.9L713.8 299.1L715.0 298.6L716.2 298.7L717.3 298.8L718.5 300.7L719.7 301.4L720.8 300.8L722.0 301.7L722.8 302.0L723.6 303.0L724.3 303.6L725.1 305.4L725.9 305.8L726.7 306.3L727.4 308.8L728.2 309.6L729.0 309.5L730.1 310.3L731.3 309.1L732.4 308.9L733.5 309.5L734.6 309.7L735.8 310.9L736.9 310.3L737.9 310.5L739.0 311.2L740.0 311.3L741.0 312.7L742.1 312.9L743.1 314.2L744.1 314.0L745.0 315.0L746.0 317.3L747.0 317.3L747.6 319.3L748.3 320.2L749.0 320.0L749.6 321.0L750.2 323.5L750.9 323.6L751.8 324.1L752.7 325.5L753.6 325.3L754.5 327.2L755.4 327.6L756.3 327.9L757.2 328.3L758.4 327.8L759.5 328.1L760.7 329.1L761.9 327.5L763.1 328.0L764.2 328.0L765.4 327.3L766.6 327.5L767.2 328.7L767.8 330.2L768.5 329.8L769.1 331.0L769.7 332.2L770.7 331.2L771.8 330.2L772.8 330.8L773.8 329.3L774.9 328.0L775.9 328.3L777.0 329.1L778.1 328.0L779.3 327.0L780.4 328.0L781.5 325.3L782.6 325.1L783.8 325.9L784.9 325.5L786.0 325.3L787.1 327.0L788.2 326.7L789.4 324.4L790.5 324.5L791.6 325.2L792.7 324.1L793.8 323.4L794.9 323.2L796.1 322.7L797.2 324.0L798.3 321.9L799.4 322.8L800.6 321.5L801.9 321.9L803.1 322.9L804.4 322.2L805.6 321.7L806.7 323.3L807.8 322.4L808.9 322.6L810.1 324.6L811.2 324.0L812.3 323.9L813.4 325.2L814.4 324.8L815.4 327.1L816.4 327.9L817.5 328.9L818.5 327.9L819.5 327.8L820.5 329.8L820.9 330.3L821.4 330.6L821.8 334.2L822.3 334.3L822.7 334.6L823.2 335.5L823.6 336.9L823.8 339.4L824.0 338.2L824.2 341.6L824.4 341.9L824.6 343.3L824.9 343.5L825.1 345.9L825.3 346.6L825.5 346.4L825.7 348.8L825.9 349.4L826.9 350.6L828.0 352.7L829.0 352.5L830.1 351.2L831.2 351.4L832.3 353.0L833.4 351.8L834.5 352.5L835.2 353.1L835.9 355.0L837.3 355.8L838.7 353.8L840.1 354.0L841.0 353.8L841.9 357.0L842.8 356.6L843.8 358.1L844.1 360.0L844.4 361.0L844.8 362.9L845.1 364.2L845.5 365.5L845.8 365.4L846.0 365.5L846.3 366.4L846.5 369.6L846.7 369.0L847.0 372.0L847.2 371.9L847.4 374.1L847.7 375.2L847.9 375.8L849.5 377.0L851.0 376.9L851.9 375.5L852.7 375.5L853.6 374.3L854.2 375.1L854.9 377.4L855.5 379.0L856.2 379.6L856.8 380.0L857.8 380.2L858.9 380.8L859.9 382.1L860.8 380.8L861.6 381.2L862.5 380.0L862.6 380.0L862.6 383.2L862.7 383.1L862.7 386.1L862.8 386.2L860.4 388.9L859.2 389.5L858.0 389.0L856.8 388.3L856.1 389.0L855.5 389.4L854.9 392.5L854.2 392.5L853.5 395.4L852.8 394.1L852.1 395.6L850.5 396.7L849.0 394.6L847.9 397.4L846.9 396.2L845.8 396.7L845.4 400.1L845.0 401.6L844.6 400.8L844.1 398.0L843.7 398.2L843.2 395.6L842.7 396.7L841.2 397.1L839.6 396.7L838.5 396.0L837.5 395.0L836.5 393.6L835.4 394.6L834.4 395.7L833.3 393.8L832.3 391.5L831.9 391.9L831.6 388.7L831.2 389.1L830.9 385.7L830.6 383.6L830.2 384.2L829.8 382.8L829.5 384.0L829.1 382.7L828.7 378.2L828.3 376.9L828.0 374.9L827.6 375.8L827.1 374.9L826.5 372.3L826.0 372.6L825.5 371.1L825.0 370.7L824.5 374.1L823.9 373.0L823.4 375.8L823.2 375.5L823.1 374.0L822.9 373.8L822.7 370.3L822.6 368.9L822.4 368.5L822.0 369.2L821.6 370.4L821.2 372.9L820.8 373.8L819.8 374.1L818.8 371.7L817.7 371.0L816.7 372.7L816.3 371.6L815.9 372.7L815.4 375.2L815.0 375.8L814.6 377.9L813.8 378.4L813.0 382.0L812.3 382.7L811.5 382.1L810.9 379.0L810.2 380.6L809.6 379.2L808.9 379.8L808.3 376.9L807.3 379.0L806.2 378.8L805.2 380.0L804.8 381.4L804.5 384.2L804.1 381.8L803.7 383.2L803.3 387.1L803.0 386.6L802.6 387.3L801.7 387.2L800.9 386.5L800.0 385.2L798.9 387.1L797.8 386.0L796.7 386.7L795.6 386.2L794.5 386.6L793.4 385.3L792.3 385.9L791.1 384.7L790.0 387.7L788.9 389.0L787.8 387.0L786.9 386.9L786.0 390.4L785.1 389.2L784.3 389.4L783.4 389.9L782.5 393.1L781.6 391.7L780.6 392.7L779.7 392.0L778.7 387.3L777.7 388.6L776.9 389.3L776.1 392.3L775.3 390.0L774.5 394.3L773.8 393.3L772.6 394.6L771.4 392.8L770.3 396.1L769.1 394.8L768.0 394.2L767.0 394.4L766.0 396.5L764.9 398.4L763.8 396.1L762.8 397.2L761.8 397.3L760.7 399.9L759.7 399.5L758.7 400.8L757.6 400.1L756.6 401.9L755.3 400.7L754.0 401.1L752.7 403.4L752.2 405.3L751.8 406.6L751.3 407.4L750.9 407.3L750.4 408.5L750.0 409.3L749.5 411.2L749.3 413.1L749.2 412.3L749.0 413.1L748.8 414.2L748.7 416.4L748.5 419.9L748.4 417.2L748.2 420.5L748.0 422.0L747.9 421.8L747.7 421.5L747.5 425.9L747.4 424.7L747.2 426.9L747.1 429.8L747.0 428.7L746.9 430.9L746.7 432.2L746.6 431.9L746.5 433.9L746.4 432.9L746.3 436.8L746.2 437.5L746.1 438.4L745.9 437.4L745.8 440.6L745.7 439.6L745.6 442.5L745.0 442.1L744.4 443.2L743.7 447.4L743.1 449.1L742.5 448.0L741.5 449.4L740.4 447.9L739.4 450.2L738.3 447.6L737.3 451.4L736.2 450.3L735.3 452.6L734.4 449.5L733.5 454.2L732.5 453.2L731.6 453.4L730.8 453.2L730.0 456.1L729.2 455.3L728.5 455.2L727.7 457.7L726.9 458.1L726.1 460.6L725.3 459.2L724.6 461.0L723.8 459.2L723.0 462.0L721.7 461.6L720.4 462.3L719.1 463.6L718.0 462.2L717.0 466.0L715.9 465.9L715.7 465.2L715.4 462.2L715.2 461.2L715.0 459.7L714.8 459.1L714.5 458.4L714.3 457.3L714.1 456.7L713.8 455.8L713.6 455.0L713.4 452.3L713.2 453.2L712.9 453.0L712.7 452.0L712.5 450.8L712.3 449.3L712.0 448.3L711.8 446.6L711.6 443.5L711.4 445.0L711.2 444.5L710.9 443.5L710.7 441.5L710.5 439.4L710.1 437.8L709.8 438.1L709.4 437.2L709.1 434.6L708.7 433.4L708.4 434.4L708.0 431.2L707.7 431.8L707.3 429.2L706.4 429.6L705.5 428.4L704.7 430.7L703.8 432.7L702.9 431.1L702.0 433.0L701.2 435.4L700.3 434.7L699.9 436.4L699.5 439.1L699.1 438.7L698.8 440.0L698.4 442.0L698.0 440.9L697.6 442.3L697.2 444.1L696.9 443.5L696.6 443.5L696.4 441.4L696.1 440.2L695.8 437.3L695.5 439.8L695.2 437.9L694.9 434.8L694.7 436.1L694.4 434.1L694.1 432.3L692.5 433.3L690.9 431.6L690.2 433.3L689.6 432.3L688.9 432.8L688.2 434.4L687.6 436.8L686.9 438.6L686.2 437.8L685.8 438.3L685.3 441.4L684.8 442.1L684.3 444.2L683.8 442.1L683.3 444.1L682.9 444.1L682.4 447.0L681.9 448.9L681.4 448.8L680.1 450.6L678.8 449.2L677.5 450.3L677.2 452.0L676.8 450.5L676.5 452.1L676.1 455.2L675.8 454.0L675.4 458.1L675.1 460.4L674.7 457.9L674.4 460.5L673.9 460.9L673.5 459.9L673.0 458.2L672.6 456.2L672.1 454.4L671.7 453.9L671.2 453.4L670.3 452.4L669.3 451.4L668.3 449.8L667.3 450.3L666.1 452.7L665.0 450.3L663.9 451.3L662.7 452.7L662.1 449.5L661.6 452.3L661.0 448.7L660.4 450.3L659.9 448.0L659.3 447.2L658.8 445.6L657.6 444.5L656.4 444.8L655.9 445.4L655.4 448.6L654.9 449.5L654.5 450.7L654.0 451.0L653.5 450.9L653.0 451.8L652.5 453.4L652.2 450.4L651.9 449.0L651.7 450.6L651.4 449.7L651.1 446.8L650.8 447.7L650.5 443.5L650.2 446.4L650.0 441.8L649.7 443.8L649.4 440.9L648.9 441.2L648.5 437.3L648.0 437.1L647.6 436.0L647.1 434.4L646.7 432.6L646.2 433.1L645.7 431.8L645.1 429.6L644.5 429.8L643.9 429.8L643.3 426.3L642.8 427.7L642.2 425.7L641.6 425.3L641.1 424.0L640.6 421.4L640.1 423.3L639.6 420.7L639.1 419.3L638.6 420.1L638.1 418.0L637.2 417.9L636.4 420.0L635.5 422.5L634.6 423.3L633.8 422.2L632.6 420.6L631.4 421.5L630.3 421.9L629.1 423.0L628.6 420.7L628.2 419.3L627.7 418.6L627.3 419.5L626.8 416.7L626.4 418.6L625.9 415.9L625.1 416.5L624.3 417.9L623.6 416.1L622.8 421.1L622.0 419.8L621.0 420.7L619.9 418.0L618.9 418.3L618.4 417.5L617.8 419.7L617.3 422.2L616.1 420.4L614.8 421.6L613.6 421.7L612.3 423.8L611.1 423.8L610.1 426.5L609.2 424.3L608.2 425.2L607.2 426.9L606.3 428.2L605.3 427.2L604.4 426.7L603.4 428.1L602.5 430.0L601.7 430.1L601.0 433.3L600.2 433.1L599.4 435.4L598.6 435.2L597.8 437.0L597.0 437.6L596.2 437.0L595.1 435.0L593.9 434.7L592.6 433.2L591.3 435.0L590.0 433.9L589.4 433.2L588.7 434.1L588.0 437.2L587.4 439.7L586.8 440.6L586.1 439.4L585.1 438.3L584.0 437.7L583.0 437.8L582.2 434.7L581.4 437.5L580.6 435.6L579.8 433.9L579.0 433.4L578.2 435.1L577.5 438.0L576.7 437.8L576.1 435.9L575.5 437.5L574.8 436.1L574.2 433.3L573.6 433.1L572.4 434.1L571.2 434.7L570.9 433.7L570.5 438.4L570.1 439.7L569.7 437.3L569.3 438.8L568.9 440.9L568.5 440.5L568.0 436.7L567.6 435.8L567.1 435.7L566.7 436.5L566.2 432.8L565.8 433.1L565.6 433.3L565.3 428.9L565.1 431.6L564.8 430.6L564.6 427.4L564.4 426.1L564.1 424.3L563.9 422.5L563.7 424.6L563.4 423.5L563.2 422.4L562.9 421.8L562.7 419.0L562.3 418.5L561.9 415.7L561.5 413.9L561.1 415.8L560.7 413.9L560.3 412.3L559.9 409.8L559.5 409.7L559.1 410.1L558.7 409.0L558.4 405.9L558.0 407.6L557.6 402.3L557.2 403.4Z"/></clipPath>
<linearGradient id="w0" gradientUnits="userSpaceOnUse" x1="0" y1="396.0" x2="0" y2="409.0"><stop offset="0.000" stop-color="#abd5ec"/><stop offset="0.500" stop-color="#abd5ec"/><stop offset="1.000" stop-color="#8bbce1"/></linearGradient><linearGradient id="w1" gradientUnits="userSpaceOnUse" x1="0" y1="397.9" x2="0" y2="411.6"><stop offset="0.000" stop-color="#a3cde4"/><stop offset="0.500" stop-color="#7badd6"/><stop offset="1.000" stop-color="#679cce"/></linearGradient><linearGradient id="w2" gradientUnits="userSpaceOnUse" x1="0" y1="397.1" x2="0" y2="418.8"><stop offset="0.000" stop-color="#9fc9e2"/><stop offset="0.333" stop-color="#81b2d7"/><stop offset="0.667" stop-color="#669bcd"/><stop offset="1.000" stop-color="#659acc"/></linearGradient><linearGradient id="w3" gradientUnits="userSpaceOnUse" x1="0" y1="396.6" x2="0" y2="427.8"><stop offset="0.000" stop-color="#a1cce3"/><stop offset="0.200" stop-color="#97c3e0"/><stop offset="0.400" stop-color="#76a9d4"/><stop offset="0.600" stop-color="#679cce"/><stop offset="0.800" stop-color="#659acd"/><stop offset="1.000" stop-color="#6196cb"/></linearGradient><linearGradient id="w4" gradientUnits="userSpaceOnUse" x1="0" y1="395.8" x2="0" y2="438.2"><stop offset="0.000" stop-color="#9ecbe6"/><stop offset="0.143" stop-color="#8ebde0"/><stop offset="0.286" stop-color="#74a8d6"/><stop offset="0.429" stop-color="#6ca1d3"/><stop offset="0.571" stop-color="#689dd1"/><stop offset="0.714" stop-color="#6297ce"/><stop offset="0.857" stop-color="#6297ce"/><stop offset="1.000" stop-color="#6297ce"/></linearGradient><linearGradient id="w5" gradientUnits="userSpaceOnUse" x1="0" y1="393.8" x2="0" y2="444.5"><stop offset="0.000" stop-color="#a2cce3"/><stop offset="0.111" stop-color="#8cbbdc"/><stop offset="0.222" stop-color="#7fb1d7"/><stop offset="0.333" stop-color="#6b9fcf"/><stop offset="0.444" stop-color="#669bcd"/><stop offset="0.556" stop-color="#6196ca"/><stop offset="0.667" stop-color="#588dc6"/><stop offset="0.778" stop-color="#588dc6"/><stop offset="0.889" stop-color="#588dc6"/><stop offset="1.000" stop-color="#588dc6"/></linearGradient><linearGradient id="w6" gradientUnits="userSpaceOnUse" x1="0" y1="391.2" x2="0" y2="438.7"><stop offset="0.000" stop-color="#a8d2ea"/><stop offset="0.125" stop-color="#92c1e2"/><stop offset="0.250" stop-color="#86b8de"/><stop offset="0.375" stop-color="#71a6d6"/><stop offset="0.500" stop-color="#6da2d4"/><stop offset="0.625" stop-color="#669bd0"/><stop offset="0.750" stop-color="#5d92cb"/><stop offset="0.875" stop-color="#5d92cb"/><stop offset="1.000" stop-color="#5d92cb"/></linearGradient><linearGradient id="w7" gradientUnits="userSpaceOnUse" x1="0" y1="387.0" x2="0" y2="437.3"><stop offset="0.000" stop-color="#a4cee6"/><stop offset="0.111" stop-color="#95c3e1"/><stop offset="0.222" stop-color="#85b6db"/><stop offset="0.333" stop-color="#76a9d5"/><stop offset="0.444" stop-color="#699ed0"/><stop offset="0.556" stop-color="#689dcf"/><stop offset="0.667" stop-color="#5e93ca"/><stop offset="0.778" stop-color="#598ec7"/><stop offset="0.889" stop-color="#598ec7"/><stop offset="1.000" stop-color="#598ec7"/></linearGradient><linearGradient id="w8" gradientUnits="userSpaceOnUse" x1="0" y1="372.4" x2="0" y2="441.1"><stop offset="0.000" stop-color="#bbddee"/><stop offset="0.083" stop-color="#b7daed"/><stop offset="0.167" stop-color="#aad3ea"/><stop offset="0.250" stop-color="#a9d3ea"/><stop offset="0.333" stop-color="#9bc8e5"/><stop offset="0.417" stop-color="#89badf"/><stop offset="0.500" stop-color="#80b2db"/><stop offset="0.583" stop-color="#6ea3d4"/><stop offset="0.667" stop-color="#6da2d4"/><stop offset="0.750" stop-color="#659acf"/><stop offset="0.833" stop-color="#5d92cb"/><stop offset="0.917" stop-color="#5d92cb"/><stop offset="1.000" stop-color="#5d92cb"/></linearGradient><linearGradient id="w9" gradientUnits="userSpaceOnUse" x1="0" y1="351.0" x2="0" y2="439.2"><stop offset="0.000" stop-color="#eceacf"/><stop offset="0.062" stop-color="#dfece9"/><stop offset="0.125" stop-color="#d8ecf6"/><stop offset="0.188" stop-color="#cce6f3"/><stop offset="0.250" stop-color="#c3e2f0"/><stop offset="0.312" stop-color="#c0e0ef"/><stop offset="0.375" stop-color="#b0d7eb"/><stop offset="0.438" stop-color="#a9d3ea"/><stop offset="0.500" stop-color="#9fcbe6"/><stop offset="0.562" stop-color="#8bbbe0"/><stop offset="0.625" stop-color="#89badf"/><stop offset="0.688" stop-color="#79acd8"/><stop offset="0.750" stop-color="#6da2d4"/><stop offset="0.812" stop-color="#6ca1d4"/><stop offset="0.875" stop-color="#6398ce"/><stop offset="0.938" stop-color="#5d92cb"/><stop offset="1.000" stop-color="#5d92cb"/></linearGradient><linearGradient id="w10" gradientUnits="userSpaceOnUse" x1="0" y1="339.9" x2="0" y2="439.7"><stop offset="0.000" stop-color="#f6eecb"/><stop offset="0.056" stop-color="#f6eecb"/><stop offset="0.111" stop-color="#f5eecd"/><stop offset="0.167" stop-color="#eaefe3"/><stop offset="0.222" stop-color="#deeff6"/><stop offset="0.278" stop-color="#d4eaf5"/><stop offset="0.333" stop-color="#c7e4f1"/><stop offset="0.389" stop-color="#c6e3f1"/><stop offset="0.444" stop-color="#b8dbed"/><stop offset="0.500" stop-color="#a9d3ea"/><stop offset="0.556" stop-color="#a8d2e9"/><stop offset="0.611" stop-color="#94c2e3"/><stop offset="0.667" stop-color="#89badf"/><stop offset="0.722" stop-color="#82b4dc"/><stop offset="0.778" stop-color="#72a6d6"/><stop offset="0.833" stop-color="#6da2d4"/><stop offset="0.889" stop-color="#699ed1"/><stop offset="0.944" stop-color="#5e93cb"/><stop offset="1.000" stop-color="#5d92cb"/></linearGradient><linearGradient id="w11" gradientUnits="userSpaceOnUse" x1="0" y1="334.5" x2="0" y2="442.2"><stop offset="0.000" stop-color="#f5edca"/><stop offset="0.053" stop-color="#f5edca"/><stop offset="0.105" stop-color="#f4eecc"/><stop offset="0.158" stop-color="#f1efd2"/><stop offset="0.211" stop-color="#e3efeb"/><stop offset="0.263" stop-color="#d6ebf3"/><stop offset="0.316" stop-color="#c8e4f1"/><stop offset="0.368" stop-color="#c3e1ef"/><stop offset="0.421" stop-color="#b3d8ec"/><stop offset="0.474" stop-color="#a8d2e9"/><stop offset="0.526" stop-color="#9ecae6"/><stop offset="0.579" stop-color="#8abadf"/><stop offset="0.632" stop-color="#88b9de"/><stop offset="0.684" stop-color="#79acd8"/><stop offset="0.737" stop-color="#6ca1d3"/><stop offset="0.789" stop-color="#6ca1d3"/><stop offset="0.842" stop-color="#6297cd"/><stop offset="0.895" stop-color="#5c91ca"/><stop offset="0.947" stop-color="#5c91ca"/><stop offset="1.000" stop-color="#5c91ca"/></linearGradient><linearGradient id="w12" gradientUnits="userSpaceOnUse" x1="0" y1="330.4" x2="0" y2="443.2"><stop offset="0.000" stop-color="#f8f0cd"/><stop offset="0.050" stop-color="#f8f0cd"/><stop offset="0.100" stop-color="#f8f0cd"/><stop offset="0.150" stop-color="#f5f1d3"/><stop offset="0.200" stop-color="#f0f3de"/><stop offset="0.250" stop-color="#e2f1ef"/><stop offset="0.300" stop-color="#d0e9f4"/><stop offset="0.350" stop-color="#c9e6f3"/><stop offset="0.400" stop-color="#c1e1f1"/><stop offset="0.450" stop-color="#afd7ed"/><stop offset="0.500" stop-color="#abd5ec"/><stop offset="0.550" stop-color="#9bc8e6"/><stop offset="0.600" stop-color="#8bbce1"/><stop offset="0.650" stop-color="#89bae0"/><stop offset="0.700" stop-color="#79acda"/><stop offset="0.750" stop-color="#6fa4d6"/><stop offset="0.800" stop-color="#6ea3d5"/><stop offset="0.850" stop-color="#6297cf"/><stop offset="0.900" stop-color="#5f94cd"/><stop offset="0.950" stop-color="#5f94cd"/><stop offset="1.000" stop-color="#5f94cd"/></linearGradient><linearGradient id="w13" gradientUnits="userSpaceOnUse" x1="0" y1="327.3" x2="0" y2="439.7"><stop offset="0.000" stop-color="#f3ebc8"/><stop offset="0.050" stop-color="#f3ebc8"/><stop offset="0.100" stop-color="#f3ebc8"/><stop offset="0.150" stop-color="#f2ebc9"/><stop offset="0.200" stop-color="#eceed7"/><stop offset="0.250" stop-color="#e8efdf"/><stop offset="0.300" stop-color="#d2e7ea"/><stop offset="0.350" stop-color="#c5e1ee"/><stop offset="0.400" stop-color="#bfdeed"/><stop offset="0.450" stop-color="#aed4e9"/><stop offset="0.500" stop-color="#a6d0e7"/><stop offset="0.550" stop-color="#9bc7e3"/><stop offset="0.600" stop-color="#86b7dc"/><stop offset="0.650" stop-color="#86b7dc"/><stop offset="0.700" stop-color="#78abd6"/><stop offset="0.750" stop-color="#6a9fd1"/><stop offset="0.800" stop-color="#6a9fd1"/><stop offset="0.850" stop-color="#6196cc"/><stop offset="0.900" stop-color="#5a8fc8"/><stop offset="0.950" stop-color="#5a8fc8"/><stop offset="1.000" stop-color="#5a8fc8"/></linearGradient><linearGradient id="w14" gradientUnits="userSpaceOnUse" x1="0" y1="326.6" x2="0" y2="438.2"><stop offset="0.000" stop-color="#f6eecb"/><stop offset="0.050" stop-color="#f6eecb"/><stop offset="0.100" stop-color="#f6eecb"/><stop offset="0.150" stop-color="#f6eecc"/><stop offset="0.200" stop-color="#eff1d9"/><stop offset="0.250" stop-color="#ecf3e1"/><stop offset="0.300" stop-color="#dfeee7"/><stop offset="0.350" stop-color="#c9e5f0"/><stop offset="0.400" stop-color="#c7e4f1"/><stop offset="0.450" stop-color="#bedfef"/><stop offset="0.500" stop-color="#aed6eb"/><stop offset="0.550" stop-color="#a9d3ea"/><stop offset="0.600" stop-color="#a1cde7"/><stop offset="0.650" stop-color="#8fbee1"/><stop offset="0.700" stop-color="#89badf"/><stop offset="0.750" stop-color="#81b3dc"/><stop offset="0.800" stop-color="#72a6d6"/><stop offset="0.850" stop-color="#6da2d4"/><stop offset="0.900" stop-color="#699ed2"/><stop offset="0.950" stop-color="#5f94cc"/><stop offset="1.000" stop-color="#5f94cc"/></linearGradient><linearGradient id="w15" gradientUnits="userSpaceOnUse" x1="0" y1="328.8" x2="0" y2="438.7"><stop offset="0.000" stop-color="#f5edca"/><stop offset="0.053" stop-color="#f5edca"/><stop offset="0.105" stop-color="#f5edca"/><stop offset="0.158" stop-color="#f0efd3"/><stop offset="0.211" stop-color="#ebf1df"/><stop offset="0.263" stop-color="#e5efe2"/><stop offset="0.316" stop-color="#cee6ec"/><stop offset="0.368" stop-color="#c6e3f0"/><stop offset="0.421" stop-color="#c1e0ee"/><stop offset="0.474" stop-color="#b1d7eb"/><stop offset="0.526" stop-color="#a8d2e9"/><stop offset="0.579" stop-color="#a4cfe7"/><stop offset="0.632" stop-color="#92c1e1"/><stop offset="0.684" stop-color="#88b9de"/><stop offset="0.737" stop-color="#83b5dc"/><stop offset="0.789" stop-color="#74a8d6"/><stop offset="0.842" stop-color="#6ca1d3"/><stop offset="0.895" stop-color="#699ed1"/><stop offset="0.947" stop-color="#6297cd"/><stop offset="1.000" stop-color="#6297cd"/></linearGradient><linearGradient id="w16" gradientUnits="userSpaceOnUse" x1="0" y1="328.4" x2="0" y2="441.0"><stop offset="0.000" stop-color="#f3ebc8"/><stop offset="0.050" stop-color="#f3ebc8"/><stop offset="0.100" stop-color="#f3ebc8"/><stop offset="0.150" stop-color="#efedd0"/><stop offset="0.200" stop-color="#e9f0dd"/><stop offset="0.250" stop-color="#e2ede1"/><stop offset="0.300" stop-color="#cae3eb"/><stop offset="0.350" stop-color="#c4e1ee"/><stop offset="0.400" stop-color="#bbdcec"/><stop offset="0.450" stop-color="#abd3e8"/><stop offset="0.500" stop-color="#a6d0e7"/><stop offset="0.550" stop-color="#9cc8e4"/><stop offset="0.600" stop-color="#8abadd"/><stop offset="0.650" stop-color="#86b7dc"/><stop offset="0.700" stop-color="#7eb1d9"/><stop offset="0.750" stop-color="#70a4d3"/><stop offset="0.800" stop-color="#6a9fd1"/><stop offset="0.850" stop-color="#679ccf"/><stop offset="0.900" stop-color="#6499cd"/><stop offset="0.950" stop-color="#6499cd"/><stop offset="1.000" stop-color="#6499cd"/></linearGradient><linearGradient id="w17" gradientUnits="userSpaceOnUse" x1="0" y1="325.7" x2="0" y2="438.5"><stop offset="0.000" stop-color="#efe7c4"/><stop offset="0.050" stop-color="#efe7c4"/><stop offset="0.100" stop-color="#efe7c4"/><stop offset="0.150" stop-color="#ede8c7"/><stop offset="0.200" stop-color="#e6ebd7"/><stop offset="0.250" stop-color="#e3ebdb"/><stop offset="0.300" stop-color="#cae1e5"/><stop offset="0.350" stop-color="#c0ddea"/><stop offset="0.400" stop-color="#b8d8e8"/><stop offset="0.450" stop-color="#a6cee4"/><stop offset="0.500" stop-color="#a2cce3"/><stop offset="0.550" stop-color="#96c3df"/><stop offset="0.600" stop-color="#83b4d8"/><stop offset="0.650" stop-color="#82b3d8"/><stop offset="0.700" stop-color="#78abd4"/><stop offset="0.750" stop-color="#6b9fcf"/><stop offset="0.800" stop-color="#669bcd"/><stop offset="0.850" stop-color="#659acc"/><stop offset="0.900" stop-color="#6499cc"/><stop offset="0.950" stop-color="#6499cc"/><stop offset="1.000" stop-color="#6499cc"/></linearGradient><linearGradient id="w18" gradientUnits="userSpaceOnUse" x1="0" y1="324.2" x2="0" y2="435.7"><stop offset="0.000" stop-color="#f0e8c5"/><stop offset="0.050" stop-color="#f0e8c5"/><stop offset="0.100" stop-color="#f0e8c5"/><stop offset="0.150" stop-color="#efe8c6"/><stop offset="0.200" stop-color="#e9ebd3"/><stop offset="0.250" stop-color="#e6eddb"/><stop offset="0.300" stop-color="#dae8df"/><stop offset="0.350" stop-color="#c5dfe9"/><stop offset="0.400" stop-color="#c1deeb"/><stop offset="0.450" stop-color="#badae9"/><stop offset="0.500" stop-color="#acd2e6"/><stop offset="0.550" stop-color="#a3cde4"/><stop offset="0.600" stop-color="#a3cde4"/><stop offset="0.650" stop-color="#93c0de"/><stop offset="0.700" stop-color="#83b4d9"/><stop offset="0.750" stop-color="#83b4d9"/><stop offset="0.800" stop-color="#78abd5"/><stop offset="0.850" stop-color="#6b9fcf"/><stop offset="0.900" stop-color="#679cce"/><stop offset="0.950" stop-color="#679cce"/><stop offset="1.000" stop-color="#679cce"/></linearGradient><linearGradient id="w19" gradientUnits="userSpaceOnUse" x1="0" y1="322.3" x2="0" y2="433.2"><stop offset="0.000" stop-color="#f2eac7"/><stop offset="0.050" stop-color="#f2eac7"/><stop offset="0.100" stop-color="#f2eac7"/><stop offset="0.150" stop-color="#f1eac8"/><stop offset="0.200" stop-color="#edecd2"/><stop offset="0.250" stop-color="#e8efdd"/><stop offset="0.300" stop-color="#e5eede"/><stop offset="0.350" stop-color="#d1e6e7"/><stop offset="0.400" stop-color="#c3e0ed"/><stop offset="0.450" stop-color="#c3e0ed"/><stop offset="0.500" stop-color="#b9daeb"/><stop offset="0.550" stop-color="#acd3e7"/><stop offset="0.600" stop-color="#a5cfe6"/><stop offset="0.650" stop-color="#a5cfe6"/><stop offset="0.700" stop-color="#95c2e0"/><stop offset="0.750" stop-color="#85b6db"/><stop offset="0.800" stop-color="#85b6db"/><stop offset="0.850" stop-color="#7aacd7"/><stop offset="0.900" stop-color="#6ca0d1"/><stop offset="0.950" stop-color="#699ed0"/><stop offset="1.000" stop-color="#699ed0"/></linearGradient><linearGradient id="w20" gradientUnits="userSpaceOnUse" x1="0" y1="319.9" x2="0" y2="431.5"><stop offset="0.000" stop-color="#f4ecc9"/><stop offset="0.050" stop-color="#f4ecc9"/><stop offset="0.100" stop-color="#f4ecc9"/><stop offset="0.150" stop-color="#f4ecc9"/><stop offset="0.200" stop-color="#f0edd0"/><stop offset="0.250" stop-color="#eaf0dd"/><stop offset="0.300" stop-color="#e8f0df"/><stop offset="0.350" stop-color="#d5e8e7"/><stop offset="0.400" stop-color="#c5e2ef"/><stop offset="0.450" stop-color="#c5e2ef"/><stop offset="0.500" stop-color="#badcec"/><stop offset="0.550" stop-color="#acd3e9"/><stop offset="0.600" stop-color="#a7d1e8"/><stop offset="0.650" stop-color="#a2cde6"/><stop offset="0.700" stop-color="#92c0e1"/><stop offset="0.750" stop-color="#87b8dd"/><stop offset="0.800" stop-color="#86b7dc"/><stop offset="0.850" stop-color="#76aad6"/><stop offset="0.900" stop-color="#6ba0d2"/><stop offset="0.950" stop-color="#6ba0d2"/><stop offset="1.000" stop-color="#6ba0d2"/></linearGradient><linearGradient id="w21" gradientUnits="userSpaceOnUse" x1="0" y1="318.3" x2="0" y2="429.6"><stop offset="0.000" stop-color="#f7efcc"/><stop offset="0.050" stop-color="#f7efcc"/><stop offset="0.100" stop-color="#f7efcc"/><stop offset="0.150" stop-color="#f7efcc"/><stop offset="0.200" stop-color="#f5f1d3"/><stop offset="0.250" stop-color="#eff4df"/><stop offset="0.300" stop-color="#edf4e2"/><stop offset="0.350" stop-color="#dbedea"/><stop offset="0.400" stop-color="#c9e6f2"/><stop offset="0.450" stop-color="#c8e5f2"/><stop offset="0.500" stop-color="#bedff0"/><stop offset="0.550" stop-color="#afd7ec"/><stop offset="0.600" stop-color="#aad4eb"/><stop offset="0.650" stop-color="#a3cfe9"/><stop offset="0.700" stop-color="#93c2e3"/><stop offset="0.750" stop-color="#8abbe0"/><stop offset="0.800" stop-color="#87b8df"/><stop offset="0.850" stop-color="#76aad8"/><stop offset="0.900" stop-color="#6ea3d5"/><stop offset="0.950" stop-color="#6ea3d5"/><stop offset="1.000" stop-color="#6ea3d5"/></linearGradient><linearGradient id="w22" gradientUnits="userSpaceOnUse" x1="0" y1="319.5" x2="0" y2="427.7"><stop offset="0.000" stop-color="#f1e9c6"/><stop offset="0.053" stop-color="#f1e9c6"/><stop offset="0.105" stop-color="#efeacb"/><stop offset="0.158" stop-color="#efeacb"/><stop offset="0.211" stop-color="#edebcf"/><stop offset="0.263" stop-color="#e9edd8"/><stop offset="0.316" stop-color="#e4ebda"/><stop offset="0.368" stop-color="#d0e4e6"/><stop offset="0.421" stop-color="#c7e1ea"/><stop offset="0.474" stop-color="#c3dfeb"/><stop offset="0.526" stop-color="#b5d8e9"/><stop offset="0.579" stop-color="#aad2e7"/><stop offset="0.632" stop-color="#a8d0e6"/><stop offset="0.684" stop-color="#99c4e1"/><stop offset="0.737" stop-color="#8bbadc"/><stop offset="0.789" stop-color="#88b9dc"/><stop offset="0.842" stop-color="#7aadd6"/><stop offset="0.895" stop-color="#70a4d2"/><stop offset="0.947" stop-color="#70a4d2"/><stop offset="1.000" stop-color="#70a4d2"/></linearGradient><linearGradient id="w23" gradientUnits="userSpaceOnUse" x1="0" y1="316.9" x2="0" y2="427.1"><stop offset="0.000" stop-color="#f5edca"/><stop offset="0.050" stop-color="#f5edca"/><stop offset="0.100" stop-color="#f2edcf"/><stop offset="0.150" stop-color="#ecedda"/><stop offset="0.200" stop-color="#f0edd2"/><stop offset="0.250" stop-color="#f2edcd"/><stop offset="0.300" stop-color="#f0eed1"/><stop offset="0.350" stop-color="#eaecd6"/><stop offset="0.400" stop-color="#dbe9e3"/><stop offset="0.450" stop-color="#d3e8ea"/><stop offset="0.500" stop-color="#d1e8ed"/><stop offset="0.550" stop-color="#c7e3f0"/><stop offset="0.600" stop-color="#bedeee"/><stop offset="0.650" stop-color="#b8daed"/><stop offset="0.700" stop-color="#b0d6ea"/><stop offset="0.750" stop-color="#a6cee7"/><stop offset="0.800" stop-color="#99c5e3"/><stop offset="0.850" stop-color="#94c2e2"/><stop offset="0.900" stop-color="#89b9de"/><stop offset="0.950" stop-color="#82b3db"/><stop offset="1.000" stop-color="#82b3db"/></linearGradient><linearGradient id="w24" gradientUnits="userSpaceOnUse" x1="0" y1="314.9" x2="0" y2="426.5"><stop offset="0.000" stop-color="#efe7c4"/><stop offset="0.050" stop-color="#efe7c4"/><stop offset="0.100" stop-color="#efe7c4"/><stop offset="0.150" stop-color="#e1e8de"/><stop offset="0.200" stop-color="#e5e7d5"/><stop offset="0.250" stop-color="#eee5c2"/><stop offset="0.300" stop-color="#eee5c2"/><stop offset="0.350" stop-color="#ece5c4"/><stop offset="0.400" stop-color="#e0e5d3"/><stop offset="0.450" stop-color="#d7e6e0"/><stop offset="0.500" stop-color="#d4e5e4"/><stop offset="0.550" stop-color="#cae2ed"/><stop offset="0.600" stop-color="#c5dfec"/><stop offset="0.650" stop-color="#bddae9"/><stop offset="0.700" stop-color="#b3d5e6"/><stop offset="0.750" stop-color="#add0e4"/><stop offset="0.800" stop-color="#9fc8e1"/><stop offset="0.850" stop-color="#95c2de"/><stop offset="0.900" stop-color="#8fbddc"/><stop offset="0.950" stop-color="#8bb9da"/><stop offset="1.000" stop-color="#8bb9da"/></linearGradient><linearGradient id="w25" gradientUnits="userSpaceOnUse" x1="0" y1="313.2" x2="0" y2="422.7"><stop offset="0.000" stop-color="#f4ecc9"/><stop offset="0.053" stop-color="#f4ecc9"/><stop offset="0.105" stop-color="#f4ecc9"/><stop offset="0.158" stop-color="#e5ede7"/><stop offset="0.211" stop-color="#e4ede7"/><stop offset="0.263" stop-color="#f3e9c7"/><stop offset="0.316" stop-color="#f7e8be"/><stop offset="0.368" stop-color="#f6e9c0"/><stop offset="0.421" stop-color="#ebedd6"/><stop offset="0.474" stop-color="#e5efe1"/><stop offset="0.526" stop-color="#deeded"/><stop offset="0.579" stop-color="#d8ebf5"/><stop offset="0.632" stop-color="#d1e8f3"/><stop offset="0.684" stop-color="#c3e1ef"/><stop offset="0.737" stop-color="#bfdeed"/><stop offset="0.789" stop-color="#b2d6ea"/><stop offset="0.842" stop-color="#a3cee7"/><stop offset="0.895" stop-color="#a1cce6"/><stop offset="0.947" stop-color="#a0cbe5"/><stop offset="1.000" stop-color="#a0cbe5"/></linearGradient><linearGradient id="w26" gradientUnits="userSpaceOnUse" x1="0" y1="312.1" x2="0" y2="423.4"><stop offset="0.000" stop-color="#f7efcc"/><stop offset="0.050" stop-color="#f7efcc"/><stop offset="0.100" stop-color="#f7efcc"/><stop offset="0.150" stop-color="#ebf0e3"/><stop offset="0.200" stop-color="#e0f0f7"/><stop offset="0.250" stop-color="#f0ecd4"/><stop offset="0.300" stop-color="#fceabc"/><stop offset="0.350" stop-color="#fceabc"/><stop offset="0.400" stop-color="#f8ecc5"/><stop offset="0.450" stop-color="#f0f1d8"/><stop offset="0.500" stop-color="#edf4e2"/><stop offset="0.550" stop-color="#e6f2ed"/><stop offset="0.600" stop-color="#e0f1f8"/><stop offset="0.650" stop-color="#dff0f8"/><stop offset="0.700" stop-color="#d3eaf5"/><stop offset="0.750" stop-color="#c8e5f2"/><stop offset="0.800" stop-color="#c6e4f1"/><stop offset="0.850" stop-color="#b7dbee"/><stop offset="0.900" stop-color="#aad4eb"/><stop offset="0.950" stop-color="#aad4eb"/><stop offset="1.000" stop-color="#aad4eb"/></linearGradient><linearGradient id="w27" gradientUnits="userSpaceOnUse" x1="0" y1="311.4" x2="0" y2="422.1"><stop offset="0.000" stop-color="#f3ebc8"/><stop offset="0.050" stop-color="#f3ebc8"/><stop offset="0.100" stop-color="#f3ebc8"/><stop offset="0.150" stop-color="#e8ebdd"/><stop offset="0.200" stop-color="#ddecf2"/><stop offset="0.250" stop-color="#ebe9d4"/><stop offset="0.300" stop-color="#f8e6b8"/><stop offset="0.350" stop-color="#f8e6b8"/><stop offset="0.400" stop-color="#f3e9c3"/><stop offset="0.450" stop-color="#eaeed9"/><stop offset="0.500" stop-color="#e7efe1"/><stop offset="0.550" stop-color="#ddedf2"/><stop offset="0.600" stop-color="#dcedf5"/><stop offset="0.650" stop-color="#cfe6f1"/><stop offset="0.700" stop-color="#c4e1ee"/><stop offset="0.750" stop-color="#c0deed"/><stop offset="0.800" stop-color="#b1d6e9"/><stop offset="0.850" stop-color="#a7d0e7"/><stop offset="0.900" stop-color="#a6d0e7"/><stop offset="0.950" stop-color="#a6d0e7"/><stop offset="1.000" stop-color="#a6d0e7"/></linearGradient><linearGradient id="w28" gradientUnits="userSpaceOnUse" x1="0" y1="309.7" x2="0" y2="420.7"><stop offset="0.000" stop-color="#f0e8c5"/><stop offset="0.050" stop-color="#f0e8c5"/><stop offset="0.100" stop-color="#f0e8c5"/><stop offset="0.150" stop-color="#e9e9d3"/><stop offset="0.200" stop-color="#d9eaf2"/><stop offset="0.250" stop-color="#e5e7d9"/><stop offset="0.300" stop-color="#f4e3b7"/><stop offset="0.350" stop-color="#f5e3b5"/><stop offset="0.400" stop-color="#f5e3b6"/><stop offset="0.450" stop-color="#ede8c9"/><stop offset="0.500" stop-color="#e7edd9"/><stop offset="0.550" stop-color="#e3ece0"/><stop offset="0.600" stop-color="#daeaf0"/><stop offset="0.650" stop-color="#d9eaf2"/><stop offset="0.700" stop-color="#cfe5ef"/><stop offset="0.750" stop-color="#c3dfec"/><stop offset="0.800" stop-color="#c0deeb"/><stop offset="0.850" stop-color="#b5d8e8"/><stop offset="0.900" stop-color="#a7cfe5"/><stop offset="0.950" stop-color="#a3cde4"/><stop offset="1.000" stop-color="#a3cde4"/></linearGradient><linearGradient id="w29" gradientUnits="userSpaceOnUse" x1="0" y1="307.7" x2="0" y2="426.2"><stop offset="0.000" stop-color="#f3ebc8"/><stop offset="0.048" stop-color="#f3ebc8"/><stop offset="0.095" stop-color="#f3ebc8"/><stop offset="0.143" stop-color="#efecd1"/><stop offset="0.190" stop-color="#ddedf4"/><stop offset="0.238" stop-color="#e5ebe2"/><stop offset="0.286" stop-color="#f4e7c1"/><stop offset="0.333" stop-color="#f8e6b8"/><stop offset="0.381" stop-color="#f8e6b8"/><stop offset="0.429" stop-color="#f2ebc9"/><stop offset="0.476" stop-color="#eaf0dc"/><stop offset="0.524" stop-color="#e6f0e3"/><stop offset="0.571" stop-color="#ddedf4"/><stop offset="0.619" stop-color="#dcedf5"/><stop offset="0.667" stop-color="#d0e7f2"/><stop offset="0.714" stop-color="#c4e1ee"/><stop offset="0.762" stop-color="#c3e1ee"/><stop offset="0.810" stop-color="#b4d8eb"/><stop offset="0.857" stop-color="#a6d0e7"/><stop offset="0.905" stop-color="#a6d0e7"/><stop offset="0.952" stop-color="#a6d0e7"/><stop offset="1.000" stop-color="#a6d0e7"/></linearGradient><linearGradient id="w30" gradientUnits="userSpaceOnUse" x1="0" y1="309.4" x2="0" y2="426.6"><stop offset="0.000" stop-color="#f4eecd"/><stop offset="0.048" stop-color="#f4eecd"/><stop offset="0.095" stop-color="#f3edcd"/><stop offset="0.143" stop-color="#e9eee1"/><stop offset="0.190" stop-color="#dfeff4"/><stop offset="0.238" stop-color="#edebd7"/><stop offset="0.286" stop-color="#fae8ba"/><stop offset="0.333" stop-color="#fae8ba"/><stop offset="0.381" stop-color="#f8e9be"/><stop offset="0.429" stop-color="#f1eed2"/><stop offset="0.476" stop-color="#ebf1df"/><stop offset="0.524" stop-color="#e2f0f0"/><stop offset="0.571" stop-color="#ddeef6"/><stop offset="0.619" stop-color="#d3e9f4"/><stop offset="0.667" stop-color="#c4e2f0"/><stop offset="0.714" stop-color="#c2e1ef"/><stop offset="0.762" stop-color="#b4d9ec"/><stop offset="0.810" stop-color="#a5d0e8"/><stop offset="0.857" stop-color="#a4cfe8"/><stop offset="0.905" stop-color="#a4cfe8"/><stop offset="0.952" stop-color="#a4cfe8"/><stop offset="1.000" stop-color="#a4cfe8"/></linearGradient><linearGradient id="w31" gradientUnits="userSpaceOnUse" x1="0" y1="306.4" x2="0" y2="426.2"><stop offset="0.000" stop-color="#ebe9cc"/><stop offset="0.048" stop-color="#ebe9cc"/><stop offset="0.095" stop-color="#ebe9cc"/><stop offset="0.143" stop-color="#e8e8d2"/><stop offset="0.190" stop-color="#dae9ed"/><stop offset="0.238" stop-color="#e4e6d8"/><stop offset="0.286" stop-color="#f0e3bc"/><stop offset="0.333" stop-color="#f4e2b4"/><stop offset="0.381" stop-color="#f3e3b6"/><stop offset="0.429" stop-color="#eee6c4"/><stop offset="0.476" stop-color="#e9ead2"/><stop offset="0.524" stop-color="#deeae5"/><stop offset="0.571" stop-color="#d7e8f1"/><stop offset="0.619" stop-color="#cde3ee"/><stop offset="0.667" stop-color="#c2deeb"/><stop offset="0.714" stop-color="#b6d7e8"/><stop offset="0.762" stop-color="#afd3e6"/><stop offset="0.810" stop-color="#9ec9e1"/><stop offset="0.857" stop-color="#96c3df"/><stop offset="0.905" stop-color="#96c3df"/><stop offset="0.952" stop-color="#96c3df"/><stop offset="1.000" stop-color="#96c3df"/></linearGradient><linearGradient id="w32" gradientUnits="userSpaceOnUse" x1="0" y1="305.4" x2="0" y2="423.8"><stop offset="0.000" stop-color="#edefd6"/><stop offset="0.048" stop-color="#edefd6"/><stop offset="0.095" stop-color="#edefd6"/><stop offset="0.143" stop-color="#eaeedc"/><stop offset="0.190" stop-color="#dfedf1"/><stop offset="0.238" stop-color="#e8ebdd"/><stop offset="0.286" stop-color="#f5e7c1"/><stop offset="0.333" stop-color="#f8e6b8"/><stop offset="0.381" stop-color="#f8e7bb"/><stop offset="0.429" stop-color="#f5eac3"/><stop offset="0.476" stop-color="#f1eccd"/><stop offset="0.524" stop-color="#eaeedb"/><stop offset="0.571" stop-color="#deeef3"/><stop offset="0.619" stop-color="#d7ebf4"/><stop offset="0.667" stop-color="#cbe5f0"/><stop offset="0.714" stop-color="#c2e0ee"/><stop offset="0.762" stop-color="#b4d8eb"/><stop offset="0.810" stop-color="#afd5e9"/><stop offset="0.857" stop-color="#9fcae5"/><stop offset="0.905" stop-color="#92c1e1"/><stop offset="0.952" stop-color="#92c1e1"/><stop offset="1.000" stop-color="#92c1e1"/></linearGradient><linearGradient id="w33" gradientUnits="userSpaceOnUse" x1="0" y1="304.5" x2="0" y2="423.4"><stop offset="0.000" stop-color="#e8edd9"/><stop offset="0.048" stop-color="#e8edd9"/><stop offset="0.095" stop-color="#e8edd9"/><stop offset="0.143" stop-color="#e5edde"/><stop offset="0.190" stop-color="#dbebf1"/><stop offset="0.238" stop-color="#e6e8d9"/><stop offset="0.286" stop-color="#f4e4b9"/><stop offset="0.333" stop-color="#f6e4b6"/><stop offset="0.381" stop-color="#f5e5b8"/><stop offset="0.429" stop-color="#f3e7bf"/><stop offset="0.476" stop-color="#f0e9c7"/><stop offset="0.524" stop-color="#ecead0"/><stop offset="0.571" stop-color="#dcebee"/><stop offset="0.619" stop-color="#d8eaf2"/><stop offset="0.667" stop-color="#c8e2ee"/><stop offset="0.714" stop-color="#c3e0ec"/><stop offset="0.762" stop-color="#b2d6e8"/><stop offset="0.810" stop-color="#a8d0e6"/><stop offset="0.857" stop-color="#9fcae3"/><stop offset="0.905" stop-color="#8dbcdd"/><stop offset="0.952" stop-color="#88b8db"/><stop offset="1.000" stop-color="#88b8db"/></linearGradient><linearGradient id="w34" gradientUnits="userSpaceOnUse" x1="0" y1="303.3" x2="0" y2="428.6"><stop offset="0.000" stop-color="#e6eddb"/><stop offset="0.045" stop-color="#e6eddb"/><stop offset="0.091" stop-color="#e6eddb"/><stop offset="0.136" stop-color="#e6ecdb"/><stop offset="0.182" stop-color="#ddeaeb"/><stop offset="0.227" stop-color="#e6e7d7"/><stop offset="0.273" stop-color="#f5e3b6"/><stop offset="0.318" stop-color="#f5e3b5"/><stop offset="0.364" stop-color="#f5e3b6"/><stop offset="0.409" stop-color="#f2e6be"/><stop offset="0.455" stop-color="#f0e8c5"/><stop offset="0.500" stop-color="#efe9c8"/><stop offset="0.545" stop-color="#e6e9d9"/><stop offset="0.591" stop-color="#d9eaf2"/><stop offset="0.636" stop-color="#d5e8f1"/><stop offset="0.682" stop-color="#c5e0ec"/><stop offset="0.727" stop-color="#c1deeb"/><stop offset="0.773" stop-color="#b3d6e8"/><stop offset="0.818" stop-color="#a4cde4"/><stop offset="0.864" stop-color="#9fcae3"/><stop offset="0.909" stop-color="#8dbcdd"/><stop offset="0.955" stop-color="#84b5d9"/><stop offset="1.000" stop-color="#83b4d9"/></linearGradient><linearGradient id="w35" gradientUnits="userSpaceOnUse" x1="0" y1="301.9" x2="0" y2="432.9"><stop offset="0.000" stop-color="#ecf3e1"/><stop offset="0.043" stop-color="#ecf3e1"/><stop offset="0.087" stop-color="#ecf3e1"/><stop offset="0.130" stop-color="#eff2dc"/><stop offset="0.174" stop-color="#eaf0e3"/><stop offset="0.217" stop-color="#edeedb"/><stop offset="0.261" stop-color="#f9eac1"/><stop offset="0.304" stop-color="#fbe9bb"/><stop offset="0.348" stop-color="#fbe9bb"/><stop offset="0.391" stop-color="#f8ecc6"/><stop offset="0.435" stop-color="#f4f0d1"/><stop offset="0.478" stop-color="#f2f0d4"/><stop offset="0.522" stop-color="#e3f0f1"/><stop offset="0.565" stop-color="#dff0f8"/><stop offset="0.609" stop-color="#cce7f3"/><stop offset="0.652" stop-color="#c7e4f1"/><stop offset="0.696" stop-color="#b7dbee"/><stop offset="0.739" stop-color="#aad4ea"/><stop offset="0.783" stop-color="#a4cfe8"/><stop offset="0.826" stop-color="#93c2e3"/><stop offset="0.870" stop-color="#8bbbe0"/><stop offset="0.913" stop-color="#89badf"/><stop offset="0.957" stop-color="#88b9df"/><stop offset="1.000" stop-color="#83b5dd"/></linearGradient><linearGradient id="w36" gradientUnits="userSpaceOnUse" x1="0" y1="300.5" x2="0" y2="437.1"><stop offset="0.000" stop-color="#e5ecda"/><stop offset="0.042" stop-color="#e5ecda"/><stop offset="0.083" stop-color="#e5ecda"/><stop offset="0.125" stop-color="#e8ebd5"/><stop offset="0.167" stop-color="#e9e8d1"/><stop offset="0.208" stop-color="#e9e6cf"/><stop offset="0.250" stop-color="#f1e3bc"/><stop offset="0.292" stop-color="#f4e2b4"/><stop offset="0.333" stop-color="#f4e2b4"/><stop offset="0.375" stop-color="#f2e4bb"/><stop offset="0.417" stop-color="#ede7c7"/><stop offset="0.458" stop-color="#e9ead1"/><stop offset="0.500" stop-color="#e8ead4"/><stop offset="0.542" stop-color="#dce9ea"/><stop offset="0.583" stop-color="#d8e9f1"/><stop offset="0.625" stop-color="#cbe3ed"/><stop offset="0.667" stop-color="#c0ddea"/><stop offset="0.708" stop-color="#bddbe9"/><stop offset="0.750" stop-color="#aad1e5"/><stop offset="0.792" stop-color="#a2cce3"/><stop offset="0.833" stop-color="#9ac6e0"/><stop offset="0.875" stop-color="#8abadb"/><stop offset="0.917" stop-color="#82b3d8"/><stop offset="0.958" stop-color="#82b3d8"/><stop offset="1.000" stop-color="#7caed6"/></linearGradient><linearGradient id="w37" gradientUnits="userSpaceOnUse" x1="0" y1="298.6" x2="0" y2="443.3"><stop offset="0.000" stop-color="#e8efdd"/><stop offset="0.038" stop-color="#e8efdd"/><stop offset="0.077" stop-color="#e8efdd"/><stop offset="0.115" stop-color="#e9efdc"/><stop offset="0.154" stop-color="#f0ebcd"/><stop offset="0.192" stop-color="#f0e9c9"/><stop offset="0.231" stop-color="#f4e7bf"/><stop offset="0.269" stop-color="#f7e5b7"/><stop offset="0.308" stop-color="#f7e5b7"/><stop offset="0.346" stop-color="#f6e6ba"/><stop offset="0.385" stop-color="#f0eaca"/><stop offset="0.423" stop-color="#eaeeda"/><stop offset="0.462" stop-color="#e7eedf"/><stop offset="0.500" stop-color="#dbecf4"/><stop offset="0.538" stop-color="#d5e9f2"/><stop offset="0.577" stop-color="#c3e0ed"/><stop offset="0.615" stop-color="#c2e0ed"/><stop offset="0.654" stop-color="#b0d5e9"/><stop offset="0.692" stop-color="#a5cfe6"/><stop offset="0.731" stop-color="#a1cce5"/><stop offset="0.769" stop-color="#91c0df"/><stop offset="0.808" stop-color="#85b6db"/><stop offset="0.846" stop-color="#85b6db"/><stop offset="0.885" stop-color="#7eb0d8"/><stop offset="0.923" stop-color="#72a6d4"/><stop offset="0.962" stop-color="#6da1d2"/><stop offset="1.000" stop-color="#6da1d2"/></linearGradient><linearGradient id="w38" gradientUnits="userSpaceOnUse" x1="0" y1="296.6" x2="0" y2="452.4"><stop offset="0.000" stop-color="#e9f0de"/><stop offset="0.036" stop-color="#e9f0de"/><stop offset="0.071" stop-color="#e9f0de"/><stop offset="0.107" stop-color="#e9f0dd"/><stop offset="0.143" stop-color="#efedd0"/><stop offset="0.179" stop-color="#f3eac6"/><stop offset="0.214" stop-color="#f6e8be"/><stop offset="0.250" stop-color="#f8e6b8"/><stop offset="0.286" stop-color="#f8e6b8"/><stop offset="0.321" stop-color="#f8e6b8"/><stop offset="0.357" stop-color="#f3e9c4"/><stop offset="0.393" stop-color="#ededd4"/><stop offset="0.429" stop-color="#e9f0de"/><stop offset="0.464" stop-color="#e3eee8"/><stop offset="0.500" stop-color="#dcedf5"/><stop offset="0.536" stop-color="#d2e8f2"/><stop offset="0.571" stop-color="#c4e1ee"/><stop offset="0.607" stop-color="#c3e0ee"/><stop offset="0.643" stop-color="#b2d7ea"/><stop offset="0.679" stop-color="#a6d0e7"/><stop offset="0.714" stop-color="#a4cfe6"/><stop offset="0.750" stop-color="#95c3e1"/><stop offset="0.786" stop-color="#86b7dc"/><stop offset="0.821" stop-color="#86b7dc"/><stop offset="0.857" stop-color="#7eb0d9"/><stop offset="0.893" stop-color="#71a5d4"/><stop offset="0.929" stop-color="#6a9fd1"/><stop offset="0.964" stop-color="#6a9fd1"/><stop offset="1.000" stop-color="#6a9fd1"/></linearGradient><linearGradient id="w39" gradientUnits="userSpaceOnUse" x1="0" y1="295.7" x2="0" y2="454.6"><stop offset="0.000" stop-color="#e9f0de"/><stop offset="0.036" stop-color="#e9f0de"/><stop offset="0.071" stop-color="#e9f0de"/><stop offset="0.107" stop-color="#e9f0dd"/><stop offset="0.143" stop-color="#f0eccf"/><stop offset="0.179" stop-color="#f4eac5"/><stop offset="0.214" stop-color="#f6e8bd"/><stop offset="0.250" stop-color="#f8e6b8"/><stop offset="0.286" stop-color="#f8e6b8"/><stop offset="0.321" stop-color="#f8e6b8"/><stop offset="0.357" stop-color="#f2eac7"/><stop offset="0.393" stop-color="#ebeed9"/><stop offset="0.429" stop-color="#e9f0de"/><stop offset="0.464" stop-color="#ddedf3"/><stop offset="0.500" stop-color="#d8ebf4"/><stop offset="0.536" stop-color="#c6e2ee"/><stop offset="0.571" stop-color="#c4e1ee"/><stop offset="0.607" stop-color="#b4d8ea"/><stop offset="0.643" stop-color="#a6d0e7"/><stop offset="0.679" stop-color="#a4cee6"/><stop offset="0.714" stop-color="#95c2e1"/><stop offset="0.750" stop-color="#86b7dc"/><stop offset="0.786" stop-color="#86b7dc"/><stop offset="0.821" stop-color="#7cafd8"/><stop offset="0.857" stop-color="#6ea3d3"/><stop offset="0.893" stop-color="#6a9fd1"/><stop offset="0.929" stop-color="#6a9fd1"/><stop offset="0.964" stop-color="#6a9fd1"/><stop offset="1.000" stop-color="#6a9fd1"/></linearGradient><linearGradient id="w40" gradientUnits="userSpaceOnUse" x1="0" y1="298.2" x2="0" y2="449.1"><stop offset="0.000" stop-color="#ebf2e0"/><stop offset="0.037" stop-color="#ebf2e0"/><stop offset="0.074" stop-color="#ebf2e0"/><stop offset="0.111" stop-color="#eef1da"/><stop offset="0.148" stop-color="#f5edcb"/><stop offset="0.185" stop-color="#f7ebc3"/><stop offset="0.222" stop-color="#f9e9bc"/><stop offset="0.259" stop-color="#fae8ba"/><stop offset="0.296" stop-color="#fae8ba"/><stop offset="0.333" stop-color="#f9e9bd"/><stop offset="0.370" stop-color="#f3eccb"/><stop offset="0.407" stop-color="#eef0d8"/><stop offset="0.444" stop-color="#ebf2e0"/><stop offset="0.481" stop-color="#e5f1ea"/><stop offset="0.519" stop-color="#deeff7"/><stop offset="0.556" stop-color="#d8ecf5"/><stop offset="0.593" stop-color="#c9e5f1"/><stop offset="0.630" stop-color="#c6e3f0"/><stop offset="0.667" stop-color="#bedfee"/><stop offset="0.704" stop-color="#aed5ea"/><stop offset="0.741" stop-color="#a8d2e9"/><stop offset="0.778" stop-color="#a1cce7"/><stop offset="0.815" stop-color="#90bfe1"/><stop offset="0.852" stop-color="#88b9de"/><stop offset="0.889" stop-color="#86b8dd"/><stop offset="0.926" stop-color="#78acd8"/><stop offset="0.963" stop-color="#6ca1d3"/><stop offset="1.000" stop-color="#6ca1d3"/></linearGradient><linearGradient id="w41" gradientUnits="userSpaceOnUse" x1="0" y1="297.4" x2="0" y2="449.6"><stop offset="0.000" stop-color="#e6eddb"/><stop offset="0.037" stop-color="#e6eddb"/><stop offset="0.074" stop-color="#e6eddb"/><stop offset="0.111" stop-color="#e8ebd5"/><stop offset="0.148" stop-color="#efe8c5"/><stop offset="0.185" stop-color="#f2e5bd"/><stop offset="0.222" stop-color="#f4e3b6"/><stop offset="0.259" stop-color="#f5e3b5"/><stop offset="0.296" stop-color="#f5e3b5"/><stop offset="0.333" stop-color="#f3e4b8"/><stop offset="0.370" stop-color="#ede8c7"/><stop offset="0.407" stop-color="#e7ebd6"/><stop offset="0.444" stop-color="#e6eddb"/><stop offset="0.481" stop-color="#dceaec"/><stop offset="0.519" stop-color="#d9eaf2"/><stop offset="0.556" stop-color="#c9e2ed"/><stop offset="0.593" stop-color="#c1deeb"/><stop offset="0.630" stop-color="#bddbea"/><stop offset="0.667" stop-color="#acd2e6"/><stop offset="0.704" stop-color="#a3cde4"/><stop offset="0.741" stop-color="#9fcae2"/><stop offset="0.778" stop-color="#8ebcdc"/><stop offset="0.815" stop-color="#83b4d9"/><stop offset="0.852" stop-color="#82b3d9"/><stop offset="0.889" stop-color="#74a7d3"/><stop offset="0.926" stop-color="#679cce"/><stop offset="0.963" stop-color="#679cce"/><stop offset="1.000" stop-color="#679cce"/></linearGradient><linearGradient id="w42" gradientUnits="userSpaceOnUse" x1="0" y1="292.9" x2="0" y2="454.1"><stop offset="0.000" stop-color="#ebf2e0"/><stop offset="0.034" stop-color="#ebf2e0"/><stop offset="0.069" stop-color="#ebf2e0"/><stop offset="0.103" stop-color="#ebf2e0"/><stop offset="0.138" stop-color="#f0f0d6"/><stop offset="0.172" stop-color="#f6edc8"/><stop offset="0.207" stop-color="#f8eac1"/><stop offset="0.241" stop-color="#fae8ba"/><stop offset="0.276" stop-color="#fae8ba"/><stop offset="0.310" stop-color="#fae8ba"/><stop offset="0.345" stop-color="#f9eabf"/><stop offset="0.379" stop-color="#f3edcc"/><stop offset="0.414" stop-color="#eef0d9"/><stop offset="0.448" stop-color="#ebf2e0"/><stop offset="0.483" stop-color="#e7f1e8"/><stop offset="0.517" stop-color="#deeff7"/><stop offset="0.552" stop-color="#dbeef7"/><stop offset="0.586" stop-color="#cee7f2"/><stop offset="0.621" stop-color="#c6e3f0"/><stop offset="0.655" stop-color="#c5e2f0"/><stop offset="0.690" stop-color="#b5d9ec"/><stop offset="0.724" stop-color="#a8d2e9"/><stop offset="0.759" stop-color="#a8d2e9"/><stop offset="0.793" stop-color="#98c6e4"/><stop offset="0.828" stop-color="#89badf"/><stop offset="0.862" stop-color="#88b9de"/><stop offset="0.897" stop-color="#7fb1db"/><stop offset="0.931" stop-color="#71a5d5"/><stop offset="0.966" stop-color="#6da2d4"/><stop offset="1.000" stop-color="#6ca1d3"/></linearGradient><linearGradient id="w43" gradientUnits="userSpaceOnUse" x1="0" y1="294.3" x2="0" y2="456.2"><stop offset="0.000" stop-color="#e7eedc"/><stop offset="0.034" stop-color="#e7eedc"/><stop offset="0.069" stop-color="#e7eedc"/><stop offset="0.103" stop-color="#e7eedc"/><stop offset="0.138" stop-color="#efeacb"/><stop offset="0.172" stop-color="#f3e8c1"/><stop offset="0.207" stop-color="#f5e5ba"/><stop offset="0.241" stop-color="#f6e4b6"/><stop offset="0.276" stop-color="#f6e4b6"/><stop offset="0.310" stop-color="#f6e4b7"/><stop offset="0.345" stop-color="#f2e7c2"/><stop offset="0.379" stop-color="#ecebd1"/><stop offset="0.414" stop-color="#e7eedc"/><stop offset="0.448" stop-color="#e2ede5"/><stop offset="0.483" stop-color="#daebf3"/><stop offset="0.517" stop-color="#d3e8f1"/><stop offset="0.552" stop-color="#c3e0ec"/><stop offset="0.586" stop-color="#c2dfec"/><stop offset="0.621" stop-color="#b5d8e9"/><stop offset="0.655" stop-color="#a6cfe6"/><stop offset="0.690" stop-color="#a4cee5"/><stop offset="0.724" stop-color="#9bc7e2"/><stop offset="0.759" stop-color="#8bbadd"/><stop offset="0.793" stop-color="#84b5da"/><stop offset="0.828" stop-color="#80b2d9"/><stop offset="0.862" stop-color="#75a8d4"/><stop offset="0.897" stop-color="#6ba0d0"/><stop offset="0.931" stop-color="#689dcf"/><stop offset="0.966" stop-color="#689dcf"/><stop offset="1.000" stop-color="#689dcf"/></linearGradient><linearGradient id="w44" gradientUnits="userSpaceOnUse" x1="0" y1="295.1" x2="0" y2="454.8"><stop offset="0.000" stop-color="#e9f0de"/><stop offset="0.034" stop-color="#e9f0de"/><stop offset="0.069" stop-color="#e9f0de"/><stop offset="0.103" stop-color="#e9f0dd"/><stop offset="0.138" stop-color="#f2ebca"/><stop offset="0.172" stop-color="#f5e9c1"/><stop offset="0.207" stop-color="#f7e7ba"/><stop offset="0.241" stop-color="#f8e6b8"/><stop offset="0.276" stop-color="#f8e6b8"/><stop offset="0.310" stop-color="#f8e6b9"/><stop offset="0.345" stop-color="#f3e9c4"/><stop offset="0.379" stop-color="#eeedd1"/><stop offset="0.414" stop-color="#e9f0dd"/><stop offset="0.448" stop-color="#e7f0e1"/><stop offset="0.483" stop-color="#deeef1"/><stop offset="0.517" stop-color="#dcedf5"/><stop offset="0.552" stop-color="#d1e7f2"/><stop offset="0.586" stop-color="#c4e1ee"/><stop offset="0.621" stop-color="#c4e1ee"/><stop offset="0.655" stop-color="#b7daeb"/><stop offset="0.690" stop-color="#a8d1e7"/><stop offset="0.724" stop-color="#a6d0e7"/><stop offset="0.759" stop-color="#a0cbe5"/><stop offset="0.793" stop-color="#91c0e0"/><stop offset="0.828" stop-color="#86b7dc"/><stop offset="0.862" stop-color="#85b6db"/><stop offset="0.897" stop-color="#7dafd8"/><stop offset="0.931" stop-color="#71a5d4"/><stop offset="0.966" stop-color="#6a9fd1"/><stop offset="1.000" stop-color="#6a9fd1"/></linearGradient><linearGradient id="w45" gradientUnits="userSpaceOnUse" x1="0" y1="295.7" x2="0" y2="455.4"><stop offset="0.000" stop-color="#e9f0de"/><stop offset="0.034" stop-color="#e9f0de"/><stop offset="0.069" stop-color="#e9f0de"/><stop offset="0.103" stop-color="#ebefda"/><stop offset="0.138" stop-color="#f3eac7"/><stop offset="0.172" stop-color="#f5e8bf"/><stop offset="0.207" stop-color="#f8e6b8"/><stop offset="0.241" stop-color="#f8e6b8"/><stop offset="0.276" stop-color="#f8e6b8"/><stop offset="0.310" stop-color="#f7e6ba"/><stop offset="0.345" stop-color="#f1eac8"/><stop offset="0.379" stop-color="#ecedd5"/><stop offset="0.414" stop-color="#e9f0de"/><stop offset="0.448" stop-color="#e4efe6"/><stop offset="0.483" stop-color="#dcedf4"/><stop offset="0.517" stop-color="#d9ebf4"/><stop offset="0.552" stop-color="#cae4f0"/><stop offset="0.586" stop-color="#c4e1ee"/><stop offset="0.621" stop-color="#bedeec"/><stop offset="0.655" stop-color="#afd5e9"/><stop offset="0.690" stop-color="#a6d0e7"/><stop offset="0.724" stop-color="#a6d0e7"/><stop offset="0.759" stop-color="#9ac7e3"/><stop offset="0.793" stop-color="#8dbcde"/><stop offset="0.828" stop-color="#86b7dc"/><stop offset="0.862" stop-color="#84b6db"/><stop offset="0.897" stop-color="#7aadd7"/><stop offset="0.931" stop-color="#6ea2d2"/><stop offset="0.966" stop-color="#6a9fd1"/><stop offset="1.000" stop-color="#6a9fd1"/></linearGradient><linearGradient id="w46" gradientUnits="userSpaceOnUse" x1="0" y1="300.1" x2="0" y2="457.4"><stop offset="0.000" stop-color="#f0f4de"/><stop offset="0.036" stop-color="#f0f4de"/><stop offset="0.071" stop-color="#f0f4de"/><stop offset="0.107" stop-color="#f9efcb"/><stop offset="0.143" stop-color="#fbedc4"/><stop offset="0.179" stop-color="#fdebbd"/><stop offset="0.214" stop-color="#fdebbd"/><stop offset="0.250" stop-color="#fdebbd"/><stop offset="0.286" stop-color="#fcecc0"/><stop offset="0.321" stop-color="#f6f0cf"/><stop offset="0.357" stop-color="#f0f4de"/><stop offset="0.393" stop-color="#eef5e4"/><stop offset="0.429" stop-color="#e5f3f3"/><stop offset="0.464" stop-color="#e1f2fa"/><stop offset="0.500" stop-color="#d6ecf7"/><stop offset="0.536" stop-color="#c9e6f3"/><stop offset="0.571" stop-color="#c7e5f2"/><stop offset="0.607" stop-color="#b7dcef"/><stop offset="0.643" stop-color="#abd5ec"/><stop offset="0.679" stop-color="#abd5ec"/><stop offset="0.714" stop-color="#a2cee9"/><stop offset="0.750" stop-color="#95c4e4"/><stop offset="0.786" stop-color="#8bbce1"/><stop offset="0.821" stop-color="#8bbce1"/><stop offset="0.857" stop-color="#84b6de"/><stop offset="0.893" stop-color="#77abd9"/><stop offset="0.929" stop-color="#72a7d7"/><stop offset="0.964" stop-color="#72a7d7"/><stop offset="1.000" stop-color="#72a7d7"/></linearGradient><linearGradient id="w47" gradientUnits="userSpaceOnUse" x1="0" y1="308.8" x2="0" y2="463.0"><stop offset="0.000" stop-color="#ebe9cd"/><stop offset="0.036" stop-color="#efe7c4"/><stop offset="0.071" stop-color="#f2e5bc"/><stop offset="0.107" stop-color="#f4e4b8"/><stop offset="0.143" stop-color="#f5e3b5"/><stop offset="0.179" stop-color="#f5e3b5"/><stop offset="0.214" stop-color="#f5e3b5"/><stop offset="0.250" stop-color="#f1e6bf"/><stop offset="0.286" stop-color="#ebe9cd"/><stop offset="0.321" stop-color="#e7ecd9"/><stop offset="0.357" stop-color="#e5eddd"/><stop offset="0.393" stop-color="#dcebec"/><stop offset="0.429" stop-color="#d9eaf2"/><stop offset="0.464" stop-color="#d0e5ef"/><stop offset="0.500" stop-color="#c3dfeb"/><stop offset="0.536" stop-color="#c1deeb"/><stop offset="0.571" stop-color="#b6d7e8"/><stop offset="0.607" stop-color="#a7cfe5"/><stop offset="0.643" stop-color="#a3cde4"/><stop offset="0.679" stop-color="#a1cbe3"/><stop offset="0.714" stop-color="#94c1df"/><stop offset="0.750" stop-color="#87b7da"/><stop offset="0.786" stop-color="#83b4d9"/><stop offset="0.821" stop-color="#83b4d9"/><stop offset="0.857" stop-color="#7badd6"/><stop offset="0.893" stop-color="#72a6d2"/><stop offset="0.929" stop-color="#71a5d2"/><stop offset="0.964" stop-color="#71a5d2"/><stop offset="1.000" stop-color="#71a5d2"/></linearGradient><linearGradient id="w48" gradientUnits="userSpaceOnUse" x1="0" y1="310.6" x2="0" y2="458.4"><stop offset="0.000" stop-color="#f4ebc8"/><stop offset="0.038" stop-color="#f8e9bf"/><stop offset="0.077" stop-color="#f8e9bd"/><stop offset="0.115" stop-color="#f9e8ba"/><stop offset="0.154" stop-color="#f9e7b9"/><stop offset="0.192" stop-color="#f9e7b9"/><stop offset="0.231" stop-color="#f7e9c0"/><stop offset="0.269" stop-color="#f2eccc"/><stop offset="0.308" stop-color="#edf0d8"/><stop offset="0.346" stop-color="#eaf1df"/><stop offset="0.385" stop-color="#e7f1e6"/><stop offset="0.423" stop-color="#dfeff4"/><stop offset="0.462" stop-color="#ddeef6"/><stop offset="0.500" stop-color="#d2e9f3"/><stop offset="0.538" stop-color="#c7e3f0"/><stop offset="0.577" stop-color="#c5e2ef"/><stop offset="0.615" stop-color="#b9dbed"/><stop offset="0.654" stop-color="#aad3e9"/><stop offset="0.692" stop-color="#a7d1e8"/><stop offset="0.731" stop-color="#a3cee7"/><stop offset="0.769" stop-color="#96c4e2"/><stop offset="0.808" stop-color="#89bade"/><stop offset="0.846" stop-color="#87b8dd"/><stop offset="0.885" stop-color="#87b8dd"/><stop offset="0.923" stop-color="#82b3db"/><stop offset="0.962" stop-color="#7dafd9"/><stop offset="1.000" stop-color="#7dafd9"/></linearGradient><linearGradient id="w49" gradientUnits="userSpaceOnUse" x1="0" y1="310.1" x2="0" y2="453.8"><stop offset="0.000" stop-color="#f2e3b8"/><stop offset="0.038" stop-color="#f3e2b6"/><stop offset="0.077" stop-color="#f3e2b5"/><stop offset="0.115" stop-color="#f3e2b4"/><stop offset="0.154" stop-color="#f3e1b3"/><stop offset="0.192" stop-color="#f3e1b3"/><stop offset="0.231" stop-color="#f2e3b8"/><stop offset="0.269" stop-color="#ece6c6"/><stop offset="0.308" stop-color="#e6ead5"/><stop offset="0.346" stop-color="#e4ebd9"/><stop offset="0.385" stop-color="#dce9e9"/><stop offset="0.423" stop-color="#d7e8f0"/><stop offset="0.462" stop-color="#cde3ed"/><stop offset="0.500" stop-color="#c0ddea"/><stop offset="0.538" stop-color="#bddbe9"/><stop offset="0.577" stop-color="#aed2e5"/><stop offset="0.615" stop-color="#a2cce3"/><stop offset="0.654" stop-color="#a1cbe2"/><stop offset="0.692" stop-color="#9ac5e0"/><stop offset="0.731" stop-color="#8dbcdb"/><stop offset="0.769" stop-color="#82b3d8"/><stop offset="0.808" stop-color="#81b2d7"/><stop offset="0.846" stop-color="#81b2d7"/><stop offset="0.885" stop-color="#7fb1d7"/><stop offset="0.923" stop-color="#7eafd6"/><stop offset="0.962" stop-color="#7eafd6"/><stop offset="1.000" stop-color="#7eafd6"/></linearGradient><linearGradient id="w50" gradientUnits="userSpaceOnUse" x1="0" y1="309.6" x2="0" y2="452.8"><stop offset="0.000" stop-color="#fcecbf"/><stop offset="0.038" stop-color="#fcecbf"/><stop offset="0.077" stop-color="#fdebbe"/><stop offset="0.115" stop-color="#fdebbd"/><stop offset="0.154" stop-color="#fdebbd"/><stop offset="0.192" stop-color="#fdebbd"/><stop offset="0.231" stop-color="#fbecc1"/><stop offset="0.269" stop-color="#f5f0d0"/><stop offset="0.308" stop-color="#f0f4de"/><stop offset="0.346" stop-color="#edf5e4"/><stop offset="0.385" stop-color="#e5f3f3"/><stop offset="0.423" stop-color="#e1f2fa"/><stop offset="0.462" stop-color="#d6ecf7"/><stop offset="0.500" stop-color="#c9e6f3"/><stop offset="0.538" stop-color="#c7e5f2"/><stop offset="0.577" stop-color="#b7dcef"/><stop offset="0.615" stop-color="#abd5ec"/><stop offset="0.654" stop-color="#abd5ec"/><stop offset="0.692" stop-color="#a1cde9"/><stop offset="0.731" stop-color="#94c3e4"/><stop offset="0.769" stop-color="#8bbce1"/><stop offset="0.808" stop-color="#8bbce1"/><stop offset="0.846" stop-color="#8bbce1"/><stop offset="0.885" stop-color="#8bbce1"/><stop offset="0.923" stop-color="#8bbce1"/><stop offset="0.962" stop-color="#8bbce1"/><stop offset="1.000" stop-color="#8bbce1"/></linearGradient><linearGradient id="w51" gradientUnits="userSpaceOnUse" x1="0" y1="309.0" x2="0" y2="447.4"><stop offset="0.000" stop-color="#f2e4ba"/><stop offset="0.040" stop-color="#f2e4ba"/><stop offset="0.080" stop-color="#f3e3b8"/><stop offset="0.120" stop-color="#f4e2b5"/><stop offset="0.160" stop-color="#f4e2b4"/><stop offset="0.200" stop-color="#f4e2b4"/><stop offset="0.240" stop-color="#f2e3b8"/><stop offset="0.280" stop-color="#ece7c7"/><stop offset="0.320" stop-color="#e7ebd5"/><stop offset="0.360" stop-color="#e4ecdc"/><stop offset="0.400" stop-color="#deeae7"/><stop offset="0.440" stop-color="#d8e9f1"/><stop offset="0.480" stop-color="#d4e7f0"/><stop offset="0.520" stop-color="#c6e0ec"/><stop offset="0.560" stop-color="#c0ddea"/><stop offset="0.600" stop-color="#bbdae9"/><stop offset="0.640" stop-color="#abd1e5"/><stop offset="0.680" stop-color="#a2cce3"/><stop offset="0.720" stop-color="#a1cce3"/><stop offset="0.760" stop-color="#94c1de"/><stop offset="0.800" stop-color="#87b7da"/><stop offset="0.840" stop-color="#82b3d8"/><stop offset="0.880" stop-color="#82b3d8"/><stop offset="0.920" stop-color="#82b3d8"/><stop offset="0.960" stop-color="#82b3d8"/><stop offset="1.000" stop-color="#82b3d8"/></linearGradient><linearGradient id="w52" gradientUnits="userSpaceOnUse" x1="0" y1="306.2" x2="0" y2="441.8"><stop offset="0.000" stop-color="#f7ecc5"/><stop offset="0.042" stop-color="#f7ecc5"/><stop offset="0.083" stop-color="#f8ebc3"/><stop offset="0.125" stop-color="#f9eabf"/><stop offset="0.167" stop-color="#fbe9bb"/><stop offset="0.208" stop-color="#fbe9bb"/><stop offset="0.250" stop-color="#fae9bb"/><stop offset="0.292" stop-color="#f4edca"/><stop offset="0.333" stop-color="#eff1d9"/><stop offset="0.375" stop-color="#ecf2e0"/><stop offset="0.417" stop-color="#e8f2e8"/><stop offset="0.458" stop-color="#e0f0f4"/><stop offset="0.500" stop-color="#dff0f8"/><stop offset="0.542" stop-color="#d8ecf6"/><stop offset="0.583" stop-color="#cce6f2"/><stop offset="0.625" stop-color="#c7e4f1"/><stop offset="0.667" stop-color="#c3e2f0"/><stop offset="0.708" stop-color="#b3d9ec"/><stop offset="0.750" stop-color="#a9d3ea"/><stop offset="0.792" stop-color="#a8d2e9"/><stop offset="0.833" stop-color="#98c6e4"/><stop offset="0.875" stop-color="#8cbce0"/><stop offset="0.917" stop-color="#89badf"/><stop offset="0.958" stop-color="#89badf"/><stop offset="1.000" stop-color="#89badf"/></linearGradient><linearGradient id="w53" gradientUnits="userSpaceOnUse" x1="0" y1="302.1" x2="0" y2="438.5"><stop offset="0.000" stop-color="#f1e8c3"/><stop offset="0.042" stop-color="#f1e8c3"/><stop offset="0.083" stop-color="#f1e8c3"/><stop offset="0.125" stop-color="#f2e6bf"/><stop offset="0.167" stop-color="#f4e4b9"/><stop offset="0.208" stop-color="#f5e3b5"/><stop offset="0.250" stop-color="#f5e3b5"/><stop offset="0.292" stop-color="#f3e5bb"/><stop offset="0.333" stop-color="#ece9cc"/><stop offset="0.375" stop-color="#e7edda"/><stop offset="0.417" stop-color="#e4ede0"/><stop offset="0.458" stop-color="#dcebed"/><stop offset="0.500" stop-color="#d9eaf2"/><stop offset="0.542" stop-color="#d4e8f1"/><stop offset="0.583" stop-color="#c8e1ed"/><stop offset="0.625" stop-color="#c1deeb"/><stop offset="0.667" stop-color="#bedcea"/><stop offset="0.708" stop-color="#aed3e7"/><stop offset="0.750" stop-color="#a3cde4"/><stop offset="0.792" stop-color="#a1cbe3"/><stop offset="0.833" stop-color="#90bede"/><stop offset="0.875" stop-color="#84b5d9"/><stop offset="0.917" stop-color="#83b4d9"/><stop offset="0.958" stop-color="#83b4d9"/><stop offset="1.000" stop-color="#83b4d9"/></linearGradient><linearGradient id="w54" gradientUnits="userSpaceOnUse" x1="0" y1="301.3" x2="0" y2="435.7"><stop offset="0.000" stop-color="#efe7c4"/><stop offset="0.042" stop-color="#efe7c4"/><stop offset="0.083" stop-color="#efe7c4"/><stop offset="0.125" stop-color="#f0e6c0"/><stop offset="0.167" stop-color="#f3e4ba"/><stop offset="0.208" stop-color="#f4e2b4"/><stop offset="0.250" stop-color="#f4e2b4"/><stop offset="0.292" stop-color="#f3e3b7"/><stop offset="0.333" stop-color="#ece8c9"/><stop offset="0.375" stop-color="#e6ecd8"/><stop offset="0.417" stop-color="#e6ecd9"/><stop offset="0.458" stop-color="#e1eae1"/><stop offset="0.500" stop-color="#dbe9ec"/><stop offset="0.542" stop-color="#dae9ed"/><stop offset="0.583" stop-color="#d3e6ee"/><stop offset="0.625" stop-color="#c9e2ed"/><stop offset="0.667" stop-color="#c2deeb"/><stop offset="0.708" stop-color="#c0ddea"/><stop offset="0.750" stop-color="#b2d5e7"/><stop offset="0.792" stop-color="#a4cde4"/><stop offset="0.833" stop-color="#a2cce3"/><stop offset="0.875" stop-color="#94c1de"/><stop offset="0.917" stop-color="#84b5d9"/><stop offset="0.958" stop-color="#82b3d8"/><stop offset="1.000" stop-color="#82b3d8"/></linearGradient><linearGradient id="w55" gradientUnits="userSpaceOnUse" x1="0" y1="300.8" x2="0" y2="436.2"><stop offset="0.000" stop-color="#f5edca"/><stop offset="0.042" stop-color="#f5edca"/><stop offset="0.083" stop-color="#f5ecc9"/><stop offset="0.125" stop-color="#f6ebc5"/><stop offset="0.167" stop-color="#f8e9be"/><stop offset="0.208" stop-color="#fae8ba"/><stop offset="0.250" stop-color="#fae8ba"/><stop offset="0.292" stop-color="#f8e9be"/><stop offset="0.333" stop-color="#f1edd0"/><stop offset="0.375" stop-color="#ebf1de"/><stop offset="0.417" stop-color="#ecf1dc"/><stop offset="0.458" stop-color="#e9efe0"/><stop offset="0.500" stop-color="#e6eee6"/><stop offset="0.542" stop-color="#e2eeed"/><stop offset="0.583" stop-color="#d6ebf4"/><stop offset="0.625" stop-color="#cde6f2"/><stop offset="0.667" stop-color="#c7e3f0"/><stop offset="0.708" stop-color="#bfdfee"/><stop offset="0.750" stop-color="#b1d7eb"/><stop offset="0.792" stop-color="#a8d2e9"/><stop offset="0.833" stop-color="#a1cce6"/><stop offset="0.875" stop-color="#92c1e1"/><stop offset="0.917" stop-color="#89bade"/><stop offset="0.958" stop-color="#88b9de"/><stop offset="1.000" stop-color="#88b9de"/></linearGradient><linearGradient id="w56" gradientUnits="userSpaceOnUse" x1="0" y1="300.8" x2="0" y2="444.5"><stop offset="0.000" stop-color="#f6eecb"/><stop offset="0.038" stop-color="#f6eecb"/><stop offset="0.077" stop-color="#f6eeca"/><stop offset="0.115" stop-color="#f8ecc5"/><stop offset="0.154" stop-color="#faeabe"/><stop offset="0.192" stop-color="#fbe9bb"/><stop offset="0.231" stop-color="#fbe9bb"/><stop offset="0.269" stop-color="#f9eac0"/><stop offset="0.308" stop-color="#f2efd1"/><stop offset="0.346" stop-color="#ecf2df"/><stop offset="0.385" stop-color="#eef2dc"/><stop offset="0.423" stop-color="#efefd8"/><stop offset="0.462" stop-color="#edefdc"/><stop offset="0.500" stop-color="#e6efe9"/><stop offset="0.538" stop-color="#daedf6"/><stop offset="0.577" stop-color="#d2e9f4"/><stop offset="0.615" stop-color="#c7e4f1"/><stop offset="0.654" stop-color="#c2e1f0"/><stop offset="0.692" stop-color="#b3d8ec"/><stop offset="0.731" stop-color="#a9d3ea"/><stop offset="0.769" stop-color="#a4cfe8"/><stop offset="0.808" stop-color="#95c4e3"/><stop offset="0.846" stop-color="#8bbce0"/><stop offset="0.885" stop-color="#89badf"/><stop offset="0.923" stop-color="#89badf"/><stop offset="0.962" stop-color="#89badf"/><stop offset="1.000" stop-color="#89badf"/></linearGradient><linearGradient id="w57" gradientUnits="userSpaceOnUse" x1="0" y1="300.3" x2="0" y2="443.4"><stop offset="0.000" stop-color="#f7efcc"/><stop offset="0.038" stop-color="#f7efcc"/><stop offset="0.077" stop-color="#f7efcc"/><stop offset="0.115" stop-color="#f9edc6"/><stop offset="0.154" stop-color="#fbebbf"/><stop offset="0.192" stop-color="#fceabc"/><stop offset="0.231" stop-color="#fceabc"/><stop offset="0.269" stop-color="#faecc2"/><stop offset="0.308" stop-color="#f3f0d3"/><stop offset="0.346" stop-color="#edf4e1"/><stop offset="0.385" stop-color="#eff3de"/><stop offset="0.423" stop-color="#f4f0d4"/><stop offset="0.462" stop-color="#f4efd2"/><stop offset="0.500" stop-color="#f1f0d8"/><stop offset="0.538" stop-color="#e4f0ef"/><stop offset="0.577" stop-color="#def0f9"/><stop offset="0.615" stop-color="#d3ebf5"/><stop offset="0.654" stop-color="#c8e5f2"/><stop offset="0.692" stop-color="#c6e4f2"/><stop offset="0.731" stop-color="#b5dbee"/><stop offset="0.769" stop-color="#aad4eb"/><stop offset="0.808" stop-color="#a8d2ea"/><stop offset="0.846" stop-color="#99c7e5"/><stop offset="0.885" stop-color="#8cbce1"/><stop offset="0.923" stop-color="#8abbe0"/><stop offset="0.962" stop-color="#8abbe0"/><stop offset="1.000" stop-color="#8abbe0"/></linearGradient><linearGradient id="w58" gradientUnits="userSpaceOnUse" x1="0" y1="299.1" x2="0" y2="438.0"><stop offset="0.000" stop-color="#f1e9c6"/><stop offset="0.040" stop-color="#f1e9c6"/><stop offset="0.080" stop-color="#f2e9c6"/><stop offset="0.120" stop-color="#f3e8c1"/><stop offset="0.160" stop-color="#f5e5ba"/><stop offset="0.200" stop-color="#f6e4b6"/><stop offset="0.240" stop-color="#f6e4b6"/><stop offset="0.280" stop-color="#f4e6bc"/><stop offset="0.320" stop-color="#eeeacd"/><stop offset="0.360" stop-color="#e8eedc"/><stop offset="0.400" stop-color="#e9eed9"/><stop offset="0.440" stop-color="#efebcc"/><stop offset="0.480" stop-color="#f1e9c6"/><stop offset="0.520" stop-color="#f0eac9"/><stop offset="0.560" stop-color="#e3ebe3"/><stop offset="0.600" stop-color="#daebf3"/><stop offset="0.640" stop-color="#d3e8f1"/><stop offset="0.680" stop-color="#c3e0ed"/><stop offset="0.720" stop-color="#c2dfec"/><stop offset="0.760" stop-color="#b5d8e9"/><stop offset="0.800" stop-color="#a6cfe6"/><stop offset="0.840" stop-color="#a4cee5"/><stop offset="0.880" stop-color="#98c5e1"/><stop offset="0.920" stop-color="#89b9dc"/><stop offset="0.960" stop-color="#85b6da"/><stop offset="1.000" stop-color="#84b5da"/></linearGradient><linearGradient id="w59" gradientUnits="userSpaceOnUse" x1="0" y1="297.8" x2="0" y2="436.0"><stop offset="0.000" stop-color="#efe7c4"/><stop offset="0.040" stop-color="#efe7c4"/><stop offset="0.080" stop-color="#efe6c3"/><stop offset="0.120" stop-color="#f0e5be"/><stop offset="0.160" stop-color="#f2e3b7"/><stop offset="0.200" stop-color="#f4e2b4"/><stop offset="0.240" stop-color="#f4e2b4"/><stop offset="0.280" stop-color="#f2e3b8"/><stop offset="0.320" stop-color="#ebe7c9"/><stop offset="0.360" stop-color="#e6ebd6"/><stop offset="0.400" stop-color="#e6ebd7"/><stop offset="0.440" stop-color="#ebe8cb"/><stop offset="0.480" stop-color="#efe7c4"/><stop offset="0.520" stop-color="#efe7c4"/><stop offset="0.560" stop-color="#e4e7d9"/><stop offset="0.600" stop-color="#d9e8ee"/><stop offset="0.640" stop-color="#d4e7f0"/><stop offset="0.680" stop-color="#c6e0eb"/><stop offset="0.720" stop-color="#c0ddea"/><stop offset="0.760" stop-color="#b9d9e8"/><stop offset="0.800" stop-color="#a9d0e4"/><stop offset="0.840" stop-color="#a2cce3"/><stop offset="0.880" stop-color="#9bc7e0"/><stop offset="0.920" stop-color="#8dbcdc"/><stop offset="0.960" stop-color="#84b4d8"/><stop offset="1.000" stop-color="#82b3d8"/></linearGradient><linearGradient id="w60" gradientUnits="userSpaceOnUse" x1="0" y1="296.7" x2="0" y2="434.0"><stop offset="0.000" stop-color="#f2eac7"/><stop offset="0.042" stop-color="#f2eac7"/><stop offset="0.083" stop-color="#f2eac7"/><stop offset="0.125" stop-color="#f3e8c1"/><stop offset="0.167" stop-color="#f6e6ba"/><stop offset="0.208" stop-color="#f7e5b7"/><stop offset="0.250" stop-color="#f7e5b7"/><stop offset="0.292" stop-color="#f4e7be"/><stop offset="0.333" stop-color="#ecebd0"/><stop offset="0.375" stop-color="#e8eedc"/><stop offset="0.417" stop-color="#ebedd5"/><stop offset="0.458" stop-color="#f1eac8"/><stop offset="0.500" stop-color="#f2eac7"/><stop offset="0.542" stop-color="#edeacf"/><stop offset="0.583" stop-color="#e0ebe9"/><stop offset="0.625" stop-color="#daebf3"/><stop offset="0.667" stop-color="#cde5f0"/><stop offset="0.708" stop-color="#c3e0ed"/><stop offset="0.750" stop-color="#bfddec"/><stop offset="0.792" stop-color="#afd5e8"/><stop offset="0.833" stop-color="#a5cfe6"/><stop offset="0.875" stop-color="#a0cbe4"/><stop offset="0.917" stop-color="#92c0df"/><stop offset="0.958" stop-color="#87b7db"/><stop offset="1.000" stop-color="#85b6db"/></linearGradient><linearGradient id="w61" gradientUnits="userSpaceOnUse" x1="0" y1="296.1" x2="0" y2="437.8"><stop offset="0.000" stop-color="#f1e9c6"/><stop offset="0.040" stop-color="#f1e9c6"/><stop offset="0.080" stop-color="#f1e9c6"/><stop offset="0.120" stop-color="#f3e8c1"/><stop offset="0.160" stop-color="#f5e5ba"/><stop offset="0.200" stop-color="#f6e4b6"/><stop offset="0.240" stop-color="#f6e4b6"/><stop offset="0.280" stop-color="#f3e6be"/><stop offset="0.320" stop-color="#ecebd0"/><stop offset="0.360" stop-color="#e8eedc"/><stop offset="0.400" stop-color="#ececd3"/><stop offset="0.440" stop-color="#f1e9c7"/><stop offset="0.480" stop-color="#f1e9c6"/><stop offset="0.520" stop-color="#e9ead7"/><stop offset="0.560" stop-color="#dbebf2"/><stop offset="0.600" stop-color="#d5e9f2"/><stop offset="0.640" stop-color="#c4e0ed"/><stop offset="0.680" stop-color="#c1dfec"/><stop offset="0.720" stop-color="#b4d7e9"/><stop offset="0.760" stop-color="#a5cfe5"/><stop offset="0.800" stop-color="#a3cde5"/><stop offset="0.840" stop-color="#97c4e1"/><stop offset="0.880" stop-color="#89b9dc"/><stop offset="0.920" stop-color="#84b5da"/><stop offset="0.960" stop-color="#84b5da"/><stop offset="1.000" stop-color="#79acd6"/></linearGradient><linearGradient id="w62" gradientUnits="userSpaceOnUse" x1="0" y1="295.5" x2="0" y2="447.2"><stop offset="0.000" stop-color="#f7efcc"/><stop offset="0.037" stop-color="#f7efcc"/><stop offset="0.074" stop-color="#f7efcc"/><stop offset="0.111" stop-color="#f8edc6"/><stop offset="0.148" stop-color="#fbebbf"/><stop offset="0.185" stop-color="#fceabc"/><stop offset="0.222" stop-color="#fceabc"/><stop offset="0.259" stop-color="#f9ecc3"/><stop offset="0.296" stop-color="#f2f0d5"/><stop offset="0.333" stop-color="#edf4e1"/><stop offset="0.370" stop-color="#eff2dc"/><stop offset="0.407" stop-color="#f5f0d1"/><stop offset="0.444" stop-color="#f7efcc"/><stop offset="0.481" stop-color="#f6efcc"/><stop offset="0.519" stop-color="#eeefdc"/><stop offset="0.556" stop-color="#e3f0f2"/><stop offset="0.593" stop-color="#e0f1f9"/><stop offset="0.630" stop-color="#d4ebf5"/><stop offset="0.667" stop-color="#c8e5f2"/><stop offset="0.704" stop-color="#c8e5f2"/><stop offset="0.741" stop-color="#baddef"/><stop offset="0.778" stop-color="#abd5eb"/><stop offset="0.815" stop-color="#aad4eb"/><stop offset="0.852" stop-color="#9ecae7"/><stop offset="0.889" stop-color="#8fbfe1"/><stop offset="0.926" stop-color="#8abbe0"/><stop offset="0.963" stop-color="#89badf"/><stop offset="1.000" stop-color="#7cafda"/></linearGradient><linearGradient id="w63" gradientUnits="userSpaceOnUse" x1="0" y1="294.9" x2="0" y2="459.7"><stop offset="0.000" stop-color="#f0e8c5"/><stop offset="0.034" stop-color="#f0e8c5"/><stop offset="0.069" stop-color="#f0e8c5"/><stop offset="0.103" stop-color="#f2e6c0"/><stop offset="0.138" stop-color="#f4e4b8"/><stop offset="0.172" stop-color="#f5e3b5"/><stop offset="0.207" stop-color="#f5e3b5"/><stop offset="0.241" stop-color="#f1e6bf"/><stop offset="0.276" stop-color="#eaead1"/><stop offset="0.310" stop-color="#e6edda"/><stop offset="0.345" stop-color="#eaebd2"/><stop offset="0.379" stop-color="#efe9c8"/><stop offset="0.414" stop-color="#f0e8c5"/><stop offset="0.448" stop-color="#eee8c8"/><stop offset="0.483" stop-color="#e4e9dd"/><stop offset="0.517" stop-color="#d9eaf2"/><stop offset="0.552" stop-color="#d6e9f1"/><stop offset="0.586" stop-color="#c8e1ed"/><stop offset="0.621" stop-color="#c1deeb"/><stop offset="0.655" stop-color="#bddcea"/><stop offset="0.690" stop-color="#aed3e7"/><stop offset="0.724" stop-color="#a4cee4"/><stop offset="0.759" stop-color="#9fcae3"/><stop offset="0.793" stop-color="#92c0de"/><stop offset="0.828" stop-color="#85b5da"/><stop offset="0.862" stop-color="#83b4d9"/><stop offset="0.897" stop-color="#7caed6"/><stop offset="0.931" stop-color="#6ea2d1"/><stop offset="0.966" stop-color="#679cce"/><stop offset="1.000" stop-color="#679cce"/></linearGradient><linearGradient id="w64" gradientUnits="userSpaceOnUse" x1="0" y1="295.2" x2="0" y2="469.6"><stop offset="0.000" stop-color="#efe7c4"/><stop offset="0.032" stop-color="#efe7c4"/><stop offset="0.065" stop-color="#efe7c4"/><stop offset="0.097" stop-color="#f1e5be"/><stop offset="0.129" stop-color="#f3e3b6"/><stop offset="0.161" stop-color="#f4e2b4"/><stop offset="0.194" stop-color="#f4e2b4"/><stop offset="0.226" stop-color="#efe5c0"/><stop offset="0.258" stop-color="#e8ead3"/><stop offset="0.290" stop-color="#e6ecd9"/><stop offset="0.323" stop-color="#e9ead1"/><stop offset="0.355" stop-color="#eee8c7"/><stop offset="0.387" stop-color="#efe7c4"/><stop offset="0.419" stop-color="#efe7c4"/><stop offset="0.452" stop-color="#e8e8d3"/><stop offset="0.484" stop-color="#dee9e6"/><stop offset="0.516" stop-color="#d8e9f1"/><stop offset="0.548" stop-color="#d3e7f0"/><stop offset="0.581" stop-color="#c7e0ec"/><stop offset="0.613" stop-color="#c0ddea"/><stop offset="0.645" stop-color="#bddbe9"/><stop offset="0.677" stop-color="#afd3e6"/><stop offset="0.710" stop-color="#a3cde3"/><stop offset="0.742" stop-color="#9fcae2"/><stop offset="0.774" stop-color="#92c0de"/><stop offset="0.806" stop-color="#84b5d9"/><stop offset="0.839" stop-color="#82b3d8"/><stop offset="0.871" stop-color="#7badd5"/><stop offset="0.903" stop-color="#6da1d0"/><stop offset="0.935" stop-color="#669bcd"/><stop offset="0.968" stop-color="#669bcd"/><stop offset="1.000" stop-color="#669bcd"/></linearGradient><linearGradient id="w65" gradientUnits="userSpaceOnUse" x1="0" y1="296.3" x2="0" y2="467.9"><stop offset="0.000" stop-color="#f5edca"/><stop offset="0.032" stop-color="#f5edca"/><stop offset="0.065" stop-color="#f5edca"/><stop offset="0.097" stop-color="#f8ebc2"/><stop offset="0.129" stop-color="#fae8bb"/><stop offset="0.161" stop-color="#fae8ba"/><stop offset="0.194" stop-color="#fae8ba"/><stop offset="0.226" stop-color="#f4eccb"/><stop offset="0.258" stop-color="#ecf1dd"/><stop offset="0.290" stop-color="#ecf2de"/><stop offset="0.323" stop-color="#f0f0d5"/><stop offset="0.355" stop-color="#f5edcb"/><stop offset="0.387" stop-color="#f5edca"/><stop offset="0.419" stop-color="#f5edca"/><stop offset="0.452" stop-color="#eeeed8"/><stop offset="0.484" stop-color="#e5efeb"/><stop offset="0.516" stop-color="#deeff7"/><stop offset="0.548" stop-color="#ddeff7"/><stop offset="0.581" stop-color="#d2e9f3"/><stop offset="0.613" stop-color="#c6e3f0"/><stop offset="0.645" stop-color="#c6e3f0"/><stop offset="0.677" stop-color="#bddeee"/><stop offset="0.710" stop-color="#aed6eb"/><stop offset="0.742" stop-color="#a8d2e9"/><stop offset="0.774" stop-color="#a1cde7"/><stop offset="0.806" stop-color="#91c0e1"/><stop offset="0.839" stop-color="#88b9de"/><stop offset="0.871" stop-color="#87b8de"/><stop offset="0.903" stop-color="#79acd8"/><stop offset="0.935" stop-color="#6ca1d3"/><stop offset="0.968" stop-color="#6ca1d3"/><stop offset="1.000" stop-color="#6ca1d3"/></linearGradient><linearGradient id="w66" gradientUnits="userSpaceOnUse" x1="0" y1="297.4" x2="0" y2="466.7"><stop offset="0.000" stop-color="#f8f0cd"/><stop offset="0.033" stop-color="#f8f0cd"/><stop offset="0.067" stop-color="#f8efcb"/><stop offset="0.100" stop-color="#fbedc4"/><stop offset="0.133" stop-color="#fcebbf"/><stop offset="0.167" stop-color="#fcebbf"/><stop offset="0.200" stop-color="#f9edc5"/><stop offset="0.233" stop-color="#f2f2d7"/><stop offset="0.267" stop-color="#eef5e2"/><stop offset="0.300" stop-color="#f1f3dc"/><stop offset="0.333" stop-color="#f5f1d2"/><stop offset="0.367" stop-color="#f8f0cd"/><stop offset="0.400" stop-color="#f8f0cd"/><stop offset="0.433" stop-color="#f5f0d3"/><stop offset="0.467" stop-color="#ecf1e4"/><stop offset="0.500" stop-color="#e3f2f6"/><stop offset="0.533" stop-color="#e1f2fa"/><stop offset="0.567" stop-color="#dbeff8"/><stop offset="0.600" stop-color="#cfe9f5"/><stop offset="0.633" stop-color="#c9e6f3"/><stop offset="0.667" stop-color="#c8e6f3"/><stop offset="0.700" stop-color="#b9ddef"/><stop offset="0.733" stop-color="#abd5ec"/><stop offset="0.767" stop-color="#abd5ec"/><stop offset="0.800" stop-color="#9cc9e7"/><stop offset="0.833" stop-color="#8bbce1"/><stop offset="0.867" stop-color="#8bbce1"/><stop offset="0.900" stop-color="#82b5dd"/><stop offset="0.933" stop-color="#76aad8"/><stop offset="0.967" stop-color="#72a7d7"/><stop offset="1.000" stop-color="#72a7d7"/></linearGradient><linearGradient id="w67" gradientUnits="userSpaceOnUse" x1="0" y1="299.6" x2="0" y2="465.2"><stop offset="0.000" stop-color="#f8f0cd"/><stop offset="0.033" stop-color="#f8f0cd"/><stop offset="0.067" stop-color="#f9efca"/><stop offset="0.100" stop-color="#faedc5"/><stop offset="0.133" stop-color="#fbedc3"/><stop offset="0.167" stop-color="#faedc5"/><stop offset="0.200" stop-color="#f6f0d0"/><stop offset="0.233" stop-color="#f0f3dd"/><stop offset="0.267" stop-color="#eff4e1"/><stop offset="0.300" stop-color="#f3f2d8"/><stop offset="0.333" stop-color="#f7f0cf"/><stop offset="0.367" stop-color="#f8f0cd"/><stop offset="0.400" stop-color="#f7f0cf"/><stop offset="0.433" stop-color="#eff1df"/><stop offset="0.467" stop-color="#e5f2f2"/><stop offset="0.500" stop-color="#e1f2fa"/><stop offset="0.533" stop-color="#ddf0f9"/><stop offset="0.567" stop-color="#d2eaf6"/><stop offset="0.600" stop-color="#c9e6f3"/><stop offset="0.633" stop-color="#c9e6f3"/><stop offset="0.667" stop-color="#bddff0"/><stop offset="0.700" stop-color="#aed7ed"/><stop offset="0.733" stop-color="#abd5ec"/><stop offset="0.767" stop-color="#a2cee9"/><stop offset="0.800" stop-color="#93c2e4"/><stop offset="0.833" stop-color="#8bbce1"/><stop offset="0.867" stop-color="#89bae0"/><stop offset="0.900" stop-color="#80b2dd"/><stop offset="0.933" stop-color="#79adda"/><stop offset="0.967" stop-color="#79adda"/><stop offset="1.000" stop-color="#79adda"/></linearGradient><linearGradient id="w68" gradientUnits="userSpaceOnUse" x1="0" y1="302.4" x2="0" y2="462.8"><stop offset="0.000" stop-color="#f4ecc9"/><stop offset="0.034" stop-color="#f4ebc8"/><stop offset="0.069" stop-color="#f5eac5"/><stop offset="0.103" stop-color="#f5eac3"/><stop offset="0.138" stop-color="#f5eac3"/><stop offset="0.172" stop-color="#f2ebca"/><stop offset="0.207" stop-color="#ecefd8"/><stop offset="0.241" stop-color="#eaf0de"/><stop offset="0.276" stop-color="#edefd6"/><stop offset="0.310" stop-color="#f2eccc"/><stop offset="0.345" stop-color="#f4ecc9"/><stop offset="0.379" stop-color="#f4ecc9"/><stop offset="0.414" stop-color="#eeecd4"/><stop offset="0.448" stop-color="#e4ede6"/><stop offset="0.483" stop-color="#ddeef5"/><stop offset="0.517" stop-color="#ddeef6"/><stop offset="0.552" stop-color="#d2e8f3"/><stop offset="0.586" stop-color="#c7e3ef"/><stop offset="0.621" stop-color="#c5e2ef"/><stop offset="0.655" stop-color="#c0dfed"/><stop offset="0.690" stop-color="#b1d6ea"/><stop offset="0.724" stop-color="#a7d1e8"/><stop offset="0.759" stop-color="#a5cfe7"/><stop offset="0.793" stop-color="#96c4e2"/><stop offset="0.828" stop-color="#89b9dd"/><stop offset="0.862" stop-color="#87b8dd"/><stop offset="0.897" stop-color="#82b4db"/><stop offset="0.931" stop-color="#7dafd9"/><stop offset="0.966" stop-color="#7cafd8"/><stop offset="1.000" stop-color="#7cafd8"/></linearGradient><linearGradient id="w69" gradientUnits="userSpaceOnUse" x1="0" y1="305.2" x2="0" y2="460.2"><stop offset="0.000" stop-color="#f4ecc9"/><stop offset="0.036" stop-color="#f4ecc8"/><stop offset="0.071" stop-color="#f4ebc7"/><stop offset="0.107" stop-color="#f4ebc7"/><stop offset="0.143" stop-color="#f2eccb"/><stop offset="0.179" stop-color="#edefd6"/><stop offset="0.214" stop-color="#eaf0de"/><stop offset="0.250" stop-color="#ecefd9"/><stop offset="0.286" stop-color="#f1edcf"/><stop offset="0.321" stop-color="#f4ecc9"/><stop offset="0.357" stop-color="#f4ecc9"/><stop offset="0.393" stop-color="#f1ecce"/><stop offset="0.429" stop-color="#e8ede0"/><stop offset="0.464" stop-color="#dfeef1"/><stop offset="0.500" stop-color="#ddeef6"/><stop offset="0.536" stop-color="#d8ebf4"/><stop offset="0.571" stop-color="#cde6f1"/><stop offset="0.607" stop-color="#c5e2ef"/><stop offset="0.643" stop-color="#c5e2ef"/><stop offset="0.679" stop-color="#b8dbec"/><stop offset="0.714" stop-color="#a9d2e8"/><stop offset="0.750" stop-color="#a7d1e8"/><stop offset="0.786" stop-color="#9ecae5"/><stop offset="0.821" stop-color="#90bfe0"/><stop offset="0.857" stop-color="#87b8dd"/><stop offset="0.893" stop-color="#86b7dc"/><stop offset="0.929" stop-color="#84b6dc"/><stop offset="0.964" stop-color="#83b5db"/><stop offset="1.000" stop-color="#83b5db"/></linearGradient><linearGradient id="w70" gradientUnits="userSpaceOnUse" x1="0" y1="305.7" x2="0" y2="457.8"><stop offset="0.000" stop-color="#efe7c4"/><stop offset="0.037" stop-color="#efe7c4"/><stop offset="0.074" stop-color="#efe7c4"/><stop offset="0.111" stop-color="#efe7c5"/><stop offset="0.148" stop-color="#ebe9cc"/><stop offset="0.185" stop-color="#e7ebd7"/><stop offset="0.222" stop-color="#e6ecd9"/><stop offset="0.259" stop-color="#eae9cf"/><stop offset="0.296" stop-color="#eee7c6"/><stop offset="0.333" stop-color="#f0e6c2"/><stop offset="0.370" stop-color="#f0e6c2"/><stop offset="0.407" stop-color="#ede7c8"/><stop offset="0.444" stop-color="#e5e8d8"/><stop offset="0.481" stop-color="#dce9e9"/><stop offset="0.519" stop-color="#d8e9f1"/><stop offset="0.556" stop-color="#d8e9f1"/><stop offset="0.593" stop-color="#cee4ee"/><stop offset="0.630" stop-color="#c2deeb"/><stop offset="0.667" stop-color="#c0ddea"/><stop offset="0.704" stop-color="#b9d9e9"/><stop offset="0.741" stop-color="#aad1e5"/><stop offset="0.778" stop-color="#a2cce3"/><stop offset="0.815" stop-color="#9ec9e2"/><stop offset="0.852" stop-color="#90bedd"/><stop offset="0.889" stop-color="#83b4d9"/><stop offset="0.926" stop-color="#82b3d8"/><stop offset="0.963" stop-color="#82b3d8"/><stop offset="1.000" stop-color="#82b3d8"/></linearGradient><linearGradient id="w71" gradientUnits="userSpaceOnUse" x1="0" y1="306.0" x2="0" y2="456.0"><stop offset="0.000" stop-color="#f6eecb"/><stop offset="0.037" stop-color="#f6eecb"/><stop offset="0.074" stop-color="#f6eecb"/><stop offset="0.111" stop-color="#f6efcd"/><stop offset="0.148" stop-color="#f1f1d6"/><stop offset="0.185" stop-color="#edf3df"/><stop offset="0.222" stop-color="#eef2dd"/><stop offset="0.259" stop-color="#f2efd2"/><stop offset="0.296" stop-color="#f7edc8"/><stop offset="0.333" stop-color="#f8ecc5"/><stop offset="0.370" stop-color="#f8ecc6"/><stop offset="0.407" stop-color="#f0eed5"/><stop offset="0.444" stop-color="#e7efe9"/><stop offset="0.481" stop-color="#dff0f8"/><stop offset="0.519" stop-color="#dff0f8"/><stop offset="0.556" stop-color="#d5ebf5"/><stop offset="0.593" stop-color="#cae5f2"/><stop offset="0.630" stop-color="#c7e4f1"/><stop offset="0.667" stop-color="#c0e0ef"/><stop offset="0.704" stop-color="#b0d7ec"/><stop offset="0.741" stop-color="#a9d3ea"/><stop offset="0.778" stop-color="#a4cfe9"/><stop offset="0.815" stop-color="#97c5e4"/><stop offset="0.852" stop-color="#8cbce0"/><stop offset="0.889" stop-color="#89badf"/><stop offset="0.926" stop-color="#89badf"/><stop offset="0.963" stop-color="#89badf"/><stop offset="1.000" stop-color="#89badf"/></linearGradient><linearGradient id="w72" gradientUnits="userSpaceOnUse" x1="0" y1="306.2" x2="0" y2="454.3"><stop offset="0.000" stop-color="#f6eecb"/><stop offset="0.038" stop-color="#f6eecb"/><stop offset="0.077" stop-color="#f6eecb"/><stop offset="0.115" stop-color="#f4eece"/><stop offset="0.154" stop-color="#eff1da"/><stop offset="0.192" stop-color="#ecf3e0"/><stop offset="0.231" stop-color="#eff0d8"/><stop offset="0.269" stop-color="#f5edca"/><stop offset="0.308" stop-color="#f8ebc2"/><stop offset="0.346" stop-color="#f9ebc1"/><stop offset="0.385" stop-color="#f9ebc1"/><stop offset="0.423" stop-color="#f1ecd1"/><stop offset="0.462" stop-color="#e8eee4"/><stop offset="0.500" stop-color="#e0f0f6"/><stop offset="0.538" stop-color="#dff0f8"/><stop offset="0.577" stop-color="#dbeef7"/><stop offset="0.615" stop-color="#cfe8f3"/><stop offset="0.654" stop-color="#c7e4f1"/><stop offset="0.692" stop-color="#c4e2f0"/><stop offset="0.731" stop-color="#b5daec"/><stop offset="0.769" stop-color="#aad4ea"/><stop offset="0.808" stop-color="#a5d0e9"/><stop offset="0.846" stop-color="#99c7e4"/><stop offset="0.885" stop-color="#8cbde0"/><stop offset="0.923" stop-color="#89badf"/><stop offset="0.962" stop-color="#89badf"/><stop offset="1.000" stop-color="#89badf"/></linearGradient><linearGradient id="w73" gradientUnits="userSpaceOnUse" x1="0" y1="307.5" x2="0" y2="453.4"><stop offset="0.000" stop-color="#f3ebc8"/><stop offset="0.038" stop-color="#f3ebc8"/><stop offset="0.077" stop-color="#f3ebc8"/><stop offset="0.115" stop-color="#f0edcf"/><stop offset="0.154" stop-color="#eaf0dc"/><stop offset="0.192" stop-color="#e9f0de"/><stop offset="0.231" stop-color="#eeecd0"/><stop offset="0.269" stop-color="#f5e8c1"/><stop offset="0.308" stop-color="#f7e7ba"/><stop offset="0.346" stop-color="#f7e7ba"/><stop offset="0.385" stop-color="#f2e8c5"/><stop offset="0.423" stop-color="#e8eadc"/><stop offset="0.462" stop-color="#ddedf2"/><stop offset="0.500" stop-color="#dcedf5"/><stop offset="0.538" stop-color="#d6eaf3"/><stop offset="0.577" stop-color="#cae4f0"/><stop offset="0.615" stop-color="#c4e1ee"/><stop offset="0.654" stop-color="#bdddec"/><stop offset="0.692" stop-color="#add4e9"/><stop offset="0.731" stop-color="#a6d0e7"/><stop offset="0.769" stop-color="#a0cbe5"/><stop offset="0.808" stop-color="#93c1e0"/><stop offset="0.846" stop-color="#87b8dc"/><stop offset="0.885" stop-color="#86b7dc"/><stop offset="0.923" stop-color="#86b7dc"/><stop offset="0.962" stop-color="#86b7dc"/><stop offset="1.000" stop-color="#86b7dc"/></linearGradient><linearGradient id="w74" gradientUnits="userSpaceOnUse" x1="0" y1="309.0" x2="0" y2="452.5"><stop offset="0.000" stop-color="#f2eac7"/><stop offset="0.038" stop-color="#f2eac7"/><stop offset="0.077" stop-color="#f2eac7"/><stop offset="0.115" stop-color="#ececd2"/><stop offset="0.154" stop-color="#e8efdd"/><stop offset="0.192" stop-color="#e9eed9"/><stop offset="0.231" stop-color="#f0eac9"/><stop offset="0.269" stop-color="#f5e6ba"/><stop offset="0.308" stop-color="#f7e5b7"/><stop offset="0.346" stop-color="#f7e5b7"/><stop offset="0.385" stop-color="#f3e6bf"/><stop offset="0.423" stop-color="#ebe9d2"/><stop offset="0.462" stop-color="#e3ebe3"/><stop offset="0.500" stop-color="#ddecef"/><stop offset="0.538" stop-color="#dbecf3"/><stop offset="0.577" stop-color="#d5e9f2"/><stop offset="0.615" stop-color="#cbe4ef"/><stop offset="0.654" stop-color="#c4e0ed"/><stop offset="0.692" stop-color="#bdddec"/><stop offset="0.731" stop-color="#aed4e8"/><stop offset="0.769" stop-color="#a5cfe6"/><stop offset="0.808" stop-color="#a0cbe4"/><stop offset="0.846" stop-color="#93c1e0"/><stop offset="0.885" stop-color="#86b6db"/><stop offset="0.923" stop-color="#85b6db"/><stop offset="0.962" stop-color="#85b6db"/><stop offset="1.000" stop-color="#85b6db"/></linearGradient><linearGradient id="w75" gradientUnits="userSpaceOnUse" x1="0" y1="310.7" x2="0" y2="449.8"><stop offset="0.000" stop-color="#f5edca"/><stop offset="0.040" stop-color="#f5edca"/><stop offset="0.080" stop-color="#f4edcc"/><stop offset="0.120" stop-color="#ecf1dc"/><stop offset="0.160" stop-color="#ebf2e0"/><stop offset="0.200" stop-color="#f0eed3"/><stop offset="0.240" stop-color="#f6eac3"/><stop offset="0.280" stop-color="#fae8ba"/><stop offset="0.320" stop-color="#fae8ba"/><stop offset="0.360" stop-color="#f6eac3"/><stop offset="0.400" stop-color="#eeeed6"/><stop offset="0.440" stop-color="#e9f1e3"/><stop offset="0.480" stop-color="#e3f0ed"/><stop offset="0.520" stop-color="#ddeef7"/><stop offset="0.560" stop-color="#d9ecf5"/><stop offset="0.600" stop-color="#cbe6f1"/><stop offset="0.640" stop-color="#c5e2f0"/><stop offset="0.680" stop-color="#bcdded"/><stop offset="0.720" stop-color="#acd4ea"/><stop offset="0.760" stop-color="#a7d1e8"/><stop offset="0.800" stop-color="#9bc8e4"/><stop offset="0.840" stop-color="#8cbcdf"/><stop offset="0.880" stop-color="#88b9de"/><stop offset="0.920" stop-color="#88b9de"/><stop offset="0.960" stop-color="#88b9de"/><stop offset="1.000" stop-color="#88b9de"/></linearGradient><linearGradient id="w76" gradientUnits="userSpaceOnUse" x1="0" y1="312.7" x2="0" y2="440.2"><stop offset="0.000" stop-color="#f1efd7"/><stop offset="0.043" stop-color="#f1efd7"/><stop offset="0.087" stop-color="#eef1de"/><stop offset="0.130" stop-color="#eaf3e8"/><stop offset="0.174" stop-color="#edf2e1"/><stop offset="0.217" stop-color="#f5efce"/><stop offset="0.261" stop-color="#fbebbf"/><stop offset="0.304" stop-color="#fceabc"/><stop offset="0.348" stop-color="#fbeabd"/><stop offset="0.391" stop-color="#f8ecc5"/><stop offset="0.435" stop-color="#f2f0d4"/><stop offset="0.478" stop-color="#edf4e2"/><stop offset="0.522" stop-color="#ecf4e3"/><stop offset="0.565" stop-color="#e5f2ef"/><stop offset="0.609" stop-color="#e0f1f9"/><stop offset="0.652" stop-color="#e0f1f9"/><stop offset="0.696" stop-color="#d2eaf5"/><stop offset="0.739" stop-color="#c8e5f2"/><stop offset="0.783" stop-color="#c6e4f1"/><stop offset="0.826" stop-color="#b8dcee"/><stop offset="0.870" stop-color="#b1d8ed"/><stop offset="0.913" stop-color="#acd4eb"/><stop offset="0.957" stop-color="#a0cbe7"/><stop offset="1.000" stop-color="#99c5e4"/></linearGradient><linearGradient id="w77" gradientUnits="userSpaceOnUse" x1="0" y1="316.1" x2="0" y2="420.4"><stop offset="0.000" stop-color="#dde8e5"/><stop offset="0.056" stop-color="#dde8e6"/><stop offset="0.111" stop-color="#dbe9ea"/><stop offset="0.167" stop-color="#dee9e4"/><stop offset="0.222" stop-color="#eee7c5"/><stop offset="0.278" stop-color="#f2e3b9"/><stop offset="0.333" stop-color="#f3e1b3"/><stop offset="0.389" stop-color="#f1e4ba"/><stop offset="0.444" stop-color="#ede7c6"/><stop offset="0.500" stop-color="#e5ebd8"/><stop offset="0.556" stop-color="#e3ebdc"/><stop offset="0.611" stop-color="#dbe9eb"/><stop offset="0.667" stop-color="#d7e8f0"/><stop offset="0.722" stop-color="#d0e5ee"/><stop offset="0.778" stop-color="#c0ddea"/><stop offset="0.833" stop-color="#bfdce9"/><stop offset="0.889" stop-color="#bcdae8"/><stop offset="0.944" stop-color="#b8d8e8"/><stop offset="1.000" stop-color="#b7d7e7"/></linearGradient><linearGradient id="w78" gradientUnits="userSpaceOnUse" x1="0" y1="319.9" x2="0" y2="411.0"><stop offset="0.000" stop-color="#ddeef6"/><stop offset="0.062" stop-color="#ddeef6"/><stop offset="0.125" stop-color="#ddeef6"/><stop offset="0.188" stop-color="#efedd4"/><stop offset="0.250" stop-color="#f6ebc5"/><stop offset="0.312" stop-color="#f9e7b9"/><stop offset="0.375" stop-color="#f9e8bb"/><stop offset="0.438" stop-color="#f5ebc7"/><stop offset="0.500" stop-color="#f1eed0"/><stop offset="0.562" stop-color="#eaf1df"/><stop offset="0.625" stop-color="#e9f1e1"/><stop offset="0.688" stop-color="#e2efed"/><stop offset="0.750" stop-color="#ddeef6"/><stop offset="0.812" stop-color="#dbedf6"/><stop offset="0.875" stop-color="#cfe7f2"/><stop offset="0.938" stop-color="#c5e2ef"/><stop offset="1.000" stop-color="#c5e2ef"/></linearGradient><linearGradient id="w79" gradientUnits="userSpaceOnUse" x1="0" y1="321.7" x2="0" y2="407.0"><stop offset="0.000" stop-color="#deeff7"/><stop offset="0.067" stop-color="#deeff7"/><stop offset="0.133" stop-color="#e0eef2"/><stop offset="0.200" stop-color="#f5edc9"/><stop offset="0.267" stop-color="#f8e9be"/><stop offset="0.333" stop-color="#f9e8bb"/><stop offset="0.400" stop-color="#f6ebc5"/><stop offset="0.467" stop-color="#f0efd4"/><stop offset="0.533" stop-color="#eaf1e1"/><stop offset="0.600" stop-color="#e5f0ea"/><stop offset="0.667" stop-color="#dfeff5"/><stop offset="0.733" stop-color="#daedf5"/><stop offset="0.800" stop-color="#cde6f2"/><stop offset="0.867" stop-color="#c6e3f0"/><stop offset="0.933" stop-color="#c6e3f0"/><stop offset="1.000" stop-color="#c6e3f0"/></linearGradient><linearGradient id="w80" gradientUnits="userSpaceOnUse" x1="0" y1="323.6" x2="0" y2="406.0"><stop offset="0.000" stop-color="#dbecf4"/><stop offset="0.071" stop-color="#dbecf4"/><stop offset="0.143" stop-color="#e9ebd9"/><stop offset="0.214" stop-color="#f4e9c2"/><stop offset="0.286" stop-color="#f7e5b8"/><stop offset="0.357" stop-color="#f6e7bd"/><stop offset="0.429" stop-color="#f3eac5"/><stop offset="0.500" stop-color="#ecedd5"/><stop offset="0.571" stop-color="#e8efdd"/><stop offset="0.643" stop-color="#e4eee5"/><stop offset="0.714" stop-color="#deedf0"/><stop offset="0.786" stop-color="#dbecf4"/><stop offset="0.857" stop-color="#d4e8f2"/><stop offset="0.929" stop-color="#c8e3ef"/><stop offset="1.000" stop-color="#c3e0ed"/></linearGradient><linearGradient id="w81" gradientUnits="userSpaceOnUse" x1="0" y1="324.0" x2="0" y2="404.2"><stop offset="0.000" stop-color="#e0f1f9"/><stop offset="0.071" stop-color="#e0f1f9"/><stop offset="0.143" stop-color="#f0f0da"/><stop offset="0.214" stop-color="#faedc5"/><stop offset="0.286" stop-color="#fceabd"/><stop offset="0.357" stop-color="#faecc3"/><stop offset="0.429" stop-color="#f8efcb"/><stop offset="0.500" stop-color="#f1f3db"/><stop offset="0.571" stop-color="#eef4e2"/><stop offset="0.643" stop-color="#e9f3ea"/><stop offset="0.714" stop-color="#e3f2f5"/><stop offset="0.786" stop-color="#e1f1f9"/><stop offset="0.857" stop-color="#dceff8"/><stop offset="0.929" stop-color="#cde8f4"/><stop offset="1.000" stop-color="#c9e6f2"/></linearGradient><linearGradient id="w82" gradientUnits="userSpaceOnUse" x1="0" y1="323.6" x2="0" y2="402.4"><stop offset="0.000" stop-color="#e0f1f9"/><stop offset="0.071" stop-color="#e0f1f9"/><stop offset="0.143" stop-color="#edf0de"/><stop offset="0.214" stop-color="#f9edc5"/><stop offset="0.286" stop-color="#fceabc"/><stop offset="0.357" stop-color="#faecc2"/><stop offset="0.429" stop-color="#f6efcd"/><stop offset="0.500" stop-color="#eff2dc"/><stop offset="0.571" stop-color="#edf4e2"/><stop offset="0.643" stop-color="#e8f3eb"/><stop offset="0.714" stop-color="#e1f1f6"/><stop offset="0.786" stop-color="#e0f1f9"/><stop offset="0.857" stop-color="#d9edf7"/><stop offset="0.929" stop-color="#cae6f2"/><stop offset="1.000" stop-color="#c8e5f2"/></linearGradient><linearGradient id="w83" gradientUnits="userSpaceOnUse" x1="0" y1="323.5" x2="0" y2="400.8"><stop offset="0.000" stop-color="#daebf3"/><stop offset="0.071" stop-color="#daebf3"/><stop offset="0.143" stop-color="#e8ead9"/><stop offset="0.214" stop-color="#f4e7be"/><stop offset="0.286" stop-color="#f6e4b6"/><stop offset="0.357" stop-color="#f3e7c0"/><stop offset="0.429" stop-color="#efeacb"/><stop offset="0.500" stop-color="#e7eedc"/><stop offset="0.571" stop-color="#e4ede1"/><stop offset="0.643" stop-color="#dcecef"/><stop offset="0.714" stop-color="#daebf3"/><stop offset="0.786" stop-color="#d0e6f0"/><stop offset="0.857" stop-color="#c3dfec"/><stop offset="0.929" stop-color="#c2dfec"/><stop offset="1.000" stop-color="#c2dfec"/></linearGradient><linearGradient id="w84" gradientUnits="userSpaceOnUse" x1="0" y1="323.5" x2="0" y2="399.9"><stop offset="0.000" stop-color="#e0f1f9"/><stop offset="0.077" stop-color="#e0f1f9"/><stop offset="0.154" stop-color="#f4efd1"/><stop offset="0.231" stop-color="#fbebbf"/><stop offset="0.308" stop-color="#fbeabd"/><stop offset="0.385" stop-color="#f7eec9"/><stop offset="0.462" stop-color="#f3f1d4"/><stop offset="0.538" stop-color="#edf4e2"/><stop offset="0.615" stop-color="#eaf3e7"/><stop offset="0.692" stop-color="#e2f1f4"/><stop offset="0.769" stop-color="#e0f1f9"/><stop offset="0.846" stop-color="#d9edf7"/><stop offset="0.923" stop-color="#cbe6f3"/><stop offset="1.000" stop-color="#c8e5f2"/></linearGradient><linearGradient id="w85" gradientUnits="userSpaceOnUse" x1="0" y1="326.8" x2="0" y2="398.9"><stop offset="0.000" stop-color="#d7e8f0"/><stop offset="0.077" stop-color="#d7e8f0"/><stop offset="0.154" stop-color="#f0e5be"/><stop offset="0.231" stop-color="#f3e1b4"/><stop offset="0.308" stop-color="#f2e3b9"/><stop offset="0.385" stop-color="#efe6c3"/><stop offset="0.462" stop-color="#e8e9d1"/><stop offset="0.538" stop-color="#e4ebd9"/><stop offset="0.615" stop-color="#e1ebdf"/><stop offset="0.692" stop-color="#dae9eb"/><stop offset="0.769" stop-color="#d7e8f0"/><stop offset="0.846" stop-color="#d4e7ef"/><stop offset="0.923" stop-color="#c6e0eb"/><stop offset="1.000" stop-color="#c0dce9"/></linearGradient><linearGradient id="w86" gradientUnits="userSpaceOnUse" x1="0" y1="327.2" x2="0" y2="398.1"><stop offset="0.000" stop-color="#e0edf0"/><stop offset="0.083" stop-color="#e0edee"/><stop offset="0.167" stop-color="#f7e8be"/><stop offset="0.250" stop-color="#f8e7ba"/><stop offset="0.333" stop-color="#f4ebc7"/><stop offset="0.417" stop-color="#eeeed5"/><stop offset="0.500" stop-color="#e9f1df"/><stop offset="0.583" stop-color="#e3efea"/><stop offset="0.667" stop-color="#ddeef6"/><stop offset="0.750" stop-color="#daecf5"/><stop offset="0.833" stop-color="#c9e4f0"/><stop offset="0.917" stop-color="#c5e2ef"/><stop offset="1.000" stop-color="#c5e2ef"/></linearGradient><linearGradient id="w87" gradientUnits="userSpaceOnUse" x1="0" y1="325.7" x2="0" y2="397.3"><stop offset="0.000" stop-color="#e9f0e8"/><stop offset="0.077" stop-color="#e9f0e7"/><stop offset="0.154" stop-color="#f9edc5"/><stop offset="0.231" stop-color="#fcebbe"/><stop offset="0.308" stop-color="#f9edc5"/><stop offset="0.385" stop-color="#f5f0d2"/><stop offset="0.462" stop-color="#eef3df"/><stop offset="0.538" stop-color="#ebf4e5"/><stop offset="0.615" stop-color="#e4f2f2"/><stop offset="0.692" stop-color="#e0f1f9"/><stop offset="0.769" stop-color="#dceff8"/><stop offset="0.846" stop-color="#cde7f4"/><stop offset="0.923" stop-color="#c8e5f2"/><stop offset="1.000" stop-color="#c8e5f2"/></linearGradient><linearGradient id="w88" gradientUnits="userSpaceOnUse" x1="0" y1="324.2" x2="0" y2="394.3"><stop offset="0.000" stop-color="#ebecd9"/><stop offset="0.083" stop-color="#ebecd9"/><stop offset="0.167" stop-color="#f6e8be"/><stop offset="0.250" stop-color="#f8e7ba"/><stop offset="0.333" stop-color="#f5eac4"/><stop offset="0.417" stop-color="#eeeed4"/><stop offset="0.500" stop-color="#e9f0de"/><stop offset="0.583" stop-color="#e3efe9"/><stop offset="0.667" stop-color="#ddedf4"/><stop offset="0.750" stop-color="#d7ebf4"/><stop offset="0.833" stop-color="#c7e3ef"/><stop offset="0.917" stop-color="#c4e1ee"/><stop offset="1.000" stop-color="#c4e1ee"/></linearGradient><linearGradient id="w89" gradientUnits="userSpaceOnUse" x1="0" y1="323.4" x2="0" y2="393.4"><stop offset="0.000" stop-color="#f3eed0"/><stop offset="0.083" stop-color="#f3eed0"/><stop offset="0.167" stop-color="#fae9bd"/><stop offset="0.250" stop-color="#fbe9bb"/><stop offset="0.333" stop-color="#f6edc9"/><stop offset="0.417" stop-color="#f1f0d5"/><stop offset="0.500" stop-color="#ecf3e0"/><stop offset="0.583" stop-color="#e8f2e7"/><stop offset="0.667" stop-color="#e0f0f5"/><stop offset="0.750" stop-color="#dff0f8"/><stop offset="0.833" stop-color="#d4eaf5"/><stop offset="0.917" stop-color="#c8e4f1"/><stop offset="1.000" stop-color="#c7e4f1"/></linearGradient><linearGradient id="w90" gradientUnits="userSpaceOnUse" x1="0" y1="322.7" x2="0" y2="395.4"><stop offset="0.000" stop-color="#f5edca"/><stop offset="0.077" stop-color="#f5edca"/><stop offset="0.154" stop-color="#f9e9bd"/><stop offset="0.231" stop-color="#fae8ba"/><stop offset="0.308" stop-color="#f6ecc6"/><stop offset="0.385" stop-color="#f2eed0"/><stop offset="0.462" stop-color="#ebf2e0"/><stop offset="0.538" stop-color="#e9f2e3"/><stop offset="0.615" stop-color="#e2f0f0"/><stop offset="0.692" stop-color="#deeff7"/><stop offset="0.769" stop-color="#d9edf6"/><stop offset="0.846" stop-color="#c7e3f0"/><stop offset="0.923" stop-color="#bedeee"/><stop offset="1.000" stop-color="#bedeee"/></linearGradient><linearGradient id="w91" gradientUnits="userSpaceOnUse" x1="0" y1="321.9" x2="0" y2="394.1"><stop offset="0.000" stop-color="#efe7c4"/><stop offset="0.077" stop-color="#efe7c4"/><stop offset="0.154" stop-color="#f2e3b8"/><stop offset="0.231" stop-color="#f4e2b4"/><stop offset="0.308" stop-color="#f0e5bf"/><stop offset="0.385" stop-color="#ece8cb"/><stop offset="0.462" stop-color="#e5ecda"/><stop offset="0.538" stop-color="#e2ebdf"/><stop offset="0.615" stop-color="#dae9ec"/><stop offset="0.692" stop-color="#d6e8f0"/><stop offset="0.769" stop-color="#cbe2ed"/><stop offset="0.846" stop-color="#acd0e4"/><stop offset="0.923" stop-color="#a8cde3"/><stop offset="1.000" stop-color="#a8cde3"/></linearGradient><linearGradient id="w92" gradientUnits="userSpaceOnUse" x1="0" y1="321.7" x2="0" y2="392.2"><stop offset="0.000" stop-color="#f4ecc9"/><stop offset="0.083" stop-color="#f4ecc9"/><stop offset="0.167" stop-color="#f8e8bb"/><stop offset="0.250" stop-color="#f8e8bb"/><stop offset="0.333" stop-color="#f4ebc7"/><stop offset="0.417" stop-color="#ecf0da"/><stop offset="0.500" stop-color="#e9f1e1"/><stop offset="0.583" stop-color="#e0eff1"/><stop offset="0.667" stop-color="#ddeef6"/><stop offset="0.750" stop-color="#cde6f1"/><stop offset="0.833" stop-color="#a0c9e4"/><stop offset="0.917" stop-color="#9ec8e4"/><stop offset="1.000" stop-color="#9ec8e4"/></linearGradient><linearGradient id="w93" gradientUnits="userSpaceOnUse" x1="0" y1="321.5" x2="0" y2="390.9"><stop offset="0.000" stop-color="#f5edca"/><stop offset="0.083" stop-color="#f5edca"/><stop offset="0.167" stop-color="#f9e8ba"/><stop offset="0.250" stop-color="#f9e8bb"/><stop offset="0.333" stop-color="#f5ecc9"/><stop offset="0.417" stop-color="#efefd6"/><stop offset="0.500" stop-color="#ebf2e0"/><stop offset="0.583" stop-color="#e6f1e7"/><stop offset="0.667" stop-color="#dfeff5"/><stop offset="0.750" stop-color="#deeff7"/><stop offset="0.833" stop-color="#d2e9f3"/><stop offset="0.917" stop-color="#c7e3f0"/><stop offset="1.000" stop-color="#8fbee0"/></linearGradient><linearGradient id="w94" gradientUnits="userSpaceOnUse" x1="0" y1="321.2" x2="0" y2="390.7"><stop offset="0.000" stop-color="#f6eecb"/><stop offset="0.083" stop-color="#f6edca"/><stop offset="0.167" stop-color="#fbe9bb"/><stop offset="0.250" stop-color="#faeabd"/><stop offset="0.333" stop-color="#f5eecc"/><stop offset="0.417" stop-color="#eef1db"/><stop offset="0.500" stop-color="#ebf3e2"/><stop offset="0.583" stop-color="#e4f1ef"/><stop offset="0.667" stop-color="#deeff7"/><stop offset="0.750" stop-color="#d7ecf5"/><stop offset="0.833" stop-color="#c1e0ef"/><stop offset="0.917" stop-color="#8abadf"/><stop offset="1.000" stop-color="#89badf"/></linearGradient><linearGradient id="w95" gradientUnits="userSpaceOnUse" x1="0" y1="320.5" x2="0" y2="390.4"><stop offset="0.000" stop-color="#efe7c4"/><stop offset="0.083" stop-color="#efe6c2"/><stop offset="0.167" stop-color="#f3e2b5"/><stop offset="0.250" stop-color="#f3e3b8"/><stop offset="0.333" stop-color="#eee7c6"/><stop offset="0.417" stop-color="#e7ebd4"/><stop offset="0.500" stop-color="#e3ebdc"/><stop offset="0.583" stop-color="#dceae9"/><stop offset="0.667" stop-color="#d6e8f0"/><stop offset="0.750" stop-color="#cee4ee"/><stop offset="0.833" stop-color="#b6d6e7"/><stop offset="0.917" stop-color="#8fbcdc"/><stop offset="1.000" stop-color="#82b3d8"/></linearGradient><linearGradient id="w96" gradientUnits="userSpaceOnUse" x1="0" y1="319.8" x2="0" y2="390.1"><stop offset="0.000" stop-color="#f7efcc"/><stop offset="0.083" stop-color="#f7efca"/><stop offset="0.167" stop-color="#fbeabe"/><stop offset="0.250" stop-color="#faecc1"/><stop offset="0.333" stop-color="#f6efce"/><stop offset="0.417" stop-color="#eff3de"/><stop offset="0.500" stop-color="#ebf3e6"/><stop offset="0.583" stop-color="#e2f2f5"/><stop offset="0.667" stop-color="#dbeff8"/><stop offset="0.750" stop-color="#cfe9f4"/><stop offset="0.833" stop-color="#add3ea"/><stop offset="0.917" stop-color="#8abbe0"/><stop offset="1.000" stop-color="#8abbe0"/></linearGradient><linearGradient id="w97" gradientUnits="userSpaceOnUse" x1="0" y1="319.0" x2="0" y2="389.5"><stop offset="0.000" stop-color="#f2eac7"/><stop offset="0.083" stop-color="#f2eac7"/><stop offset="0.167" stop-color="#f7e6b8"/><stop offset="0.250" stop-color="#f5e7bd"/><stop offset="0.333" stop-color="#f2eac8"/><stop offset="0.417" stop-color="#e9efdb"/><stop offset="0.500" stop-color="#e8efdd"/><stop offset="0.583" stop-color="#e1edeb"/><stop offset="0.667" stop-color="#dcecf3"/><stop offset="0.750" stop-color="#d2e8f2"/><stop offset="0.833" stop-color="#c6e2ee"/><stop offset="0.917" stop-color="#abd0e6"/><stop offset="1.000" stop-color="#8ab9dd"/></linearGradient><linearGradient id="w98" gradientUnits="userSpaceOnUse" x1="0" y1="318.5" x2="0" y2="390.2"><stop offset="0.000" stop-color="#f5edca"/><stop offset="0.077" stop-color="#f5edca"/><stop offset="0.154" stop-color="#f9e8bc"/><stop offset="0.231" stop-color="#f8e9be"/><stop offset="0.308" stop-color="#f4edcc"/><stop offset="0.385" stop-color="#edf0da"/><stop offset="0.462" stop-color="#eaf1e1"/><stop offset="0.538" stop-color="#e1eff2"/><stop offset="0.615" stop-color="#dbedf6"/><stop offset="0.692" stop-color="#c6e3f0"/><stop offset="0.769" stop-color="#b1d5ea"/><stop offset="0.846" stop-color="#8cbcdf"/><stop offset="0.923" stop-color="#8cbcdf"/><stop offset="1.000" stop-color="#8cbcdf"/></linearGradient><linearGradient id="w99" gradientUnits="userSpaceOnUse" x1="0" y1="318.0" x2="0" y2="388.1"><stop offset="0.000" stop-color="#f7efcc"/><stop offset="0.083" stop-color="#f7efcc"/><stop offset="0.167" stop-color="#faebc2"/><stop offset="0.250" stop-color="#f8edc7"/><stop offset="0.333" stop-color="#f3f0d4"/><stop offset="0.417" stop-color="#eef3e0"/><stop offset="0.500" stop-color="#eaf3e6"/><stop offset="0.583" stop-color="#e3f1f3"/><stop offset="0.667" stop-color="#dbeef7"/><stop offset="0.750" stop-color="#cfe9f4"/><stop offset="0.833" stop-color="#bddeef"/><stop offset="0.917" stop-color="#a3cde8"/><stop offset="1.000" stop-color="#96c4e4"/></linearGradient><linearGradient id="w100" gradientUnits="userSpaceOnUse" x1="0" y1="318.0" x2="0" y2="382.9"><stop offset="0.000" stop-color="#efe7c4"/><stop offset="0.091" stop-color="#efe7c4"/><stop offset="0.182" stop-color="#f1e5be"/><stop offset="0.273" stop-color="#eee7c5"/><stop offset="0.364" stop-color="#e9ead2"/><stop offset="0.455" stop-color="#e5ecda"/><stop offset="0.545" stop-color="#e0ebe4"/><stop offset="0.636" stop-color="#d9e9f0"/><stop offset="0.727" stop-color="#cbe3ed"/><stop offset="0.818" stop-color="#bbdae9"/><stop offset="0.909" stop-color="#aad0e5"/><stop offset="1.000" stop-color="#96c3df"/></linearGradient><linearGradient id="w101" gradientUnits="userSpaceOnUse" x1="0" y1="319.1" x2="0" y2="381.6"><stop offset="0.000" stop-color="#f1e9c6"/><stop offset="0.091" stop-color="#f1e9c6"/><stop offset="0.182" stop-color="#f1e8c4"/><stop offset="0.273" stop-color="#edeacd"/><stop offset="0.364" stop-color="#e8edd9"/><stop offset="0.455" stop-color="#e7eedc"/><stop offset="0.545" stop-color="#dfece9"/><stop offset="0.636" stop-color="#daebf2"/><stop offset="0.727" stop-color="#c7e2ed"/><stop offset="0.818" stop-color="#badbea"/><stop offset="0.909" stop-color="#a7cfe5"/><stop offset="1.000" stop-color="#a0cbe3"/></linearGradient><linearGradient id="w102" gradientUnits="userSpaceOnUse" x1="0" y1="320.2" x2="0" y2="385.7"><stop offset="0.000" stop-color="#f1ebca"/><stop offset="0.091" stop-color="#f1ebca"/><stop offset="0.182" stop-color="#f1ebca"/><stop offset="0.273" stop-color="#ebeed7"/><stop offset="0.364" stop-color="#e9f0de"/><stop offset="0.455" stop-color="#e4efe5"/><stop offset="0.545" stop-color="#dcedf5"/><stop offset="0.636" stop-color="#cee6f0"/><stop offset="0.727" stop-color="#c1dfed"/><stop offset="0.818" stop-color="#a6d0e7"/><stop offset="0.909" stop-color="#a6d0e7"/><stop offset="1.000" stop-color="#a6d0e7"/></linearGradient><linearGradient id="w103" gradientUnits="userSpaceOnUse" x1="0" y1="321.4" x2="0" y2="383.1"><stop offset="0.000" stop-color="#f3f1d4"/><stop offset="0.091" stop-color="#f3f1d4"/><stop offset="0.182" stop-color="#f3f1d5"/><stop offset="0.273" stop-color="#eff3de"/><stop offset="0.364" stop-color="#edf4e2"/><stop offset="0.455" stop-color="#eaf3e8"/><stop offset="0.545" stop-color="#e2f2f7"/><stop offset="0.636" stop-color="#ddeff8"/><stop offset="0.727" stop-color="#c9e6f2"/><stop offset="0.818" stop-color="#baddef"/><stop offset="0.909" stop-color="#aad4eb"/><stop offset="1.000" stop-color="#aad4eb"/></linearGradient><linearGradient id="w104" gradientUnits="userSpaceOnUse" x1="0" y1="323.0" x2="0" y2="377.8"><stop offset="0.000" stop-color="#eff1d8"/><stop offset="0.111" stop-color="#eff1d8"/><stop offset="0.222" stop-color="#eef1db"/><stop offset="0.333" stop-color="#ebf2e0"/><stop offset="0.444" stop-color="#eaf2e4"/><stop offset="0.556" stop-color="#e0f0f4"/><stop offset="0.667" stop-color="#d7ecf5"/><stop offset="0.778" stop-color="#c6e3f0"/><stop offset="0.889" stop-color="#abd4ea"/><stop offset="1.000" stop-color="#a8d2e9"/></linearGradient><linearGradient id="w105" gradientUnits="userSpaceOnUse" x1="0" y1="324.7" x2="0" y2="375.7"><stop offset="0.000" stop-color="#e7ecd8"/><stop offset="0.111" stop-color="#e7ecd8"/><stop offset="0.222" stop-color="#e6ecd9"/><stop offset="0.333" stop-color="#e5ecda"/><stop offset="0.444" stop-color="#e3ecdf"/><stop offset="0.556" stop-color="#daeaef"/><stop offset="0.667" stop-color="#d2e6ef"/><stop offset="0.778" stop-color="#c0ddea"/><stop offset="0.889" stop-color="#a4cde4"/><stop offset="1.000" stop-color="#a2cce3"/></linearGradient><linearGradient id="w106" gradientUnits="userSpaceOnUse" x1="0" y1="327.5" x2="0" y2="376.3"><stop offset="0.000" stop-color="#e5eedf"/><stop offset="0.125" stop-color="#e5eedf"/><stop offset="0.250" stop-color="#e5eedf"/><stop offset="0.375" stop-color="#e5ede0"/><stop offset="0.500" stop-color="#ddeced"/><stop offset="0.625" stop-color="#d9eaf3"/><stop offset="0.750" stop-color="#c2dfec"/><stop offset="0.875" stop-color="#afd4e7"/><stop offset="1.000" stop-color="#a4cee5"/></linearGradient><linearGradient id="w107" gradientUnits="userSpaceOnUse" x1="0" y1="333.7" x2="0" y2="379.0"><stop offset="0.000" stop-color="#e4efe7"/><stop offset="0.125" stop-color="#e4efe7"/><stop offset="0.250" stop-color="#e4efe7"/><stop offset="0.375" stop-color="#dfeeef"/><stop offset="0.500" stop-color="#dcedf5"/><stop offset="0.625" stop-color="#c8e3ef"/><stop offset="0.750" stop-color="#bfdeed"/><stop offset="0.875" stop-color="#a8d1e8"/><stop offset="1.000" stop-color="#a5cfe7"/></linearGradient><linearGradient id="w108" gradientUnits="userSpaceOnUse" x1="0" y1="345.8" x2="0" y2="376.8"><stop offset="0.000" stop-color="#e5f2f1"/><stop offset="0.200" stop-color="#e1f1f7"/><stop offset="0.400" stop-color="#d9edf7"/><stop offset="0.600" stop-color="#c8e5f2"/><stop offset="0.800" stop-color="#b1d8ed"/><stop offset="1.000" stop-color="#a9d3eb"/></linearGradient><linearGradient id="w109" gradientUnits="userSpaceOnUse" x1="0" y1="348.2" x2="0" y2="383.5"><stop offset="0.000" stop-color="#d9e9ee"/><stop offset="0.167" stop-color="#d8e9f0"/><stop offset="0.333" stop-color="#d7e8f0"/><stop offset="0.500" stop-color="#c3deeb"/><stop offset="0.667" stop-color="#bfdce9"/><stop offset="0.833" stop-color="#acd1e5"/><stop offset="1.000" stop-color="#a2cce3"/></linearGradient><linearGradient id="w110" gradientUnits="userSpaceOnUse" x1="0" y1="348.5" x2="0" y2="391.9"><stop offset="0.000" stop-color="#d5e7f0"/><stop offset="0.143" stop-color="#d5e7f0"/><stop offset="0.286" stop-color="#c5dfeb"/><stop offset="0.429" stop-color="#bbdae9"/><stop offset="0.571" stop-color="#a1cbe2"/><stop offset="0.714" stop-color="#8fbddc"/><stop offset="0.857" stop-color="#80b1d7"/><stop offset="1.000" stop-color="#7eb0d6"/></linearGradient><linearGradient id="w111" gradientUnits="userSpaceOnUse" x1="0" y1="348.5" x2="0" y2="397.0"><stop offset="0.000" stop-color="#d5eaf4"/><stop offset="0.125" stop-color="#d5eaf4"/><stop offset="0.250" stop-color="#cde6f2"/><stop offset="0.375" stop-color="#bfdfee"/><stop offset="0.500" stop-color="#afd6ea"/><stop offset="0.625" stop-color="#a1cce6"/><stop offset="0.750" stop-color="#88b9de"/><stop offset="0.875" stop-color="#7fb1da"/><stop offset="1.000" stop-color="#7db0da"/></linearGradient><linearGradient id="w112" gradientUnits="userSpaceOnUse" x1="0" y1="350.9" x2="0" y2="399.0"><stop offset="0.000" stop-color="#cce4f0"/><stop offset="0.125" stop-color="#cce4f0"/><stop offset="0.250" stop-color="#c6e1ee"/><stop offset="0.375" stop-color="#b7d9ea"/><stop offset="0.500" stop-color="#a9d1e7"/><stop offset="0.625" stop-color="#9bc7e2"/><stop offset="0.750" stop-color="#87b8dc"/><stop offset="0.875" stop-color="#7caed7"/><stop offset="1.000" stop-color="#73a7d4"/></linearGradient><linearGradient id="w113" gradientUnits="userSpaceOnUse" x1="0" y1="350.3" x2="0" y2="400.3"><stop offset="0.000" stop-color="#c8e4f0"/><stop offset="0.111" stop-color="#c8e4f0"/><stop offset="0.222" stop-color="#c3e1ef"/><stop offset="0.333" stop-color="#add4e9"/><stop offset="0.444" stop-color="#a4cfe7"/><stop offset="0.556" stop-color="#8bbbdf"/><stop offset="0.667" stop-color="#84b5dc"/><stop offset="0.778" stop-color="#6fa3d3"/><stop offset="0.889" stop-color="#6fa3d3"/><stop offset="1.000" stop-color="#6fa3d3"/></linearGradient><linearGradient id="w114" gradientUnits="userSpaceOnUse" x1="0" y1="351.3" x2="0" y2="400.7"><stop offset="0.000" stop-color="#c0dfef"/><stop offset="0.125" stop-color="#c0dfef"/><stop offset="0.250" stop-color="#bbdcee"/><stop offset="0.375" stop-color="#a5d0e9"/><stop offset="0.500" stop-color="#9fcbe7"/><stop offset="0.625" stop-color="#89badf"/><stop offset="0.750" stop-color="#7db0db"/><stop offset="0.875" stop-color="#6da2d4"/><stop offset="1.000" stop-color="#6da2d4"/></linearGradient><linearGradient id="w115" gradientUnits="userSpaceOnUse" x1="0" y1="354.1" x2="0" y2="403.0"><stop offset="0.000" stop-color="#abcfe5"/><stop offset="0.125" stop-color="#abcfe5"/><stop offset="0.250" stop-color="#9cc7e2"/><stop offset="0.375" stop-color="#97c4e1"/><stop offset="0.500" stop-color="#84b5da"/><stop offset="0.625" stop-color="#74a7d4"/><stop offset="0.750" stop-color="#689dcf"/><stop offset="0.875" stop-color="#689dcf"/><stop offset="1.000" stop-color="#689dcf"/></linearGradient><linearGradient id="w116" gradientUnits="userSpaceOnUse" x1="0" y1="363.6" x2="0" y2="400.4"><stop offset="0.000" stop-color="#9fc9e5"/><stop offset="0.167" stop-color="#96c3e3"/><stop offset="0.333" stop-color="#94c2e2"/><stop offset="0.500" stop-color="#8abbdf"/><stop offset="0.667" stop-color="#7aadd9"/><stop offset="0.833" stop-color="#6ca1d3"/><stop offset="1.000" stop-color="#6ca1d3"/></linearGradient><linearGradient id="w117" gradientUnits="userSpaceOnUse" x1="0" y1="372.1" x2="0" y2="398.8"><stop offset="0.000" stop-color="#86b7da"/><stop offset="0.250" stop-color="#82b3d8"/><stop offset="0.500" stop-color="#689dce"/><stop offset="0.750" stop-color="#679cce"/><stop offset="1.000" stop-color="#679cce"/></linearGradient><linearGradient id="w118" gradientUnits="userSpaceOnUse" x1="0" y1="372.6" x2="0" y2="399.3"><stop offset="0.000" stop-color="#7fb0d7"/><stop offset="0.250" stop-color="#7caed6"/><stop offset="0.500" stop-color="#669bcd"/><stop offset="0.750" stop-color="#669bcd"/><stop offset="1.000" stop-color="#669bcd"/></linearGradient><linearGradient id="w119" gradientUnits="userSpaceOnUse" x1="0" y1="370.6" x2="0" y2="397.2"><stop offset="0.000" stop-color="#78abd5"/><stop offset="0.250" stop-color="#78abd5"/><stop offset="0.500" stop-color="#6ca0d0"/><stop offset="0.750" stop-color="#679cce"/><stop offset="1.000" stop-color="#679cce"/></linearGradient><linearGradient id="w120" gradientUnits="userSpaceOnUse" x1="0" y1="375.0" x2="0" y2="393.2"><stop offset="0.000" stop-color="#74a8d5"/><stop offset="0.333" stop-color="#73a6d4"/><stop offset="0.667" stop-color="#6a9fd1"/><stop offset="1.000" stop-color="#6a9fd1"/></linearGradient><linearGradient id="w121" gradientUnits="userSpaceOnUse" x1="0" y1="377.3" x2="0" y2="392.6"><stop offset="0.000" stop-color="#6da2d2"/><stop offset="0.500" stop-color="#6da2d2"/><stop offset="1.000" stop-color="#6a9fd1"/></linearGradient><linearGradient id="w122" gradientUnits="userSpaceOnUse" x1="0" y1="377.0" x2="0" y2="409.0"><stop offset="0.000" stop-color="#6da2d4"/><stop offset="0.200" stop-color="#6da2d4"/><stop offset="0.400" stop-color="#6da2d4"/><stop offset="0.600" stop-color="#6da2d4"/><stop offset="0.800" stop-color="#6da2d4"/><stop offset="1.000" stop-color="#6da2d4"/></linearGradient><linearGradient id="w123" gradientUnits="userSpaceOnUse" x1="0" y1="396.0" x2="0" y2="409.0"><stop offset="0.000" stop-color="#689dcf"/><stop offset="0.500" stop-color="#689dcf"/><stop offset="1.000" stop-color="#689dcf"/></linearGradient><linearGradient id="w124" gradientUnits="userSpaceOnUse" x1="0" y1="396.0" x2="0" y2="409.0"><stop offset="0.000" stop-color="#6ca1d3"/><stop offset="0.500" stop-color="#6ca1d3"/><stop offset="1.000" stop-color="#6ca1d3"/></linearGradient>
</defs>
<g clip-path="url(#wfc)" shape-rendering="crispEdges"><rect x="555" y="396.0" width="3.0" height="13.0" fill="url(#w0)"/><rect x="557.5" y="397.9" width="3.0" height="13.7" fill="url(#w1)"/><rect x="560.0" y="397.1" width="3.0" height="21.7" fill="url(#w2)"/><rect x="562.5" y="396.6" width="3.0" height="31.2" fill="url(#w3)"/><rect x="565.0" y="395.8" width="3.0" height="42.4" fill="url(#w4)"/><rect x="567.5" y="393.8" width="3.0" height="50.8" fill="url(#w5)"/><rect x="570.0" y="391.2" width="3.0" height="47.5" fill="url(#w6)"/><rect x="572.5" y="387.0" width="3.0" height="50.3" fill="url(#w7)"/><rect x="575.0" y="372.4" width="3.0" height="68.7" fill="url(#w8)"/><rect x="577.5" y="351.0" width="3.0" height="88.2" fill="url(#w9)"/><rect x="580.0" y="339.9" width="3.0" height="99.7" fill="url(#w10)"/><rect x="582.5" y="334.5" width="3.0" height="107.7" fill="url(#w11)"/><rect x="585.0" y="330.4" width="3.0" height="112.8" fill="url(#w12)"/><rect x="587.5" y="327.3" width="3.0" height="112.4" fill="url(#w13)"/><rect x="590.0" y="326.6" width="3.0" height="111.6" fill="url(#w14)"/><rect x="592.5" y="328.8" width="3.0" height="109.8" fill="url(#w15)"/><rect x="595.0" y="328.4" width="3.0" height="112.6" fill="url(#w16)"/><rect x="597.5" y="325.7" width="3.0" height="112.8" fill="url(#w17)"/><rect x="600.0" y="324.2" width="3.0" height="111.4" fill="url(#w18)"/><rect x="602.5" y="322.3" width="3.0" height="110.9" fill="url(#w19)"/><rect x="605.0" y="319.9" width="3.0" height="111.6" fill="url(#w20)"/><rect x="607.5" y="318.3" width="3.0" height="111.4" fill="url(#w21)"/><rect x="610.0" y="319.5" width="3.0" height="108.3" fill="url(#w22)"/><rect x="612.5" y="316.9" width="3.0" height="110.1" fill="url(#w23)"/><rect x="615.0" y="314.9" width="3.0" height="111.6" fill="url(#w24)"/><rect x="617.5" y="313.2" width="3.0" height="109.4" fill="url(#w25)"/><rect x="620.0" y="312.1" width="3.0" height="111.3" fill="url(#w26)"/><rect x="622.5" y="311.4" width="3.0" height="110.6" fill="url(#w27)"/><rect x="625.0" y="309.7" width="3.0" height="111.0" fill="url(#w28)"/><rect x="627.5" y="307.7" width="3.0" height="118.5" fill="url(#w29)"/><rect x="630.0" y="309.4" width="3.0" height="117.2" fill="url(#w30)"/><rect x="632.5" y="306.4" width="3.0" height="119.8" fill="url(#w31)"/><rect x="635.0" y="305.4" width="3.0" height="118.4" fill="url(#w32)"/><rect x="637.5" y="304.5" width="3.0" height="118.9" fill="url(#w33)"/><rect x="640.0" y="303.3" width="3.0" height="125.3" fill="url(#w34)"/><rect x="642.5" y="301.9" width="3.0" height="131.0" fill="url(#w35)"/><rect x="645.0" y="300.5" width="3.0" height="136.6" fill="url(#w36)"/><rect x="647.5" y="298.6" width="3.0" height="144.6" fill="url(#w37)"/><rect x="650.0" y="296.6" width="3.0" height="155.8" fill="url(#w38)"/><rect x="652.5" y="295.7" width="3.0" height="159.0" fill="url(#w39)"/><rect x="655.0" y="298.2" width="3.0" height="150.9" fill="url(#w40)"/><rect x="657.5" y="297.4" width="3.0" height="152.2" fill="url(#w41)"/><rect x="660.0" y="292.9" width="3.0" height="161.2" fill="url(#w42)"/><rect x="662.5" y="294.3" width="3.0" height="161.9" fill="url(#w43)"/><rect x="665.0" y="295.1" width="3.0" height="159.8" fill="url(#w44)"/><rect x="667.5" y="295.7" width="3.0" height="159.7" fill="url(#w45)"/><rect x="670.0" y="300.1" width="3.0" height="157.3" fill="url(#w46)"/><rect x="672.5" y="308.8" width="3.0" height="154.3" fill="url(#w47)"/><rect x="675.0" y="310.6" width="3.0" height="147.8" fill="url(#w48)"/><rect x="677.5" y="310.1" width="3.0" height="143.7" fill="url(#w49)"/><rect x="680.0" y="309.6" width="3.0" height="143.2" fill="url(#w50)"/><rect x="682.5" y="309.0" width="3.0" height="138.4" fill="url(#w51)"/><rect x="685.0" y="306.2" width="3.0" height="135.6" fill="url(#w52)"/><rect x="687.5" y="302.1" width="3.0" height="136.4" fill="url(#w53)"/><rect x="690.0" y="301.3" width="3.0" height="134.3" fill="url(#w54)"/><rect x="692.5" y="300.8" width="3.0" height="135.4" fill="url(#w55)"/><rect x="695.0" y="300.8" width="3.0" height="143.7" fill="url(#w56)"/><rect x="697.5" y="300.3" width="3.0" height="143.1" fill="url(#w57)"/><rect x="700.0" y="299.1" width="3.0" height="138.9" fill="url(#w58)"/><rect x="702.5" y="297.8" width="3.0" height="138.2" fill="url(#w59)"/><rect x="705.0" y="296.7" width="3.0" height="137.3" fill="url(#w60)"/><rect x="707.5" y="296.1" width="3.0" height="141.7" fill="url(#w61)"/><rect x="710.0" y="295.5" width="3.0" height="151.7" fill="url(#w62)"/><rect x="712.5" y="294.9" width="3.0" height="164.8" fill="url(#w63)"/><rect x="715.0" y="295.2" width="3.0" height="174.5" fill="url(#w64)"/><rect x="717.5" y="296.3" width="3.0" height="171.6" fill="url(#w65)"/><rect x="720.0" y="297.4" width="3.0" height="169.4" fill="url(#w66)"/><rect x="722.5" y="299.6" width="3.0" height="165.6" fill="url(#w67)"/><rect x="725.0" y="302.4" width="3.0" height="160.3" fill="url(#w68)"/><rect x="727.5" y="305.2" width="3.0" height="155.0" fill="url(#w69)"/><rect x="730.0" y="305.7" width="3.0" height="152.0" fill="url(#w70)"/><rect x="732.5" y="306.0" width="3.0" height="150.0" fill="url(#w71)"/><rect x="735.0" y="306.2" width="3.0" height="148.1" fill="url(#w72)"/><rect x="737.5" y="307.5" width="3.0" height="145.9" fill="url(#w73)"/><rect x="740.0" y="309.0" width="3.0" height="143.4" fill="url(#w74)"/><rect x="742.5" y="310.7" width="3.0" height="139.1" fill="url(#w75)"/><rect x="745.0" y="312.7" width="3.0" height="127.5" fill="url(#w76)"/><rect x="747.5" y="316.1" width="3.0" height="104.2" fill="url(#w77)"/><rect x="750.0" y="319.9" width="3.0" height="91.1" fill="url(#w78)"/><rect x="752.5" y="321.7" width="3.0" height="85.3" fill="url(#w79)"/><rect x="755.0" y="323.6" width="3.0" height="82.4" fill="url(#w80)"/><rect x="757.5" y="324.0" width="3.0" height="80.2" fill="url(#w81)"/><rect x="760.0" y="323.6" width="3.0" height="78.7" fill="url(#w82)"/><rect x="762.5" y="323.5" width="3.0" height="77.3" fill="url(#w83)"/><rect x="765.0" y="323.5" width="3.0" height="76.4" fill="url(#w84)"/><rect x="767.5" y="326.8" width="3.0" height="72.2" fill="url(#w85)"/><rect x="770.0" y="327.2" width="3.0" height="70.9" fill="url(#w86)"/><rect x="772.5" y="325.7" width="3.0" height="71.6" fill="url(#w87)"/><rect x="775.0" y="324.2" width="3.0" height="70.1" fill="url(#w88)"/><rect x="777.5" y="323.4" width="3.0" height="70.0" fill="url(#w89)"/><rect x="780.0" y="322.7" width="3.0" height="72.8" fill="url(#w90)"/><rect x="782.5" y="321.9" width="3.0" height="72.2" fill="url(#w91)"/><rect x="785.0" y="321.7" width="3.0" height="70.5" fill="url(#w92)"/><rect x="787.5" y="321.5" width="3.0" height="69.5" fill="url(#w93)"/><rect x="790.0" y="321.2" width="3.0" height="69.4" fill="url(#w94)"/><rect x="792.5" y="320.5" width="3.0" height="69.9" fill="url(#w95)"/><rect x="795.0" y="319.8" width="3.0" height="70.3" fill="url(#w96)"/><rect x="797.5" y="319.0" width="3.0" height="70.5" fill="url(#w97)"/><rect x="800.0" y="318.5" width="3.0" height="71.7" fill="url(#w98)"/><rect x="802.5" y="318.0" width="3.0" height="70.0" fill="url(#w99)"/><rect x="805.0" y="318.0" width="3.0" height="65.0" fill="url(#w100)"/><rect x="807.5" y="319.1" width="3.0" height="62.5" fill="url(#w101)"/><rect x="810.0" y="320.2" width="3.0" height="65.5" fill="url(#w102)"/><rect x="812.5" y="321.4" width="3.0" height="61.6" fill="url(#w103)"/><rect x="815.0" y="323.0" width="3.0" height="54.8" fill="url(#w104)"/><rect x="817.5" y="324.7" width="3.0" height="51.0" fill="url(#w105)"/><rect x="820.0" y="327.5" width="3.0" height="48.8" fill="url(#w106)"/><rect x="822.5" y="333.7" width="3.0" height="45.3" fill="url(#w107)"/><rect x="825.0" y="345.8" width="3.0" height="31.0" fill="url(#w108)"/><rect x="827.5" y="348.2" width="3.0" height="35.3" fill="url(#w109)"/><rect x="830.0" y="348.5" width="3.0" height="43.4" fill="url(#w110)"/><rect x="832.5" y="348.5" width="3.0" height="48.5" fill="url(#w111)"/><rect x="835.0" y="350.9" width="3.0" height="48.1" fill="url(#w112)"/><rect x="837.5" y="350.3" width="3.0" height="50.0" fill="url(#w113)"/><rect x="840.0" y="351.3" width="3.0" height="49.4" fill="url(#w114)"/><rect x="842.5" y="354.1" width="3.0" height="48.9" fill="url(#w115)"/><rect x="845.0" y="363.6" width="3.0" height="36.8" fill="url(#w116)"/><rect x="847.5" y="372.1" width="3.0" height="26.7" fill="url(#w117)"/><rect x="850.0" y="372.6" width="3.0" height="26.7" fill="url(#w118)"/><rect x="852.5" y="370.6" width="3.0" height="26.6" fill="url(#w119)"/><rect x="855.0" y="375.0" width="3.0" height="18.2" fill="url(#w120)"/><rect x="857.5" y="377.3" width="3.0" height="15.3" fill="url(#w121)"/><rect x="860.0" y="377.0" width="3.0" height="32.0" fill="url(#w122)"/><rect x="862.5" y="396.0" width="3.0" height="13.0" fill="url(#w123)"/><rect x="865.0" y="396.0" width="3.0" height="13.0" fill="url(#w124)"/></g>
<path d="M611.5 309L746.5 239.7V399L611.5 468.5Z" fill="none" stroke="#ff0000" stroke-width="1" shape-rendering="crispEdges"/>
<text x="495.5" y="305.8" fill="#f4f4b0" text-anchor="end" font-size="16" >0</text>
<text x="495.5" y="332.3" fill="#f4f4b0" text-anchor="end" font-size="16" >-20</text>
<text x="495.5" y="358.8" fill="#f4f4b0" text-anchor="end" font-size="16" >-40</text>
<text x="495.5" y="385.3" fill="#f4f4b0" text-anchor="end" font-size="16" >-60</text>
<text x="495.5" y="411.8" fill="#f4f4b0" text-anchor="end" font-size="16" >-80</text>
<text x="495.5" y="438.3" fill="#f4f4b0" text-anchor="end" font-size="16" >-100</text>
<text x="495.5" y="464.8" fill="#f4f4b0" text-anchor="end" font-size="16" >-120</text>
<text transform="translate(436.7,382) rotate(-90)" fill="#f4f4b0" text-anchor="middle" font-size="16">PSD (dBm)</text>
<text x="503.0" y="471.8" fill="#f4f4b0" text-anchor="middle" font-size="16" >11:59:20</text>
<text x="591.7" y="487.3" fill="#f4f4b0" text-anchor="middle" font-size="16" >11:59:40</text>
<text x="680.4" y="502.8" fill="#f4f4b0" text-anchor="middle" font-size="16" >12:00:00</text>
<text x="769.1" y="518.3" fill="#f4f4b0" text-anchor="middle" font-size="16" >12:00:20</text>
<text transform="translate(596.6,511.3) rotate(11.5)" fill="#f4f4b0" text-anchor="middle" font-size="16">Time (UTC)</text>
<text x="816.3" y="516.0" fill="#f4f4b0" text-anchor="middle" font-size="16" >1210</text>
<text x="838.3499999999999" y="504.4" fill="#f4f4b0" text-anchor="middle" font-size="16" >1215</text>
<text x="860.4" y="492.8" fill="#f4f4b0" text-anchor="middle" font-size="16" >1220</text>
<text x="882.4499999999999" y="481.2" fill="#f4f4b0" text-anchor="middle" font-size="16" >1225</text>
<text x="904.5" y="469.6" fill="#f4f4b0" text-anchor="middle" font-size="16" >1230</text>
<text x="926.55" y="458.0" fill="#f4f4b0" text-anchor="middle" font-size="16" >1235</text>
<text x="948.5999999999999" y="446.4" fill="#f4f4b0" text-anchor="middle" font-size="16" >1240</text>
<text x="970.65" y="434.8" fill="#f4f4b0" text-anchor="middle" font-size="16" >1245</text>
<text transform="translate(933,484) rotate(-27)" fill="#f4f4b0" text-anchor="middle" font-size="16">Frequency (MHz)</text>
<text x="80" y="33.8" fill="#f4f4b0" text-anchor="start" font-size="16" >Sensor Node</text>
<text x="80" y="52.8" fill="#f4f4b0" text-anchor="start" font-size="16" >Name</text>
<text x="163" y="52.8" fill="#f6f600" text-anchor="start" font-size="16" >PWCS_SN</text>
<text x="80" y="71.8" fill="#f4f4b0" text-anchor="start" font-size="16" >Lat (deg)</text>
<text x="163" y="71.8" fill="#f6f600" text-anchor="start" font-size="16" >-32.880233765</text>
<text x="80" y="90.8" fill="#f4f4b0" text-anchor="start" font-size="16" >Lon (deg)</text>
<text x="163" y="90.8" fill="#f6f600" text-anchor="start" font-size="16" >151.772232056</text>
<text x="347" y="33.8" fill="#f4f4b0" text-anchor="start" font-size="16" >Event</text>
<text x="347" y="52.8" fill="#f4f4b0" text-anchor="start" font-size="16" >Start Time (UTC)</text>
<text x="485" y="52.8" fill="#f6f600" text-anchor="start" font-size="16" >2025-04-10T11:59:45Z</text>
<text x="347" y="71.8" fill="#f4f4b0" text-anchor="start" font-size="16" >End Time (UTC)</text>
<text x="485" y="71.8" fill="#f6f600" text-anchor="start" font-size="16" >2025-04-10T12:00:05Z</text>
<text x="347" y="90.8" fill="#f4f4b0" text-anchor="start" font-size="16" >Period (sec)</text>
<text x="485" y="90.8" fill="#f6f600" text-anchor="start" font-size="16" >20</text>
<text x="668" y="33.8" fill="#f4f4b0" text-anchor="start" font-size="16" >Interference</text>
<text x="668" y="52.8" fill="#f4f4b0" text-anchor="start" font-size="16" >Band</text>
<text x="852" y="52.8" fill="#f6f600" text-anchor="start" font-size="16" >L2</text>
<text x="668" y="71.8" fill="#f4f4b0" text-anchor="start" font-size="16" >Type</text>
<text x="852" y="71.8" fill="#f6f600" text-anchor="start" font-size="16" >Jammer</text>
<text x="668" y="90.8" fill="#f4f4b0" text-anchor="start" font-size="16" >Max Rx Power (dBm)</text>
<text x="852" y="90.8" fill="#f6f600" text-anchor="start" font-size="16" >-95.52</text>
<text x="229" y="185.8" fill="#f4f4b0" text-anchor="middle" font-size="16" >Sky Plot at the Epoch of Max Rx Power</text>
<text x="229" y="204.8" fill="#f4f4b0" text-anchor="middle" font-size="16" >2025-04-10T11:59:39.000Z</text>
<text x="720" y="194.8" fill="#f4f4b0" text-anchor="middle" font-size="16" >Waterfall Plot</text>
<text x="538.5" y="606.8" fill="#f4f4b0" text-anchor="middle" font-size="16" >Max Rx Power</text>
<text x="538.5" y="757.8" fill="#f4f4b0" text-anchor="middle" font-size="16" >Time (UTC)</text>
<text transform="translate(20,671) rotate(-90)" fill="#f4f4b0" text-anchor="middle" font-size="16">Power (dBm)</text>
<g shape-rendering="crispEdges" fill="none" stroke-width="1">
<path d="M90.5 663.5H990.5" stroke="#c4c4c4" stroke-dasharray="2 2"/>
<path d="M390.5 632.5V707.5" stroke="#c4c4c4" stroke-dasharray="2 2"/>
<path d="M690.5 632.5V707.5" stroke="#c4c4c4" stroke-dasharray="2 2"/>
</g>
<g fill="none" stroke="#ecec00" stroke-width="1" shape-rendering="crispEdges">
<path d="M270.5 677 L285.5 684.5"/>
<path d="M315.5 657 L330.5 662.5 L345.5 655.3 L360.5 663.3 L375.5 654 L390.5 664.5 L405.5 668.5 L420.5 661.5 L435.5 672.5 L450.5 676 L465.5 683.5 L480.5 660.3"/>
<path d="M585.5 686.3 L600.5 681.5 L615.5 668.5 L630.5 676.5 L645.5 675.5 L660.5 661.5 L675.5 674.5"/>
<rect x="510" y="686" width="1" height="1" fill="#ecec00" stroke="none"/>
</g>
<g shape-rendering="crispEdges" fill="none" stroke-width="1">
<path d="M375.5 632.5V707.5" stroke="#ff0000"/>
<path d="M90.5 632.5v8M90.5 707.5v-8M390.5 632.5v8M390.5 707.5v-8M690.5 632.5v8M690.5 707.5v-8M990.5 632.5v8M990.5 707.5v-8M240.5 632.5v4M240.5 707.5v-4M540.5 632.5v4M540.5 707.5v-4M840.5 632.5v4M840.5 707.5v-4M90.5 663.5h8M990.5 663.5h-8M90.5 707.5h8" stroke="#f4f4b0"/>
<rect x="90.5" y="632.5" width="900.0" height="75.0" stroke="#f4f4b0"/>
</g>
<text x="77" y="667.3" fill="#f4f4b0" text-anchor="end" font-size="16" >-100</text>
<text x="77" y="711.3" fill="#f4f4b0" text-anchor="end" font-size="16" >-120</text>
<text x="89.3" y="730.3" fill="#f4f4b0" text-anchor="middle" font-size="16" >11:59:20</text>
<text x="389.3" y="730.3" fill="#f4f4b0" text-anchor="middle" font-size="16" >11:59:40</text>
<text x="689.3" y="730.3" fill="#f4f4b0" text-anchor="middle" font-size="16" >12:00:00</text>
<text x="989.3" y="730.3" fill="#f4f4b0" text-anchor="middle" font-size="16" >12:00:20</text>
</svg>
</body></html>
